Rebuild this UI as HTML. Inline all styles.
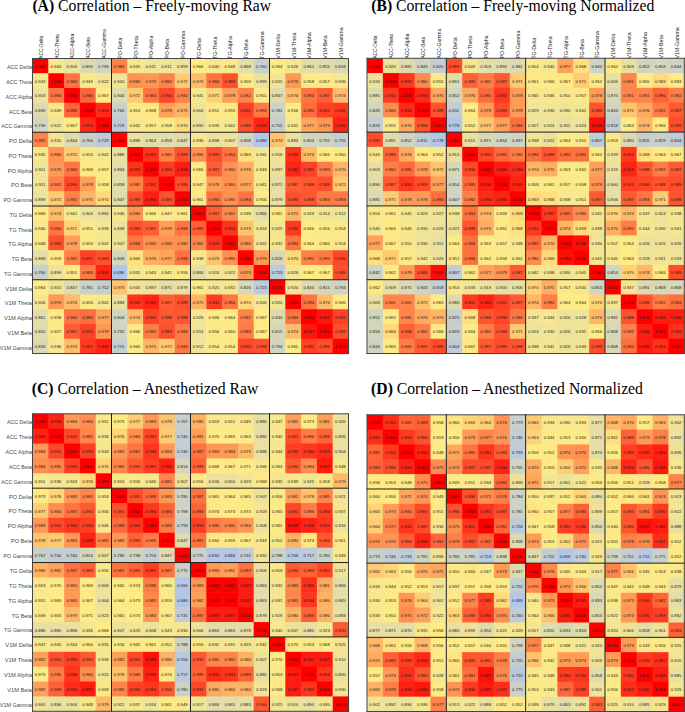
<!DOCTYPE html>
<html><head><meta charset="utf-8"><title>Correlation matrices</title>
<style>
html,body{margin:0;padding:0;background:#fff;}
body{width:685px;height:712px;overflow:hidden;position:relative;}
svg{position:absolute;left:0;top:0;display:block;}
.n{font-family:"Liberation Sans",sans-serif;font-size:4.25px;fill:#1a1a1a;text-anchor:middle;}
.r{font-family:"Liberation Sans",sans-serif;font-size:5.75px;fill:#484848;text-anchor:end;}
.c{font-family:"Liberation Sans",sans-serif;font-size:5.4px;fill:#161616;text-anchor:start;}
.t{font-family:"Liberation Serif",serif;font-size:15.7px;fill:#000;}
.t tspan{font-weight:bold;}
.l{stroke:#202020;stroke-width:1;fill:none;}
.o{stroke:#444;stroke-width:1;}
</style></head><body>
<svg width="685" height="712" viewBox="0 0 685 712">
<rect x="0" y="0" width="685" height="712" fill="#fff"/>

<g id="panelA">
<text class="r" x="31.9" y="69.3" textLength="24.94" lengthAdjust="spacingAndGlyphs">ACC Delta</text>
<text class="r" x="31.9" y="84.05" textLength="25.55" lengthAdjust="spacingAndGlyphs">ACC Theta</text>
<text class="r" x="31.9" y="98.8" textLength="26.35" lengthAdjust="spacingAndGlyphs">ACC Alpha</text>
<text class="r" x="31.9" y="113.55" textLength="22.93" lengthAdjust="spacingAndGlyphs">ACC Beta</text>
<text class="r" x="31.9" y="128.3" textLength="30.57" lengthAdjust="spacingAndGlyphs">ACC Gamma</text>
<text class="r" x="31.9" y="143.05" textLength="22.82" lengthAdjust="spacingAndGlyphs">PO Delta</text>
<text class="r" x="31.9" y="157.8" textLength="23.43" lengthAdjust="spacingAndGlyphs">PO Theta</text>
<text class="r" x="31.9" y="172.55" textLength="24.23" lengthAdjust="spacingAndGlyphs">PO Alpha</text>
<text class="r" x="31.9" y="187.3" textLength="20.82" lengthAdjust="spacingAndGlyphs">PO Beta</text>
<text class="r" x="31.9" y="202.05" textLength="28.45" lengthAdjust="spacingAndGlyphs">PO Gamma</text>
<text class="r" x="31.9" y="216.8" textLength="22.22" lengthAdjust="spacingAndGlyphs">TG Delta</text>
<text class="r" x="31.9" y="231.55" textLength="22.83" lengthAdjust="spacingAndGlyphs">TG Theta</text>
<text class="r" x="31.9" y="246.3" textLength="23.63" lengthAdjust="spacingAndGlyphs">TG Alpha</text>
<text class="r" x="31.9" y="261.05" textLength="20.21" lengthAdjust="spacingAndGlyphs">TG Beta</text>
<text class="r" x="31.9" y="275.8" textLength="27.85" lengthAdjust="spacingAndGlyphs">TG Gamma</text>
<text class="r" x="31.9" y="290.55" textLength="26.54" lengthAdjust="spacingAndGlyphs">V1M Delta</text>
<text class="r" x="31.9" y="305.3" textLength="27.15" lengthAdjust="spacingAndGlyphs">V1M Theta</text>
<text class="r" x="31.9" y="320.05" textLength="27.95" lengthAdjust="spacingAndGlyphs">V1M Alpha</text>
<text class="r" x="31.9" y="334.8" textLength="24.54" lengthAdjust="spacingAndGlyphs">V1M Beta</text>
<text class="r" x="31.9" y="349.55" textLength="32.17" lengthAdjust="spacingAndGlyphs">V1M Gamma</text>
<text class="c" transform="translate(42.75,58.8) rotate(-90)" textLength="23.08" lengthAdjust="spacingAndGlyphs">ACC-Delta</text>
<text class="c" transform="translate(58.55,58.8) rotate(-90)" textLength="24.58" lengthAdjust="spacingAndGlyphs">ACC-Theta</text>
<text class="c" transform="translate(74.35,58.8) rotate(-90)" textLength="24.98" lengthAdjust="spacingAndGlyphs">ACC-Alpha</text>
<text class="c" transform="translate(90.15,58.8) rotate(-90)" textLength="21.82" lengthAdjust="spacingAndGlyphs">ACC-Beta</text>
<text class="c" transform="translate(105.95,58.8) rotate(-90)" textLength="29.79" lengthAdjust="spacingAndGlyphs">ACC-Gamma</text>
<text class="c" transform="translate(121.75,58.8) rotate(-90)" textLength="21.31" lengthAdjust="spacingAndGlyphs">PO-Delta</text>
<text class="c" transform="translate(137.55,58.8) rotate(-90)" textLength="22.8" lengthAdjust="spacingAndGlyphs">PO-Theta</text>
<text class="c" transform="translate(153.35,58.8) rotate(-90)" textLength="23.2" lengthAdjust="spacingAndGlyphs">PO-Alpha</text>
<text class="c" transform="translate(169.15,58.8) rotate(-90)" textLength="20.05" lengthAdjust="spacingAndGlyphs">PO-Beta</text>
<text class="c" transform="translate(184.95,58.8) rotate(-90)" textLength="28.01" lengthAdjust="spacingAndGlyphs">PO-Gamma</text>
<text class="c" transform="translate(200.75,58.8) rotate(-90)" textLength="20.73" lengthAdjust="spacingAndGlyphs">TG-Delta</text>
<text class="c" transform="translate(216.55,58.8) rotate(-90)" textLength="22.23" lengthAdjust="spacingAndGlyphs">TG-Theta</text>
<text class="c" transform="translate(232.35,58.8) rotate(-90)" textLength="22.63" lengthAdjust="spacingAndGlyphs">TG-Alpha</text>
<text class="c" transform="translate(248.15,58.8) rotate(-90)" textLength="19.47" lengthAdjust="spacingAndGlyphs">TG-Beta</text>
<text class="c" transform="translate(263.95,58.8) rotate(-90)" textLength="27.44" lengthAdjust="spacingAndGlyphs">TG-Gamma</text>
<text class="c" transform="translate(279.75,58.8) rotate(-90)" textLength="24.71" lengthAdjust="spacingAndGlyphs">V1M-Delta</text>
<text class="c" transform="translate(295.55,58.8) rotate(-90)" textLength="26.21" lengthAdjust="spacingAndGlyphs">V1M-Theta</text>
<text class="c" transform="translate(311.35,58.8) rotate(-90)" textLength="26.61" lengthAdjust="spacingAndGlyphs">V1M-Alpha</text>
<text class="c" transform="translate(327.15,58.8) rotate(-90)" textLength="23.45" lengthAdjust="spacingAndGlyphs">V1M-Beta</text>
<text class="c" transform="translate(342.95,58.8) rotate(-90)" textLength="31.42" lengthAdjust="spacingAndGlyphs">V1M-Gamma</text>
<rect x="32.5" y="58.5" width="16.4" height="15.35" fill="#ff0000"/>
<rect x="48.3" y="58.5" width="16.4" height="15.35" fill="#f8e88d"/>
<rect x="64.1" y="58.5" width="16.4" height="15.35" fill="#eee39b"/>
<rect x="79.9" y="58.5" width="16.4" height="15.35" fill="#dddab1"/>
<rect x="95.7" y="58.5" width="16.4" height="15.35" fill="#d2d5bf"/>
<rect x="111.5" y="58.5" width="16.4" height="15.35" fill="#ff8249"/>
<rect x="127.3" y="58.5" width="16.4" height="15.35" fill="#f6e78f"/>
<rect x="143.1" y="58.5" width="16.4" height="15.35" fill="#f0e498"/>
<rect x="158.9" y="58.5" width="16.4" height="15.35" fill="#f0e498"/>
<rect x="174.7" y="58.5" width="16.4" height="15.35" fill="#ede29c"/>
<rect x="190.5" y="58.5" width="16.4" height="15.35" fill="#ffeb85"/>
<rect x="206.3" y="58.5" width="16.4" height="15.35" fill="#f8e78e"/>
<rect x="222.1" y="58.5" width="16.4" height="15.35" fill="#fae88b"/>
<rect x="237.9" y="58.5" width="16.4" height="15.35" fill="#e4dea7"/>
<rect x="253.7" y="58.5" width="16.4" height="15.35" fill="#c8d0cd"/>
<rect x="269.5" y="58.5" width="16.4" height="15.35" fill="#feeb85"/>
<rect x="285.3" y="58.5" width="16.4" height="15.35" fill="#f4e693"/>
<rect x="301.1" y="58.5" width="16.4" height="15.35" fill="#e3dda9"/>
<rect x="316.9" y="58.5" width="16.4" height="15.35" fill="#e1dcac"/>
<rect x="332.7" y="58.5" width="16.4" height="15.35" fill="#dbd9b3"/>
<rect x="32.5" y="73.25" width="16.4" height="15.35" fill="#f8e88d"/>
<rect x="48.3" y="73.25" width="16.4" height="15.35" fill="#ff0000"/>
<rect x="64.1" y="73.25" width="16.4" height="15.35" fill="#ff7441"/>
<rect x="79.9" y="73.25" width="16.4" height="15.35" fill="#fae98b"/>
<rect x="95.7" y="73.25" width="16.4" height="15.35" fill="#f3e594"/>
<rect x="111.5" y="73.25" width="16.4" height="15.35" fill="#f2e595"/>
<rect x="127.3" y="73.25" width="16.4" height="15.35" fill="#ff9151"/>
<rect x="143.1" y="73.25" width="16.4" height="15.35" fill="#ff9855"/>
<rect x="158.9" y="73.25" width="16.4" height="15.35" fill="#ff8249"/>
<rect x="174.7" y="73.25" width="16.4" height="15.35" fill="#ffca72"/>
<rect x="190.5" y="73.25" width="16.4" height="15.35" fill="#ffbc6a"/>
<rect x="206.3" y="73.25" width="16.4" height="15.35" fill="#ff7441"/>
<rect x="222.1" y="73.25" width="16.4" height="15.35" fill="#ff502d"/>
<rect x="237.9" y="73.25" width="16.4" height="15.35" fill="#fdea87"/>
<rect x="253.7" y="73.25" width="16.4" height="15.35" fill="#ede29c"/>
<rect x="269.5" y="73.25" width="16.4" height="15.35" fill="#f1e496"/>
<rect x="285.3" y="73.25" width="16.4" height="15.35" fill="#ff9855"/>
<rect x="301.1" y="73.25" width="16.4" height="15.35" fill="#fcea87"/>
<rect x="316.9" y="73.25" width="16.4" height="15.35" fill="#fcea88"/>
<rect x="332.7" y="73.25" width="16.4" height="15.35" fill="#f7e78f"/>
<rect x="32.5" y="88" width="16.4" height="15.35" fill="#eee39b"/>
<rect x="48.3" y="88" width="16.4" height="15.35" fill="#ff7441"/>
<rect x="64.1" y="88" width="16.4" height="15.35" fill="#ff0000"/>
<rect x="79.9" y="88" width="16.4" height="15.35" fill="#ff6539"/>
<rect x="95.7" y="88" width="16.4" height="15.35" fill="#ffeb84"/>
<rect x="111.5" y="88" width="16.4" height="15.35" fill="#dedbaf"/>
<rect x="127.3" y="88" width="16.4" height="15.35" fill="#ffca72"/>
<rect x="143.1" y="88" width="16.4" height="15.35" fill="#ff7441"/>
<rect x="158.9" y="88" width="16.4" height="15.35" fill="#ff4829"/>
<rect x="174.7" y="88" width="16.4" height="15.35" fill="#ff8249"/>
<rect x="190.5" y="88" width="16.4" height="15.35" fill="#f8e88d"/>
<rect x="206.3" y="88" width="16.4" height="15.35" fill="#ffd276"/>
<rect x="222.1" y="88" width="16.4" height="15.35" fill="#ff9f59"/>
<rect x="237.9" y="88" width="16.4" height="15.35" fill="#ff8249"/>
<rect x="253.7" y="88" width="16.4" height="15.35" fill="#fbe98a"/>
<rect x="269.5" y="88" width="16.4" height="15.35" fill="#dfdbae"/>
<rect x="285.3" y="88" width="16.4" height="15.35" fill="#ffbc6a"/>
<rect x="301.1" y="88" width="16.4" height="15.35" fill="#ff7441"/>
<rect x="316.9" y="88" width="16.4" height="15.35" fill="#ff5e35"/>
<rect x="332.7" y="88" width="16.4" height="15.35" fill="#ffbc6a"/>
<rect x="32.5" y="102.75" width="16.4" height="15.35" fill="#dddab1"/>
<rect x="48.3" y="102.75" width="16.4" height="15.35" fill="#fae98b"/>
<rect x="64.1" y="102.75" width="16.4" height="15.35" fill="#ff6539"/>
<rect x="79.9" y="102.75" width="16.4" height="15.35" fill="#ff0000"/>
<rect x="95.7" y="102.75" width="16.4" height="15.35" fill="#ff2b18"/>
<rect x="111.5" y="102.75" width="16.4" height="15.35" fill="#c9d1cb"/>
<rect x="127.3" y="102.75" width="16.4" height="15.35" fill="#fbe989"/>
<rect x="143.1" y="102.75" width="16.4" height="15.35" fill="#ffe782"/>
<rect x="158.9" y="102.75" width="16.4" height="15.35" fill="#ff9f59"/>
<rect x="174.7" y="102.75" width="16.4" height="15.35" fill="#ffb566"/>
<rect x="190.5" y="102.75" width="16.4" height="15.35" fill="#eee39a"/>
<rect x="206.3" y="102.75" width="16.4" height="15.35" fill="#fbe98a"/>
<rect x="222.1" y="102.75" width="16.4" height="15.35" fill="#fdea87"/>
<rect x="237.9" y="102.75" width="16.4" height="15.35" fill="#ff4125"/>
<rect x="253.7" y="102.75" width="16.4" height="15.35" fill="#ff7b45"/>
<rect x="269.5" y="102.75" width="16.4" height="15.35" fill="#cdd2c6"/>
<rect x="285.3" y="102.75" width="16.4" height="15.35" fill="#fce988"/>
<rect x="301.1" y="102.75" width="16.4" height="15.35" fill="#ff6c3d"/>
<rect x="316.9" y="102.75" width="16.4" height="15.35" fill="#ff4125"/>
<rect x="332.7" y="102.75" width="16.4" height="15.35" fill="#ff3a20"/>
<rect x="32.5" y="117.5" width="16.4" height="15.35" fill="#d2d5bf"/>
<rect x="48.3" y="117.5" width="16.4" height="15.35" fill="#f3e594"/>
<rect x="64.1" y="117.5" width="16.4" height="15.35" fill="#ffeb84"/>
<rect x="79.9" y="117.5" width="16.4" height="15.35" fill="#ff2b18"/>
<rect x="95.7" y="117.5" width="16.4" height="15.35" fill="#ff0000"/>
<rect x="111.5" y="117.5" width="16.4" height="15.35" fill="#bfccd8"/>
<rect x="127.3" y="117.5" width="16.4" height="15.35" fill="#f8e88d"/>
<rect x="143.1" y="117.5" width="16.4" height="15.35" fill="#fcea88"/>
<rect x="158.9" y="117.5" width="16.4" height="15.35" fill="#fcea87"/>
<rect x="174.7" y="117.5" width="16.4" height="15.35" fill="#ffd97a"/>
<rect x="190.5" y="117.5" width="16.4" height="15.35" fill="#eae19f"/>
<rect x="206.3" y="117.5" width="16.4" height="15.35" fill="#f7e78e"/>
<rect x="222.1" y="117.5" width="16.4" height="15.35" fill="#f8e88d"/>
<rect x="237.9" y="117.5" width="16.4" height="15.35" fill="#ff502d"/>
<rect x="253.7" y="117.5" width="16.4" height="15.35" fill="#ff2414"/>
<rect x="269.5" y="117.5" width="16.4" height="15.35" fill="#c6cfd0"/>
<rect x="285.3" y="117.5" width="16.4" height="15.35" fill="#f8e88d"/>
<rect x="301.1" y="117.5" width="16.4" height="15.35" fill="#ffa65d"/>
<rect x="316.9" y="117.5" width="16.4" height="15.35" fill="#ff9855"/>
<rect x="332.7" y="117.5" width="16.4" height="15.35" fill="#ff2414"/>
<rect x="32.5" y="132.25" width="16.4" height="15.35" fill="#ff8249"/>
<rect x="48.3" y="132.25" width="16.4" height="15.35" fill="#f2e595"/>
<rect x="64.1" y="132.25" width="16.4" height="15.35" fill="#dedbaf"/>
<rect x="79.9" y="132.25" width="16.4" height="15.35" fill="#c9d1cb"/>
<rect x="95.7" y="132.25" width="16.4" height="15.35" fill="#bfccd8"/>
<rect x="111.5" y="132.25" width="16.4" height="15.35" fill="#ff0000"/>
<rect x="127.3" y="132.25" width="16.4" height="15.35" fill="#e9e0a1"/>
<rect x="143.1" y="132.25" width="16.4" height="15.35" fill="#e3dda8"/>
<rect x="158.9" y="132.25" width="16.4" height="15.35" fill="#e2ddab"/>
<rect x="174.7" y="132.25" width="16.4" height="15.35" fill="#dfdbae"/>
<rect x="190.5" y="132.25" width="16.4" height="15.35" fill="#f7e78f"/>
<rect x="206.3" y="132.25" width="16.4" height="15.35" fill="#ece29c"/>
<rect x="222.1" y="132.25" width="16.4" height="15.35" fill="#efe399"/>
<rect x="237.9" y="132.25" width="16.4" height="15.35" fill="#d5d6bc"/>
<rect x="253.7" y="132.25" width="16.4" height="15.35" fill="#b4c6e7"/>
<rect x="269.5" y="132.25" width="16.4" height="15.35" fill="#ffc36e"/>
<rect x="285.3" y="132.25" width="16.4" height="15.35" fill="#e9e0a1"/>
<rect x="301.1" y="132.25" width="16.4" height="15.35" fill="#d3d6be"/>
<rect x="316.9" y="132.25" width="16.4" height="15.35" fill="#d0d4c2"/>
<rect x="332.7" y="132.25" width="16.4" height="15.35" fill="#c6cfcf"/>
<rect x="32.5" y="147" width="16.4" height="15.35" fill="#f6e78f"/>
<rect x="48.3" y="147" width="16.4" height="15.35" fill="#ff9151"/>
<rect x="64.1" y="147" width="16.4" height="15.35" fill="#ffca72"/>
<rect x="79.9" y="147" width="16.4" height="15.35" fill="#fbe989"/>
<rect x="95.7" y="147" width="16.4" height="15.35" fill="#f8e88d"/>
<rect x="111.5" y="147" width="16.4" height="15.35" fill="#e9e0a1"/>
<rect x="127.3" y="147" width="16.4" height="15.35" fill="#ff0000"/>
<rect x="143.1" y="147" width="16.4" height="15.35" fill="#ff331c"/>
<rect x="158.9" y="147" width="16.4" height="15.35" fill="#ff8249"/>
<rect x="174.7" y="147" width="16.4" height="15.35" fill="#ff502d"/>
<rect x="190.5" y="147" width="16.4" height="15.35" fill="#ff9151"/>
<rect x="206.3" y="147" width="16.4" height="15.35" fill="#ff502d"/>
<rect x="222.1" y="147" width="16.4" height="15.35" fill="#ff7441"/>
<rect x="237.9" y="147" width="16.4" height="15.35" fill="#ffe07e"/>
<rect x="253.7" y="147" width="16.4" height="15.35" fill="#f5e691"/>
<rect x="269.5" y="147" width="16.4" height="15.35" fill="#f1e496"/>
<rect x="285.3" y="147" width="16.4" height="15.35" fill="#ff331c"/>
<rect x="301.1" y="147" width="16.4" height="15.35" fill="#ffbc6a"/>
<rect x="316.9" y="147" width="16.4" height="15.35" fill="#ffeb85"/>
<rect x="332.7" y="147" width="16.4" height="15.35" fill="#fdea87"/>
<rect x="32.5" y="161.75" width="16.4" height="15.35" fill="#f0e498"/>
<rect x="48.3" y="161.75" width="16.4" height="15.35" fill="#ff9855"/>
<rect x="64.1" y="161.75" width="16.4" height="15.35" fill="#ff7441"/>
<rect x="79.9" y="161.75" width="16.4" height="15.35" fill="#ffe782"/>
<rect x="95.7" y="161.75" width="16.4" height="15.35" fill="#fcea88"/>
<rect x="111.5" y="161.75" width="16.4" height="15.35" fill="#e3dda8"/>
<rect x="127.3" y="161.75" width="16.4" height="15.35" fill="#ff331c"/>
<rect x="143.1" y="161.75" width="16.4" height="15.35" fill="#ff0000"/>
<rect x="158.9" y="161.75" width="16.4" height="15.35" fill="#ff3a20"/>
<rect x="174.7" y="161.75" width="16.4" height="15.35" fill="#ff1d10"/>
<rect x="190.5" y="161.75" width="16.4" height="15.35" fill="#ffeb85"/>
<rect x="206.3" y="161.75" width="16.4" height="15.35" fill="#ff5e35"/>
<rect x="222.1" y="161.75" width="16.4" height="15.35" fill="#ff9151"/>
<rect x="237.9" y="161.75" width="16.4" height="15.35" fill="#ffae61"/>
<rect x="253.7" y="161.75" width="16.4" height="15.35" fill="#f8e88d"/>
<rect x="269.5" y="161.75" width="16.4" height="15.35" fill="#ece29d"/>
<rect x="285.3" y="161.75" width="16.4" height="15.35" fill="#ff2414"/>
<rect x="301.1" y="161.75" width="16.4" height="15.35" fill="#ff4125"/>
<rect x="316.9" y="161.75" width="16.4" height="15.35" fill="#ff7b45"/>
<rect x="332.7" y="161.75" width="16.4" height="15.35" fill="#ffb566"/>
<rect x="32.5" y="176.5" width="16.4" height="15.35" fill="#f0e498"/>
<rect x="48.3" y="176.5" width="16.4" height="15.35" fill="#ff8249"/>
<rect x="64.1" y="176.5" width="16.4" height="15.35" fill="#ff4829"/>
<rect x="79.9" y="176.5" width="16.4" height="15.35" fill="#ff9f59"/>
<rect x="95.7" y="176.5" width="16.4" height="15.35" fill="#fcea87"/>
<rect x="111.5" y="176.5" width="16.4" height="15.35" fill="#e2ddab"/>
<rect x="127.3" y="176.5" width="16.4" height="15.35" fill="#ff8249"/>
<rect x="143.1" y="176.5" width="16.4" height="15.35" fill="#ff3a20"/>
<rect x="158.9" y="176.5" width="16.4" height="15.35" fill="#ff0000"/>
<rect x="174.7" y="176.5" width="16.4" height="15.35" fill="#ff502d"/>
<rect x="190.5" y="176.5" width="16.4" height="15.35" fill="#fae88b"/>
<rect x="206.3" y="176.5" width="16.4" height="15.35" fill="#ff9f59"/>
<rect x="222.1" y="176.5" width="16.4" height="15.35" fill="#ff9151"/>
<rect x="237.9" y="176.5" width="16.4" height="15.35" fill="#ffa65d"/>
<rect x="253.7" y="176.5" width="16.4" height="15.35" fill="#f8e88d"/>
<rect x="269.5" y="176.5" width="16.4" height="15.35" fill="#e5dea6"/>
<rect x="285.3" y="176.5" width="16.4" height="15.35" fill="#ff5e35"/>
<rect x="301.1" y="176.5" width="16.4" height="15.35" fill="#ff5731"/>
<rect x="316.9" y="176.5" width="16.4" height="15.35" fill="#ff502d"/>
<rect x="332.7" y="176.5" width="16.4" height="15.35" fill="#ffca72"/>
<rect x="32.5" y="191.25" width="16.4" height="15.35" fill="#ede29c"/>
<rect x="48.3" y="191.25" width="16.4" height="15.35" fill="#ffca72"/>
<rect x="64.1" y="191.25" width="16.4" height="15.35" fill="#ff8249"/>
<rect x="79.9" y="191.25" width="16.4" height="15.35" fill="#ffb566"/>
<rect x="95.7" y="191.25" width="16.4" height="15.35" fill="#ffd97a"/>
<rect x="111.5" y="191.25" width="16.4" height="15.35" fill="#dfdbae"/>
<rect x="127.3" y="191.25" width="16.4" height="15.35" fill="#ff502d"/>
<rect x="143.1" y="191.25" width="16.4" height="15.35" fill="#ff1d10"/>
<rect x="158.9" y="191.25" width="16.4" height="15.35" fill="#ff502d"/>
<rect x="174.7" y="191.25" width="16.4" height="15.35" fill="#ff0000"/>
<rect x="190.5" y="191.25" width="16.4" height="15.35" fill="#fdea86"/>
<rect x="206.3" y="191.25" width="16.4" height="15.35" fill="#ff7441"/>
<rect x="222.1" y="191.25" width="16.4" height="15.35" fill="#ff9151"/>
<rect x="237.9" y="191.25" width="16.4" height="15.35" fill="#ff7441"/>
<rect x="253.7" y="191.25" width="16.4" height="15.35" fill="#fce988"/>
<rect x="269.5" y="191.25" width="16.4" height="15.35" fill="#e7dfa3"/>
<rect x="285.3" y="191.25" width="16.4" height="15.35" fill="#ff502d"/>
<rect x="301.1" y="191.25" width="16.4" height="15.35" fill="#ff5731"/>
<rect x="316.9" y="191.25" width="16.4" height="15.35" fill="#ff7b45"/>
<rect x="332.7" y="191.25" width="16.4" height="15.35" fill="#ff7b45"/>
<rect x="32.5" y="206" width="16.4" height="15.35" fill="#ffeb85"/>
<rect x="48.3" y="206" width="16.4" height="15.35" fill="#ffbc6a"/>
<rect x="64.1" y="206" width="16.4" height="15.35" fill="#f8e88d"/>
<rect x="79.9" y="206" width="16.4" height="15.35" fill="#eee39a"/>
<rect x="95.7" y="206" width="16.4" height="15.35" fill="#eae19f"/>
<rect x="111.5" y="206" width="16.4" height="15.35" fill="#f7e78f"/>
<rect x="127.3" y="206" width="16.4" height="15.35" fill="#ff9151"/>
<rect x="143.1" y="206" width="16.4" height="15.35" fill="#ffeb85"/>
<rect x="158.9" y="206" width="16.4" height="15.35" fill="#fae88b"/>
<rect x="174.7" y="206" width="16.4" height="15.35" fill="#fdea86"/>
<rect x="190.5" y="206" width="16.4" height="15.35" fill="#ff0000"/>
<rect x="206.3" y="206" width="16.4" height="15.35" fill="#ff5e35"/>
<rect x="222.1" y="206" width="16.4" height="15.35" fill="#ff894d"/>
<rect x="237.9" y="206" width="16.4" height="15.35" fill="#f7e78e"/>
<rect x="253.7" y="206" width="16.4" height="15.35" fill="#e4dea8"/>
<rect x="269.5" y="206" width="16.4" height="15.35" fill="#fdea86"/>
<rect x="285.3" y="206" width="16.4" height="15.35" fill="#ffb566"/>
<rect x="301.1" y="206" width="16.4" height="15.35" fill="#f5e692"/>
<rect x="316.9" y="206" width="16.4" height="15.35" fill="#f1e497"/>
<rect x="332.7" y="206" width="16.4" height="15.35" fill="#f0e498"/>
<rect x="32.5" y="220.75" width="16.4" height="15.35" fill="#f8e78e"/>
<rect x="48.3" y="220.75" width="16.4" height="15.35" fill="#ff7441"/>
<rect x="64.1" y="220.75" width="16.4" height="15.35" fill="#ffd276"/>
<rect x="79.9" y="220.75" width="16.4" height="15.35" fill="#fbe98a"/>
<rect x="95.7" y="220.75" width="16.4" height="15.35" fill="#f7e78e"/>
<rect x="111.5" y="220.75" width="16.4" height="15.35" fill="#ece29c"/>
<rect x="127.3" y="220.75" width="16.4" height="15.35" fill="#ff502d"/>
<rect x="143.1" y="220.75" width="16.4" height="15.35" fill="#ff5e35"/>
<rect x="158.9" y="220.75" width="16.4" height="15.35" fill="#ff9f59"/>
<rect x="174.7" y="220.75" width="16.4" height="15.35" fill="#ff7441"/>
<rect x="190.5" y="220.75" width="16.4" height="15.35" fill="#ff5e35"/>
<rect x="206.3" y="220.75" width="16.4" height="15.35" fill="#ff0000"/>
<rect x="222.1" y="220.75" width="16.4" height="15.35" fill="#ff331c"/>
<rect x="237.9" y="220.75" width="16.4" height="15.35" fill="#ffc36e"/>
<rect x="253.7" y="220.75" width="16.4" height="15.35" fill="#f3e593"/>
<rect x="269.5" y="220.75" width="16.4" height="15.35" fill="#f4e593"/>
<rect x="285.3" y="220.75" width="16.4" height="15.35" fill="#ff3a20"/>
<rect x="301.1" y="220.75" width="16.4" height="15.35" fill="#ffeb85"/>
<rect x="316.9" y="220.75" width="16.4" height="15.35" fill="#fce988"/>
<rect x="332.7" y="220.75" width="16.4" height="15.35" fill="#fbe989"/>
<rect x="32.5" y="235.5" width="16.4" height="15.35" fill="#fae88b"/>
<rect x="48.3" y="235.5" width="16.4" height="15.35" fill="#ff502d"/>
<rect x="64.1" y="235.5" width="16.4" height="15.35" fill="#ff9f59"/>
<rect x="79.9" y="235.5" width="16.4" height="15.35" fill="#fdea87"/>
<rect x="95.7" y="235.5" width="16.4" height="15.35" fill="#f8e88d"/>
<rect x="111.5" y="235.5" width="16.4" height="15.35" fill="#efe399"/>
<rect x="127.3" y="235.5" width="16.4" height="15.35" fill="#ff7441"/>
<rect x="143.1" y="235.5" width="16.4" height="15.35" fill="#ff9151"/>
<rect x="158.9" y="235.5" width="16.4" height="15.35" fill="#ff9151"/>
<rect x="174.7" y="235.5" width="16.4" height="15.35" fill="#ff9151"/>
<rect x="190.5" y="235.5" width="16.4" height="15.35" fill="#ff894d"/>
<rect x="206.3" y="235.5" width="16.4" height="15.35" fill="#ff331c"/>
<rect x="222.1" y="235.5" width="16.4" height="15.35" fill="#ff0000"/>
<rect x="237.9" y="235.5" width="16.4" height="15.35" fill="#ff9151"/>
<rect x="253.7" y="235.5" width="16.4" height="15.35" fill="#f3e594"/>
<rect x="269.5" y="235.5" width="16.4" height="15.35" fill="#f6e690"/>
<rect x="285.3" y="235.5" width="16.4" height="15.35" fill="#ff7441"/>
<rect x="301.1" y="235.5" width="16.4" height="15.35" fill="#feeb85"/>
<rect x="316.9" y="235.5" width="16.4" height="15.35" fill="#fdea87"/>
<rect x="332.7" y="235.5" width="16.4" height="15.35" fill="#fbe989"/>
<rect x="32.5" y="250.25" width="16.4" height="15.35" fill="#e4dea7"/>
<rect x="48.3" y="250.25" width="16.4" height="15.35" fill="#fdea87"/>
<rect x="64.1" y="250.25" width="16.4" height="15.35" fill="#ff8249"/>
<rect x="79.9" y="250.25" width="16.4" height="15.35" fill="#ff4125"/>
<rect x="95.7" y="250.25" width="16.4" height="15.35" fill="#ff502d"/>
<rect x="111.5" y="250.25" width="16.4" height="15.35" fill="#d5d6bc"/>
<rect x="127.3" y="250.25" width="16.4" height="15.35" fill="#ffe07e"/>
<rect x="143.1" y="250.25" width="16.4" height="15.35" fill="#ffae61"/>
<rect x="158.9" y="250.25" width="16.4" height="15.35" fill="#ffa65d"/>
<rect x="174.7" y="250.25" width="16.4" height="15.35" fill="#ff7441"/>
<rect x="190.5" y="250.25" width="16.4" height="15.35" fill="#f7e78e"/>
<rect x="206.3" y="250.25" width="16.4" height="15.35" fill="#ffc36e"/>
<rect x="222.1" y="250.25" width="16.4" height="15.35" fill="#ff9151"/>
<rect x="237.9" y="250.25" width="16.4" height="15.35" fill="#ff0000"/>
<rect x="253.7" y="250.25" width="16.4" height="15.35" fill="#ff9855"/>
<rect x="269.5" y="250.25" width="16.4" height="15.35" fill="#d9d8b6"/>
<rect x="285.3" y="250.25" width="16.4" height="15.35" fill="#ffd97a"/>
<rect x="301.1" y="250.25" width="16.4" height="15.35" fill="#ff8249"/>
<rect x="316.9" y="250.25" width="16.4" height="15.35" fill="#ff7b45"/>
<rect x="332.7" y="250.25" width="16.4" height="15.35" fill="#ff4829"/>
<rect x="32.5" y="265" width="16.4" height="15.35" fill="#c8d0cd"/>
<rect x="48.3" y="265" width="16.4" height="15.35" fill="#ede29c"/>
<rect x="64.1" y="265" width="16.4" height="15.35" fill="#fbe98a"/>
<rect x="79.9" y="265" width="16.4" height="15.35" fill="#ff7b45"/>
<rect x="95.7" y="265" width="16.4" height="15.35" fill="#ff2414"/>
<rect x="111.5" y="265" width="16.4" height="15.35" fill="#b4c6e7"/>
<rect x="127.3" y="265" width="16.4" height="15.35" fill="#f5e691"/>
<rect x="143.1" y="265" width="16.4" height="15.35" fill="#f8e88d"/>
<rect x="158.9" y="265" width="16.4" height="15.35" fill="#f8e88d"/>
<rect x="174.7" y="265" width="16.4" height="15.35" fill="#fce988"/>
<rect x="190.5" y="265" width="16.4" height="15.35" fill="#e4dea8"/>
<rect x="206.3" y="265" width="16.4" height="15.35" fill="#f3e593"/>
<rect x="222.1" y="265" width="16.4" height="15.35" fill="#f3e594"/>
<rect x="237.9" y="265" width="16.4" height="15.35" fill="#ff9855"/>
<rect x="253.7" y="265" width="16.4" height="15.35" fill="#ff0000"/>
<rect x="269.5" y="265" width="16.4" height="15.35" fill="#becbda"/>
<rect x="285.3" y="265" width="16.4" height="15.35" fill="#f4e693"/>
<rect x="301.1" y="265" width="16.4" height="15.35" fill="#ffeb84"/>
<rect x="316.9" y="265" width="16.4" height="15.35" fill="#ffeb84"/>
<rect x="332.7" y="265" width="16.4" height="15.35" fill="#ff502d"/>
<rect x="32.5" y="279.75" width="16.4" height="15.35" fill="#feeb85"/>
<rect x="48.3" y="279.75" width="16.4" height="15.35" fill="#f1e496"/>
<rect x="64.1" y="279.75" width="16.4" height="15.35" fill="#dfdbae"/>
<rect x="79.9" y="279.75" width="16.4" height="15.35" fill="#cdd2c6"/>
<rect x="95.7" y="279.75" width="16.4" height="15.35" fill="#c6cfd0"/>
<rect x="111.5" y="279.75" width="16.4" height="15.35" fill="#ffc36e"/>
<rect x="127.3" y="279.75" width="16.4" height="15.35" fill="#f1e496"/>
<rect x="143.1" y="279.75" width="16.4" height="15.35" fill="#ece29d"/>
<rect x="158.9" y="279.75" width="16.4" height="15.35" fill="#e5dea6"/>
<rect x="174.7" y="279.75" width="16.4" height="15.35" fill="#e7dfa3"/>
<rect x="190.5" y="279.75" width="16.4" height="15.35" fill="#fdea86"/>
<rect x="206.3" y="279.75" width="16.4" height="15.35" fill="#f4e593"/>
<rect x="222.1" y="279.75" width="16.4" height="15.35" fill="#f6e690"/>
<rect x="237.9" y="279.75" width="16.4" height="15.35" fill="#d9d8b6"/>
<rect x="253.7" y="279.75" width="16.4" height="15.35" fill="#becbda"/>
<rect x="269.5" y="279.75" width="16.4" height="15.35" fill="#ff0000"/>
<rect x="285.3" y="279.75" width="16.4" height="15.35" fill="#f2e595"/>
<rect x="301.1" y="279.75" width="16.4" height="15.35" fill="#dddab1"/>
<rect x="316.9" y="279.75" width="16.4" height="15.35" fill="#d6d7ba"/>
<rect x="332.7" y="279.75" width="16.4" height="15.35" fill="#d1d4c1"/>
<rect x="32.5" y="294.5" width="16.4" height="15.35" fill="#f4e693"/>
<rect x="48.3" y="294.5" width="16.4" height="15.35" fill="#ff9855"/>
<rect x="64.1" y="294.5" width="16.4" height="15.35" fill="#ffbc6a"/>
<rect x="79.9" y="294.5" width="16.4" height="15.35" fill="#fce988"/>
<rect x="95.7" y="294.5" width="16.4" height="15.35" fill="#f8e88d"/>
<rect x="111.5" y="294.5" width="16.4" height="15.35" fill="#e9e0a1"/>
<rect x="127.3" y="294.5" width="16.4" height="15.35" fill="#ff331c"/>
<rect x="143.1" y="294.5" width="16.4" height="15.35" fill="#ff2414"/>
<rect x="158.9" y="294.5" width="16.4" height="15.35" fill="#ff5e35"/>
<rect x="174.7" y="294.5" width="16.4" height="15.35" fill="#ff502d"/>
<rect x="190.5" y="294.5" width="16.4" height="15.35" fill="#ffb566"/>
<rect x="206.3" y="294.5" width="16.4" height="15.35" fill="#ff3a20"/>
<rect x="222.1" y="294.5" width="16.4" height="15.35" fill="#ff7441"/>
<rect x="237.9" y="294.5" width="16.4" height="15.35" fill="#ffd97a"/>
<rect x="253.7" y="294.5" width="16.4" height="15.35" fill="#f4e693"/>
<rect x="269.5" y="294.5" width="16.4" height="15.35" fill="#f2e595"/>
<rect x="285.3" y="294.5" width="16.4" height="15.35" fill="#ff0000"/>
<rect x="301.1" y="294.5" width="16.4" height="15.35" fill="#ff7441"/>
<rect x="316.9" y="294.5" width="16.4" height="15.35" fill="#ffbc6a"/>
<rect x="332.7" y="294.5" width="16.4" height="15.35" fill="#feeb85"/>
<rect x="32.5" y="309.25" width="16.4" height="15.35" fill="#e3dda9"/>
<rect x="48.3" y="309.25" width="16.4" height="15.35" fill="#fcea87"/>
<rect x="64.1" y="309.25" width="16.4" height="15.35" fill="#ff7441"/>
<rect x="79.9" y="309.25" width="16.4" height="15.35" fill="#ff6c3d"/>
<rect x="95.7" y="309.25" width="16.4" height="15.35" fill="#ffa65d"/>
<rect x="111.5" y="309.25" width="16.4" height="15.35" fill="#d3d6be"/>
<rect x="127.3" y="309.25" width="16.4" height="15.35" fill="#ffbc6a"/>
<rect x="143.1" y="309.25" width="16.4" height="15.35" fill="#ff4125"/>
<rect x="158.9" y="309.25" width="16.4" height="15.35" fill="#ff5731"/>
<rect x="174.7" y="309.25" width="16.4" height="15.35" fill="#ff5731"/>
<rect x="190.5" y="309.25" width="16.4" height="15.35" fill="#f5e692"/>
<rect x="206.3" y="309.25" width="16.4" height="15.35" fill="#ffeb85"/>
<rect x="222.1" y="309.25" width="16.4" height="15.35" fill="#feeb85"/>
<rect x="237.9" y="309.25" width="16.4" height="15.35" fill="#ff8249"/>
<rect x="253.7" y="309.25" width="16.4" height="15.35" fill="#ffeb84"/>
<rect x="269.5" y="309.25" width="16.4" height="15.35" fill="#dddab1"/>
<rect x="285.3" y="309.25" width="16.4" height="15.35" fill="#ff7441"/>
<rect x="301.1" y="309.25" width="16.4" height="15.35" fill="#ff0000"/>
<rect x="316.9" y="309.25" width="16.4" height="15.35" fill="#ff160c"/>
<rect x="332.7" y="309.25" width="16.4" height="15.35" fill="#ff4125"/>
<rect x="32.5" y="324" width="16.4" height="15.35" fill="#e1dcac"/>
<rect x="48.3" y="324" width="16.4" height="15.35" fill="#fcea88"/>
<rect x="64.1" y="324" width="16.4" height="15.35" fill="#ff5e35"/>
<rect x="79.9" y="324" width="16.4" height="15.35" fill="#ff4125"/>
<rect x="95.7" y="324" width="16.4" height="15.35" fill="#ff9855"/>
<rect x="111.5" y="324" width="16.4" height="15.35" fill="#d0d4c2"/>
<rect x="127.3" y="324" width="16.4" height="15.35" fill="#ffeb85"/>
<rect x="143.1" y="324" width="16.4" height="15.35" fill="#ff7b45"/>
<rect x="158.9" y="324" width="16.4" height="15.35" fill="#ff502d"/>
<rect x="174.7" y="324" width="16.4" height="15.35" fill="#ff7b45"/>
<rect x="190.5" y="324" width="16.4" height="15.35" fill="#f1e497"/>
<rect x="206.3" y="324" width="16.4" height="15.35" fill="#fce988"/>
<rect x="222.1" y="324" width="16.4" height="15.35" fill="#fdea87"/>
<rect x="237.9" y="324" width="16.4" height="15.35" fill="#ff7b45"/>
<rect x="253.7" y="324" width="16.4" height="15.35" fill="#ffeb84"/>
<rect x="269.5" y="324" width="16.4" height="15.35" fill="#d6d7ba"/>
<rect x="285.3" y="324" width="16.4" height="15.35" fill="#ffbc6a"/>
<rect x="301.1" y="324" width="16.4" height="15.35" fill="#ff160c"/>
<rect x="316.9" y="324" width="16.4" height="15.35" fill="#ff0000"/>
<rect x="332.7" y="324" width="16.4" height="15.35" fill="#ff502d"/>
<rect x="32.5" y="338.75" width="16.4" height="15.35" fill="#dbd9b3"/>
<rect x="48.3" y="338.75" width="16.4" height="15.35" fill="#f7e78f"/>
<rect x="64.1" y="338.75" width="16.4" height="15.35" fill="#ffbc6a"/>
<rect x="79.9" y="338.75" width="16.4" height="15.35" fill="#ff3a20"/>
<rect x="95.7" y="338.75" width="16.4" height="15.35" fill="#ff2414"/>
<rect x="111.5" y="338.75" width="16.4" height="15.35" fill="#c6cfcf"/>
<rect x="127.3" y="338.75" width="16.4" height="15.35" fill="#fdea87"/>
<rect x="143.1" y="338.75" width="16.4" height="15.35" fill="#ffb566"/>
<rect x="158.9" y="338.75" width="16.4" height="15.35" fill="#ffca72"/>
<rect x="174.7" y="338.75" width="16.4" height="15.35" fill="#ff7b45"/>
<rect x="190.5" y="338.75" width="16.4" height="15.35" fill="#f0e498"/>
<rect x="206.3" y="338.75" width="16.4" height="15.35" fill="#fbe989"/>
<rect x="222.1" y="338.75" width="16.4" height="15.35" fill="#fbe989"/>
<rect x="237.9" y="338.75" width="16.4" height="15.35" fill="#ff4829"/>
<rect x="253.7" y="338.75" width="16.4" height="15.35" fill="#ff502d"/>
<rect x="269.5" y="338.75" width="16.4" height="15.35" fill="#d1d4c1"/>
<rect x="285.3" y="338.75" width="16.4" height="15.35" fill="#feeb85"/>
<rect x="301.1" y="338.75" width="16.4" height="15.35" fill="#ff4125"/>
<rect x="316.9" y="338.75" width="16.4" height="15.35" fill="#ff502d"/>
<rect x="332.7" y="338.75" width="16.4" height="15.35" fill="#ff0000"/>
<text class="n" x="40.1" y="67.97">1.000</text>
<text class="n" x="55.9" y="67.97">0.943</text>
<text class="n" x="71.7" y="67.97">0.903</text>
<text class="n" x="87.5" y="67.97">0.839</text>
<text class="n" x="103.3" y="67.97">0.799</text>
<text class="n" x="119.1" y="67.97">0.982</text>
<text class="n" x="134.9" y="67.97">0.935</text>
<text class="n" x="150.7" y="67.97">0.911</text>
<text class="n" x="166.5" y="67.97">0.911</text>
<text class="n" x="182.3" y="67.97">0.899</text>
<text class="n" x="198.1" y="67.97">0.966</text>
<text class="n" x="213.9" y="67.97">0.940</text>
<text class="n" x="229.7" y="67.97">0.948</text>
<text class="n" x="245.5" y="67.97">0.868</text>
<text class="n" x="261.3" y="67.97">0.760</text>
<text class="n" x="277.1" y="67.97">0.964</text>
<text class="n" x="292.9" y="67.97">0.926</text>
<text class="n" x="308.7" y="67.97">0.861</text>
<text class="n" x="324.5" y="67.97">0.855</text>
<text class="n" x="340.3" y="67.97">0.834</text>
<text class="n" x="40.1" y="82.72">0.943</text>
<text class="n" x="55.9" y="82.72">1.000</text>
<text class="n" x="71.7" y="82.72">0.984</text>
<text class="n" x="87.5" y="82.72">0.949</text>
<text class="n" x="103.3" y="82.72">0.922</text>
<text class="n" x="119.1" y="82.72">0.920</text>
<text class="n" x="134.9" y="82.72">0.980</text>
<text class="n" x="150.7" y="82.72">0.979</text>
<text class="n" x="166.5" y="82.72">0.982</text>
<text class="n" x="182.3" y="82.72">0.972</text>
<text class="n" x="198.1" y="82.72">0.974</text>
<text class="n" x="213.9" y="82.72">0.984</text>
<text class="n" x="229.7" y="82.72">0.989</text>
<text class="n" x="245.5" y="82.72">0.959</text>
<text class="n" x="261.3" y="82.72">0.899</text>
<text class="n" x="277.1" y="82.72">0.915</text>
<text class="n" x="292.9" y="82.72">0.979</text>
<text class="n" x="308.7" y="82.72">0.958</text>
<text class="n" x="324.5" y="82.72">0.957</text>
<text class="n" x="340.3" y="82.72">0.936</text>
<text class="n" x="40.1" y="97.47">0.903</text>
<text class="n" x="55.9" y="97.47">0.984</text>
<text class="n" x="71.7" y="97.47">1.000</text>
<text class="n" x="87.5" y="97.47">0.986</text>
<text class="n" x="103.3" y="97.47">0.967</text>
<text class="n" x="119.1" y="97.47">0.844</text>
<text class="n" x="134.9" y="97.47">0.972</text>
<text class="n" x="150.7" y="97.47">0.984</text>
<text class="n" x="166.5" y="97.47">0.990</text>
<text class="n" x="182.3" y="97.47">0.982</text>
<text class="n" x="198.1" y="97.47">0.941</text>
<text class="n" x="213.9" y="97.47">0.971</text>
<text class="n" x="229.7" y="97.47">0.978</text>
<text class="n" x="245.5" y="97.47">0.982</text>
<text class="n" x="261.3" y="97.47">0.951</text>
<text class="n" x="277.1" y="97.47">0.847</text>
<text class="n" x="292.9" y="97.47">0.974</text>
<text class="n" x="308.7" y="97.47">0.984</text>
<text class="n" x="324.5" y="97.47">0.987</text>
<text class="n" x="340.3" y="97.47">0.974</text>
<text class="n" x="40.1" y="112.22">0.839</text>
<text class="n" x="55.9" y="112.22">0.949</text>
<text class="n" x="71.7" y="112.22">0.986</text>
<text class="n" x="87.5" y="112.22">1.000</text>
<text class="n" x="103.3" y="112.22">0.994</text>
<text class="n" x="119.1" y="112.22">0.766</text>
<text class="n" x="134.9" y="112.22">0.953</text>
<text class="n" x="150.7" y="112.22">0.968</text>
<text class="n" x="166.5" y="112.22">0.978</text>
<text class="n" x="182.3" y="112.22">0.975</text>
<text class="n" x="198.1" y="112.22">0.904</text>
<text class="n" x="213.9" y="112.22">0.951</text>
<text class="n" x="229.7" y="112.22">0.959</text>
<text class="n" x="245.5" y="112.22">0.991</text>
<text class="n" x="261.3" y="112.22">0.983</text>
<text class="n" x="277.1" y="112.22">0.781</text>
<text class="n" x="292.9" y="112.22">0.956</text>
<text class="n" x="308.7" y="112.22">0.985</text>
<text class="n" x="324.5" y="112.22">0.991</text>
<text class="n" x="340.3" y="112.22">0.992</text>
<text class="n" x="40.1" y="126.97">0.799</text>
<text class="n" x="55.9" y="126.97">0.922</text>
<text class="n" x="71.7" y="126.97">0.967</text>
<text class="n" x="87.5" y="126.97">0.994</text>
<text class="n" x="103.3" y="126.97">1.000</text>
<text class="n" x="119.1" y="126.97">0.729</text>
<text class="n" x="134.9" y="126.97">0.942</text>
<text class="n" x="150.7" y="126.97">0.957</text>
<text class="n" x="166.5" y="126.97">0.958</text>
<text class="n" x="182.3" y="126.97">0.970</text>
<text class="n" x="198.1" y="126.97">0.890</text>
<text class="n" x="213.9" y="126.97">0.939</text>
<text class="n" x="229.7" y="126.97">0.942</text>
<text class="n" x="245.5" y="126.97">0.989</text>
<text class="n" x="261.3" y="126.97">0.995</text>
<text class="n" x="277.1" y="126.97">0.752</text>
<text class="n" x="292.9" y="126.97">0.942</text>
<text class="n" x="308.7" y="126.97">0.977</text>
<text class="n" x="324.5" y="126.97">0.979</text>
<text class="n" x="340.3" y="126.97">0.995</text>
<text class="n" x="40.1" y="141.72">0.982</text>
<text class="n" x="55.9" y="141.72">0.920</text>
<text class="n" x="71.7" y="141.72">0.844</text>
<text class="n" x="87.5" y="141.72">0.766</text>
<text class="n" x="103.3" y="141.72">0.729</text>
<text class="n" x="119.1" y="141.72">1.000</text>
<text class="n" x="134.9" y="141.72">0.886</text>
<text class="n" x="150.7" y="141.72">0.864</text>
<text class="n" x="166.5" y="141.72">0.858</text>
<text class="n" x="182.3" y="141.72">0.847</text>
<text class="n" x="198.1" y="141.72">0.936</text>
<text class="n" x="213.9" y="141.72">0.898</text>
<text class="n" x="229.7" y="141.72">0.907</text>
<text class="n" x="245.5" y="141.72">0.808</text>
<text class="n" x="261.3" y="141.72">0.686</text>
<text class="n" x="277.1" y="141.72">0.973</text>
<text class="n" x="292.9" y="141.72">0.884</text>
<text class="n" x="308.7" y="141.72">0.804</text>
<text class="n" x="324.5" y="141.72">0.792</text>
<text class="n" x="340.3" y="141.72">0.755</text>
<text class="n" x="40.1" y="156.47">0.935</text>
<text class="n" x="55.9" y="156.47">0.980</text>
<text class="n" x="71.7" y="156.47">0.972</text>
<text class="n" x="87.5" y="156.47">0.953</text>
<text class="n" x="103.3" y="156.47">0.942</text>
<text class="n" x="119.1" y="156.47">0.886</text>
<text class="n" x="134.9" y="156.47">1.000</text>
<text class="n" x="150.7" y="156.47">0.993</text>
<text class="n" x="166.5" y="156.47">0.982</text>
<text class="n" x="182.3" y="156.47">0.989</text>
<text class="n" x="198.1" y="156.47">0.980</text>
<text class="n" x="213.9" y="156.47">0.989</text>
<text class="n" x="229.7" y="156.47">0.984</text>
<text class="n" x="245.5" y="156.47">0.969</text>
<text class="n" x="261.3" y="156.47">0.931</text>
<text class="n" x="277.1" y="156.47">0.916</text>
<text class="n" x="292.9" y="156.47">0.993</text>
<text class="n" x="308.7" y="156.47">0.974</text>
<text class="n" x="324.5" y="156.47">0.966</text>
<text class="n" x="340.3" y="156.47">0.960</text>
<text class="n" x="40.1" y="171.22">0.911</text>
<text class="n" x="55.9" y="171.22">0.979</text>
<text class="n" x="71.7" y="171.22">0.984</text>
<text class="n" x="87.5" y="171.22">0.968</text>
<text class="n" x="103.3" y="171.22">0.957</text>
<text class="n" x="119.1" y="171.22">0.864</text>
<text class="n" x="134.9" y="171.22">0.993</text>
<text class="n" x="150.7" y="171.22">1.000</text>
<text class="n" x="166.5" y="171.22">0.992</text>
<text class="n" x="182.3" y="171.22">0.996</text>
<text class="n" x="198.1" y="171.22">0.966</text>
<text class="n" x="213.9" y="171.22">0.987</text>
<text class="n" x="229.7" y="171.22">0.980</text>
<text class="n" x="245.5" y="171.22">0.976</text>
<text class="n" x="261.3" y="171.22">0.943</text>
<text class="n" x="277.1" y="171.22">0.897</text>
<text class="n" x="292.9" y="171.22">0.995</text>
<text class="n" x="308.7" y="171.22">0.991</text>
<text class="n" x="324.5" y="171.22">0.983</text>
<text class="n" x="340.3" y="171.22">0.975</text>
<text class="n" x="40.1" y="185.97">0.911</text>
<text class="n" x="55.9" y="185.97">0.982</text>
<text class="n" x="71.7" y="185.97">0.990</text>
<text class="n" x="87.5" y="185.97">0.978</text>
<text class="n" x="103.3" y="185.97">0.958</text>
<text class="n" x="119.1" y="185.97">0.858</text>
<text class="n" x="134.9" y="185.97">0.982</text>
<text class="n" x="150.7" y="185.97">0.992</text>
<text class="n" x="166.5" y="185.97">1.000</text>
<text class="n" x="182.3" y="185.97">0.989</text>
<text class="n" x="198.1" y="185.97">0.947</text>
<text class="n" x="213.9" y="185.97">0.978</text>
<text class="n" x="229.7" y="185.97">0.980</text>
<text class="n" x="245.5" y="185.97">0.977</text>
<text class="n" x="261.3" y="185.97">0.941</text>
<text class="n" x="277.1" y="185.97">0.871</text>
<text class="n" x="292.9" y="185.97">0.987</text>
<text class="n" x="308.7" y="185.97">0.988</text>
<text class="n" x="324.5" y="185.97">0.989</text>
<text class="n" x="340.3" y="185.97">0.972</text>
<text class="n" x="40.1" y="200.72">0.899</text>
<text class="n" x="55.9" y="200.72">0.972</text>
<text class="n" x="71.7" y="200.72">0.982</text>
<text class="n" x="87.5" y="200.72">0.975</text>
<text class="n" x="103.3" y="200.72">0.970</text>
<text class="n" x="119.1" y="200.72">0.847</text>
<text class="n" x="134.9" y="200.72">0.989</text>
<text class="n" x="150.7" y="200.72">0.996</text>
<text class="n" x="166.5" y="200.72">0.989</text>
<text class="n" x="182.3" y="200.72">1.000</text>
<text class="n" x="198.1" y="200.72">0.961</text>
<text class="n" x="213.9" y="200.72">0.984</text>
<text class="n" x="229.7" y="200.72">0.980</text>
<text class="n" x="245.5" y="200.72">0.984</text>
<text class="n" x="261.3" y="200.72">0.956</text>
<text class="n" x="277.1" y="200.72">0.879</text>
<text class="n" x="292.9" y="200.72">0.989</text>
<text class="n" x="308.7" y="200.72">0.988</text>
<text class="n" x="324.5" y="200.72">0.983</text>
<text class="n" x="340.3" y="200.72">0.983</text>
<text class="n" x="40.1" y="215.47">0.966</text>
<text class="n" x="55.9" y="215.47">0.974</text>
<text class="n" x="71.7" y="215.47">0.941</text>
<text class="n" x="87.5" y="215.47">0.904</text>
<text class="n" x="103.3" y="215.47">0.890</text>
<text class="n" x="119.1" y="215.47">0.936</text>
<text class="n" x="134.9" y="215.47">0.980</text>
<text class="n" x="150.7" y="215.47">0.966</text>
<text class="n" x="166.5" y="215.47">0.947</text>
<text class="n" x="182.3" y="215.47">0.961</text>
<text class="n" x="198.1" y="215.47">1.000</text>
<text class="n" x="213.9" y="215.47">0.987</text>
<text class="n" x="229.7" y="215.47">0.981</text>
<text class="n" x="245.5" y="215.47">0.938</text>
<text class="n" x="261.3" y="215.47">0.866</text>
<text class="n" x="277.1" y="215.47">0.961</text>
<text class="n" x="292.9" y="215.47">0.975</text>
<text class="n" x="308.7" y="215.47">0.929</text>
<text class="n" x="324.5" y="215.47">0.914</text>
<text class="n" x="340.3" y="215.47">0.912</text>
<text class="n" x="40.1" y="230.22">0.940</text>
<text class="n" x="55.9" y="230.22">0.984</text>
<text class="n" x="71.7" y="230.22">0.971</text>
<text class="n" x="87.5" y="230.22">0.951</text>
<text class="n" x="103.3" y="230.22">0.939</text>
<text class="n" x="119.1" y="230.22">0.898</text>
<text class="n" x="134.9" y="230.22">0.989</text>
<text class="n" x="150.7" y="230.22">0.987</text>
<text class="n" x="166.5" y="230.22">0.978</text>
<text class="n" x="182.3" y="230.22">0.984</text>
<text class="n" x="198.1" y="230.22">0.987</text>
<text class="n" x="213.9" y="230.22">1.000</text>
<text class="n" x="229.7" y="230.22">0.993</text>
<text class="n" x="245.5" y="230.22">0.973</text>
<text class="n" x="261.3" y="230.22">0.924</text>
<text class="n" x="277.1" y="230.22">0.925</text>
<text class="n" x="292.9" y="230.22">0.992</text>
<text class="n" x="308.7" y="230.22">0.966</text>
<text class="n" x="324.5" y="230.22">0.956</text>
<text class="n" x="340.3" y="230.22">0.954</text>
<text class="n" x="40.1" y="244.97">0.948</text>
<text class="n" x="55.9" y="244.97">0.989</text>
<text class="n" x="71.7" y="244.97">0.978</text>
<text class="n" x="87.5" y="244.97">0.959</text>
<text class="n" x="103.3" y="244.97">0.942</text>
<text class="n" x="119.1" y="244.97">0.907</text>
<text class="n" x="134.9" y="244.97">0.984</text>
<text class="n" x="150.7" y="244.97">0.980</text>
<text class="n" x="166.5" y="244.97">0.980</text>
<text class="n" x="182.3" y="244.97">0.980</text>
<text class="n" x="198.1" y="244.97">0.981</text>
<text class="n" x="213.9" y="244.97">0.993</text>
<text class="n" x="229.7" y="244.97">1.000</text>
<text class="n" x="245.5" y="244.97">0.980</text>
<text class="n" x="261.3" y="244.97">0.922</text>
<text class="n" x="277.1" y="244.97">0.932</text>
<text class="n" x="292.9" y="244.97">0.984</text>
<text class="n" x="308.7" y="244.97">0.964</text>
<text class="n" x="324.5" y="244.97">0.960</text>
<text class="n" x="340.3" y="244.97">0.954</text>
<text class="n" x="40.1" y="259.73">0.868</text>
<text class="n" x="55.9" y="259.73">0.959</text>
<text class="n" x="71.7" y="259.73">0.982</text>
<text class="n" x="87.5" y="259.73">0.991</text>
<text class="n" x="103.3" y="259.73">0.989</text>
<text class="n" x="119.1" y="259.73">0.808</text>
<text class="n" x="134.9" y="259.73">0.969</text>
<text class="n" x="150.7" y="259.73">0.976</text>
<text class="n" x="166.5" y="259.73">0.977</text>
<text class="n" x="182.3" y="259.73">0.984</text>
<text class="n" x="198.1" y="259.73">0.938</text>
<text class="n" x="213.9" y="259.73">0.973</text>
<text class="n" x="229.7" y="259.73">0.980</text>
<text class="n" x="245.5" y="259.73">1.000</text>
<text class="n" x="261.3" y="259.73">0.979</text>
<text class="n" x="277.1" y="259.73">0.826</text>
<text class="n" x="292.9" y="259.73">0.970</text>
<text class="n" x="308.7" y="259.73">0.982</text>
<text class="n" x="324.5" y="259.73">0.983</text>
<text class="n" x="340.3" y="259.73">0.990</text>
<text class="n" x="40.1" y="274.48">0.760</text>
<text class="n" x="55.9" y="274.48">0.899</text>
<text class="n" x="71.7" y="274.48">0.951</text>
<text class="n" x="87.5" y="274.48">0.983</text>
<text class="n" x="103.3" y="274.48">0.995</text>
<text class="n" x="119.1" y="274.48">0.686</text>
<text class="n" x="134.9" y="274.48">0.931</text>
<text class="n" x="150.7" y="274.48">0.943</text>
<text class="n" x="166.5" y="274.48">0.941</text>
<text class="n" x="182.3" y="274.48">0.956</text>
<text class="n" x="198.1" y="274.48">0.866</text>
<text class="n" x="213.9" y="274.48">0.924</text>
<text class="n" x="229.7" y="274.48">0.922</text>
<text class="n" x="245.5" y="274.48">0.979</text>
<text class="n" x="261.3" y="274.48">1.000</text>
<text class="n" x="277.1" y="274.48">0.723</text>
<text class="n" x="292.9" y="274.48">0.926</text>
<text class="n" x="308.7" y="274.48">0.967</text>
<text class="n" x="324.5" y="274.48">0.967</text>
<text class="n" x="340.3" y="274.48">0.989</text>
<text class="n" x="40.1" y="289.23">0.964</text>
<text class="n" x="55.9" y="289.23">0.915</text>
<text class="n" x="71.7" y="289.23">0.847</text>
<text class="n" x="87.5" y="289.23">0.781</text>
<text class="n" x="103.3" y="289.23">0.752</text>
<text class="n" x="119.1" y="289.23">0.973</text>
<text class="n" x="134.9" y="289.23">0.916</text>
<text class="n" x="150.7" y="289.23">0.897</text>
<text class="n" x="166.5" y="289.23">0.871</text>
<text class="n" x="182.3" y="289.23">0.879</text>
<text class="n" x="198.1" y="289.23">0.961</text>
<text class="n" x="213.9" y="289.23">0.925</text>
<text class="n" x="229.7" y="289.23">0.932</text>
<text class="n" x="245.5" y="289.23">0.826</text>
<text class="n" x="261.3" y="289.23">0.723</text>
<text class="n" x="277.1" y="289.23">1.000</text>
<text class="n" x="292.9" y="289.23">0.920</text>
<text class="n" x="308.7" y="289.23">0.840</text>
<text class="n" x="324.5" y="289.23">0.815</text>
<text class="n" x="340.3" y="289.23">0.794</text>
<text class="n" x="40.1" y="303.98">0.926</text>
<text class="n" x="55.9" y="303.98">0.979</text>
<text class="n" x="71.7" y="303.98">0.974</text>
<text class="n" x="87.5" y="303.98">0.956</text>
<text class="n" x="103.3" y="303.98">0.942</text>
<text class="n" x="119.1" y="303.98">0.884</text>
<text class="n" x="134.9" y="303.98">0.993</text>
<text class="n" x="150.7" y="303.98">0.995</text>
<text class="n" x="166.5" y="303.98">0.987</text>
<text class="n" x="182.3" y="303.98">0.989</text>
<text class="n" x="198.1" y="303.98">0.975</text>
<text class="n" x="213.9" y="303.98">0.992</text>
<text class="n" x="229.7" y="303.98">0.984</text>
<text class="n" x="245.5" y="303.98">0.970</text>
<text class="n" x="261.3" y="303.98">0.926</text>
<text class="n" x="277.1" y="303.98">0.920</text>
<text class="n" x="292.9" y="303.98">1.000</text>
<text class="n" x="308.7" y="303.98">0.984</text>
<text class="n" x="324.5" y="303.98">0.974</text>
<text class="n" x="340.3" y="303.98">0.965</text>
<text class="n" x="40.1" y="318.73">0.861</text>
<text class="n" x="55.9" y="318.73">0.958</text>
<text class="n" x="71.7" y="318.73">0.984</text>
<text class="n" x="87.5" y="318.73">0.985</text>
<text class="n" x="103.3" y="318.73">0.977</text>
<text class="n" x="119.1" y="318.73">0.804</text>
<text class="n" x="134.9" y="318.73">0.974</text>
<text class="n" x="150.7" y="318.73">0.991</text>
<text class="n" x="166.5" y="318.73">0.988</text>
<text class="n" x="182.3" y="318.73">0.988</text>
<text class="n" x="198.1" y="318.73">0.929</text>
<text class="n" x="213.9" y="318.73">0.966</text>
<text class="n" x="229.7" y="318.73">0.964</text>
<text class="n" x="245.5" y="318.73">0.982</text>
<text class="n" x="261.3" y="318.73">0.967</text>
<text class="n" x="277.1" y="318.73">0.840</text>
<text class="n" x="292.9" y="318.73">0.984</text>
<text class="n" x="308.7" y="318.73">1.000</text>
<text class="n" x="324.5" y="318.73">0.997</text>
<text class="n" x="340.3" y="318.73">0.991</text>
<text class="n" x="40.1" y="333.48">0.855</text>
<text class="n" x="55.9" y="333.48">0.957</text>
<text class="n" x="71.7" y="333.48">0.987</text>
<text class="n" x="87.5" y="333.48">0.991</text>
<text class="n" x="103.3" y="333.48">0.979</text>
<text class="n" x="119.1" y="333.48">0.792</text>
<text class="n" x="134.9" y="333.48">0.966</text>
<text class="n" x="150.7" y="333.48">0.983</text>
<text class="n" x="166.5" y="333.48">0.989</text>
<text class="n" x="182.3" y="333.48">0.983</text>
<text class="n" x="198.1" y="333.48">0.914</text>
<text class="n" x="213.9" y="333.48">0.956</text>
<text class="n" x="229.7" y="333.48">0.960</text>
<text class="n" x="245.5" y="333.48">0.983</text>
<text class="n" x="261.3" y="333.48">0.967</text>
<text class="n" x="277.1" y="333.48">0.815</text>
<text class="n" x="292.9" y="333.48">0.974</text>
<text class="n" x="308.7" y="333.48">0.997</text>
<text class="n" x="324.5" y="333.48">1.000</text>
<text class="n" x="340.3" y="333.48">0.989</text>
<text class="n" x="40.1" y="348.23">0.834</text>
<text class="n" x="55.9" y="348.23">0.936</text>
<text class="n" x="71.7" y="348.23">0.974</text>
<text class="n" x="87.5" y="348.23">0.992</text>
<text class="n" x="103.3" y="348.23">0.995</text>
<text class="n" x="119.1" y="348.23">0.755</text>
<text class="n" x="134.9" y="348.23">0.960</text>
<text class="n" x="150.7" y="348.23">0.975</text>
<text class="n" x="166.5" y="348.23">0.972</text>
<text class="n" x="182.3" y="348.23">0.983</text>
<text class="n" x="198.1" y="348.23">0.912</text>
<text class="n" x="213.9" y="348.23">0.954</text>
<text class="n" x="229.7" y="348.23">0.954</text>
<text class="n" x="245.5" y="348.23">0.990</text>
<text class="n" x="261.3" y="348.23">0.989</text>
<text class="n" x="277.1" y="348.23">0.794</text>
<text class="n" x="292.9" y="348.23">0.965</text>
<text class="n" x="308.7" y="348.23">0.991</text>
<text class="n" x="324.5" y="348.23">0.989</text>
<text class="n" x="340.3" y="348.23">1.000</text>
<line class="l o" x1="32.5" y1="58" x2="32.5" y2="354"/>
<line class="l o" x1="32" y1="58.5" x2="349" y2="58.5"/>
<line class="l" x1="111.5" y1="58" x2="111.5" y2="354"/>
<line class="l" x1="32" y1="132.25" x2="349" y2="132.25"/>
<line class="l" x1="190.5" y1="58" x2="190.5" y2="354"/>
<line class="l" x1="32" y1="206" x2="349" y2="206"/>
<line class="l" x1="269.5" y1="58" x2="269.5" y2="354"/>
<line class="l" x1="32" y1="279.75" x2="349" y2="279.75"/>
<line class="l o" x1="348.5" y1="58" x2="348.5" y2="354"/>
<line class="l o" x1="32" y1="353.5" x2="349" y2="353.5"/>
<text class="t" x="32.4" y="11.4" xml:space="preserve"><tspan>(A)</tspan> Correlation – Freely-moving Raw</text>
</g>
<g id="panelB">
<text class="c" transform="translate(377.28,58.6) rotate(-90)" textLength="23.08" lengthAdjust="spacingAndGlyphs">ACC-Delta</text>
<text class="c" transform="translate(393.15,58.6) rotate(-90)" textLength="24.58" lengthAdjust="spacingAndGlyphs">ACC-Theta</text>
<text class="c" transform="translate(409.01,58.6) rotate(-90)" textLength="24.98" lengthAdjust="spacingAndGlyphs">ACC-Alpha</text>
<text class="c" transform="translate(424.88,58.6) rotate(-90)" textLength="21.82" lengthAdjust="spacingAndGlyphs">ACC-Beta</text>
<text class="c" transform="translate(440.74,58.6) rotate(-90)" textLength="29.79" lengthAdjust="spacingAndGlyphs">ACC-Gamma</text>
<text class="c" transform="translate(456.61,58.6) rotate(-90)" textLength="21.31" lengthAdjust="spacingAndGlyphs">PO-Delta</text>
<text class="c" transform="translate(472.47,58.6) rotate(-90)" textLength="22.8" lengthAdjust="spacingAndGlyphs">PO-Theta</text>
<text class="c" transform="translate(488.34,58.6) rotate(-90)" textLength="23.2" lengthAdjust="spacingAndGlyphs">PO-Alpha</text>
<text class="c" transform="translate(504.2,58.6) rotate(-90)" textLength="20.05" lengthAdjust="spacingAndGlyphs">PO-Beta</text>
<text class="c" transform="translate(520.07,58.6) rotate(-90)" textLength="28.01" lengthAdjust="spacingAndGlyphs">PO-Gamma</text>
<text class="c" transform="translate(535.93,58.6) rotate(-90)" textLength="20.73" lengthAdjust="spacingAndGlyphs">TG-Delta</text>
<text class="c" transform="translate(551.8,58.6) rotate(-90)" textLength="22.23" lengthAdjust="spacingAndGlyphs">TG-Theta</text>
<text class="c" transform="translate(567.66,58.6) rotate(-90)" textLength="22.63" lengthAdjust="spacingAndGlyphs">TG-Alpha</text>
<text class="c" transform="translate(583.53,58.6) rotate(-90)" textLength="19.47" lengthAdjust="spacingAndGlyphs">TG-Beta</text>
<text class="c" transform="translate(599.39,58.6) rotate(-90)" textLength="27.44" lengthAdjust="spacingAndGlyphs">TG-Gamma</text>
<text class="c" transform="translate(615.26,58.6) rotate(-90)" textLength="24.71" lengthAdjust="spacingAndGlyphs">V1M-Delta</text>
<text class="c" transform="translate(631.12,58.6) rotate(-90)" textLength="26.21" lengthAdjust="spacingAndGlyphs">V1M-Theta</text>
<text class="c" transform="translate(646.99,58.6) rotate(-90)" textLength="26.61" lengthAdjust="spacingAndGlyphs">V1M-Alpha</text>
<text class="c" transform="translate(662.85,58.6) rotate(-90)" textLength="23.45" lengthAdjust="spacingAndGlyphs">V1M-Beta</text>
<text class="c" transform="translate(678.72,58.6) rotate(-90)" textLength="31.42" lengthAdjust="spacingAndGlyphs">V1M-Gamma</text>
<rect x="367" y="58.3" width="16.46" height="15.36" fill="#ff0000"/>
<rect x="382.87" y="58.3" width="16.46" height="15.36" fill="#ece29c"/>
<rect x="398.73" y="58.3" width="16.46" height="15.36" fill="#dfdbaf"/>
<rect x="414.6" y="58.3" width="16.46" height="15.36" fill="#d0d4c2"/>
<rect x="430.46" y="58.3" width="16.46" height="15.36" fill="#c5ced1"/>
<rect x="446.32" y="58.3" width="16.46" height="15.36" fill="#ff4d2b"/>
<rect x="462.19" y="58.3" width="16.46" height="15.36" fill="#f6e690"/>
<rect x="478.06" y="58.3" width="16.46" height="15.36" fill="#e6dfa5"/>
<rect x="493.92" y="58.3" width="16.46" height="15.36" fill="#e1dcac"/>
<rect x="509.78" y="58.3" width="16.46" height="15.36" fill="#dddab1"/>
<rect x="525.65" y="58.3" width="16.46" height="15.36" fill="#fae98b"/>
<rect x="541.51" y="58.3" width="16.46" height="15.36" fill="#f4e692"/>
<rect x="557.38" y="58.3" width="16.46" height="15.36" fill="#ffa15b"/>
<rect x="573.25" y="58.3" width="16.46" height="15.36" fill="#ffe07e"/>
<rect x="589.11" y="58.3" width="16.46" height="15.36" fill="#cdd3c5"/>
<rect x="604.97" y="58.3" width="16.46" height="15.36" fill="#fdea86"/>
<rect x="620.84" y="58.3" width="16.46" height="15.36" fill="#e8e0a2"/>
<rect x="636.7" y="58.3" width="16.46" height="15.36" fill="#d1d5c0"/>
<rect x="652.57" y="58.3" width="16.46" height="15.36" fill="#d4d6bd"/>
<rect x="668.43" y="58.3" width="16.46" height="15.36" fill="#ced3c4"/>
<rect x="367" y="73.06" width="16.46" height="15.36" fill="#ece29c"/>
<rect x="382.87" y="73.06" width="16.46" height="15.36" fill="#ff0000"/>
<rect x="398.73" y="73.06" width="16.46" height="15.36" fill="#ff3820"/>
<rect x="414.6" y="73.06" width="16.46" height="15.36" fill="#ff8c4f"/>
<rect x="430.46" y="73.06" width="16.46" height="15.36" fill="#fae98a"/>
<rect x="446.32" y="73.06" width="16.46" height="15.36" fill="#e1dcac"/>
<rect x="462.19" y="73.06" width="16.46" height="15.36" fill="#ff6237"/>
<rect x="478.06" y="73.06" width="16.46" height="15.36" fill="#ff7e47"/>
<rect x="493.92" y="73.06" width="16.46" height="15.36" fill="#ff5b33"/>
<rect x="509.78" y="73.06" width="16.46" height="15.36" fill="#ffcb72"/>
<rect x="525.65" y="73.06" width="16.46" height="15.36" fill="#fdea87"/>
<rect x="541.51" y="73.06" width="16.46" height="15.36" fill="#ffeb84"/>
<rect x="557.38" y="73.06" width="16.46" height="15.36" fill="#ffe782"/>
<rect x="573.25" y="73.06" width="16.46" height="15.36" fill="#ffcb72"/>
<rect x="589.11" y="73.06" width="16.46" height="15.36" fill="#fdea86"/>
<rect x="604.97" y="73.06" width="16.46" height="15.36" fill="#e8e0a2"/>
<rect x="620.84" y="73.06" width="16.46" height="15.36" fill="#ff854b"/>
<rect x="636.7" y="73.06" width="16.46" height="15.36" fill="#feeb85"/>
<rect x="652.57" y="73.06" width="16.46" height="15.36" fill="#ffd97a"/>
<rect x="668.43" y="73.06" width="16.46" height="15.36" fill="#feea86"/>
<rect x="367" y="87.82" width="16.46" height="15.36" fill="#dfdbaf"/>
<rect x="382.87" y="87.82" width="16.46" height="15.36" fill="#ff3820"/>
<rect x="398.73" y="87.82" width="16.46" height="15.36" fill="#ff0000"/>
<rect x="414.6" y="87.82" width="16.46" height="15.36" fill="#ff2a18"/>
<rect x="430.46" y="87.82" width="16.46" height="15.36" fill="#ffa85f"/>
<rect x="446.32" y="87.82" width="16.46" height="15.36" fill="#d1d5c0"/>
<rect x="462.19" y="87.82" width="16.46" height="15.36" fill="#ffa85f"/>
<rect x="478.06" y="87.82" width="16.46" height="15.36" fill="#ff693b"/>
<rect x="493.92" y="87.82" width="16.46" height="15.36" fill="#ff3820"/>
<rect x="509.78" y="87.82" width="16.46" height="15.36" fill="#ff9a57"/>
<rect x="525.65" y="87.82" width="16.46" height="15.36" fill="#f6e78f"/>
<rect x="541.51" y="87.82" width="16.46" height="15.36" fill="#f7e78f"/>
<rect x="557.38" y="87.82" width="16.46" height="15.36" fill="#f8e88d"/>
<rect x="573.25" y="87.82" width="16.46" height="15.36" fill="#fbe989"/>
<rect x="589.11" y="87.82" width="16.46" height="15.36" fill="#ff9a57"/>
<rect x="604.97" y="87.82" width="16.46" height="15.36" fill="#dbd9b4"/>
<rect x="620.84" y="87.82" width="16.46" height="15.36" fill="#ff854b"/>
<rect x="636.7" y="87.82" width="16.46" height="15.36" fill="#ff854b"/>
<rect x="652.57" y="87.82" width="16.46" height="15.36" fill="#ff6237"/>
<rect x="668.43" y="87.82" width="16.46" height="15.36" fill="#ff7e47"/>
<rect x="367" y="102.58" width="16.46" height="15.36" fill="#d0d4c2"/>
<rect x="382.87" y="102.58" width="16.46" height="15.36" fill="#ff8c4f"/>
<rect x="398.73" y="102.58" width="16.46" height="15.36" fill="#ff2a18"/>
<rect x="414.6" y="102.58" width="16.46" height="15.36" fill="#ff0000"/>
<rect x="430.46" y="102.58" width="16.46" height="15.36" fill="#ff542f"/>
<rect x="446.32" y="102.58" width="16.46" height="15.36" fill="#c1ccd6"/>
<rect x="462.19" y="102.58" width="16.46" height="15.36" fill="#feeb85"/>
<rect x="478.06" y="102.58" width="16.46" height="15.36" fill="#ff9a57"/>
<rect x="493.92" y="102.58" width="16.46" height="15.36" fill="#ff4d2b"/>
<rect x="509.78" y="102.58" width="16.46" height="15.36" fill="#ff9a57"/>
<rect x="525.65" y="102.58" width="16.46" height="15.36" fill="#f0e498"/>
<rect x="541.51" y="102.58" width="16.46" height="15.36" fill="#f0e497"/>
<rect x="557.38" y="102.58" width="16.46" height="15.36" fill="#f0e497"/>
<rect x="573.25" y="102.58" width="16.46" height="15.36" fill="#f5e691"/>
<rect x="589.11" y="102.58" width="16.46" height="15.36" fill="#ff542f"/>
<rect x="604.97" y="102.58" width="16.46" height="15.36" fill="#ced3c5"/>
<rect x="620.84" y="102.58" width="16.46" height="15.36" fill="#ffc46e"/>
<rect x="636.7" y="102.58" width="16.46" height="15.36" fill="#ffa85f"/>
<rect x="652.57" y="102.58" width="16.46" height="15.36" fill="#ff7e47"/>
<rect x="668.43" y="102.58" width="16.46" height="15.36" fill="#ff5b33"/>
<rect x="367" y="117.34" width="16.46" height="15.36" fill="#c5ced1"/>
<rect x="382.87" y="117.34" width="16.46" height="15.36" fill="#fae98a"/>
<rect x="398.73" y="117.34" width="16.46" height="15.36" fill="#ffa85f"/>
<rect x="414.6" y="117.34" width="16.46" height="15.36" fill="#ff542f"/>
<rect x="430.46" y="117.34" width="16.46" height="15.36" fill="#ff0000"/>
<rect x="446.32" y="117.34" width="16.46" height="15.36" fill="#b4c6e7"/>
<rect x="462.19" y="117.34" width="16.46" height="15.36" fill="#f9e88c"/>
<rect x="478.06" y="117.34" width="16.46" height="15.36" fill="#ffc46e"/>
<rect x="493.92" y="117.34" width="16.46" height="15.36" fill="#ffa15b"/>
<rect x="509.78" y="117.34" width="16.46" height="15.36" fill="#ff703f"/>
<rect x="525.65" y="117.34" width="16.46" height="15.36" fill="#efe399"/>
<rect x="541.51" y="117.34" width="16.46" height="15.36" fill="#eee39a"/>
<rect x="557.38" y="117.34" width="16.46" height="15.36" fill="#e9e0a1"/>
<rect x="573.25" y="117.34" width="16.46" height="15.36" fill="#eee39a"/>
<rect x="589.11" y="117.34" width="16.46" height="15.36" fill="#ff0e08"/>
<rect x="604.97" y="117.34" width="16.46" height="15.36" fill="#c4ced2"/>
<rect x="620.84" y="117.34" width="16.46" height="15.36" fill="#feea86"/>
<rect x="636.7" y="117.34" width="16.46" height="15.36" fill="#ffb666"/>
<rect x="652.57" y="117.34" width="16.46" height="15.36" fill="#ffeb84"/>
<rect x="668.43" y="117.34" width="16.46" height="15.36" fill="#ff4d2b"/>
<rect x="367" y="132.1" width="16.46" height="15.36" fill="#ff4d2b"/>
<rect x="382.87" y="132.1" width="16.46" height="15.36" fill="#e1dcac"/>
<rect x="398.73" y="132.1" width="16.46" height="15.36" fill="#d1d5c0"/>
<rect x="414.6" y="132.1" width="16.46" height="15.36" fill="#c1ccd6"/>
<rect x="430.46" y="132.1" width="16.46" height="15.36" fill="#b4c6e7"/>
<rect x="446.32" y="132.1" width="16.46" height="15.36" fill="#ff0000"/>
<rect x="462.19" y="132.1" width="16.46" height="15.36" fill="#ebe19f"/>
<rect x="478.06" y="132.1" width="16.46" height="15.36" fill="#d9d8b6"/>
<rect x="493.92" y="132.1" width="16.46" height="15.36" fill="#d2d5bf"/>
<rect x="509.78" y="132.1" width="16.46" height="15.36" fill="#cfd4c3"/>
<rect x="525.65" y="132.1" width="16.46" height="15.36" fill="#f4e593"/>
<rect x="541.51" y="132.1" width="16.46" height="15.36" fill="#ede29b"/>
<rect x="557.38" y="132.1" width="16.46" height="15.36" fill="#feeb85"/>
<rect x="573.25" y="132.1" width="16.46" height="15.36" fill="#f9e88c"/>
<rect x="589.11" y="132.1" width="16.46" height="15.36" fill="#c0ccd8"/>
<rect x="604.97" y="132.1" width="16.46" height="15.36" fill="#fae88b"/>
<rect x="620.84" y="132.1" width="16.46" height="15.36" fill="#dddab1"/>
<rect x="636.7" y="132.1" width="16.46" height="15.36" fill="#c7cfce"/>
<rect x="652.57" y="132.1" width="16.46" height="15.36" fill="#c8d0cc"/>
<rect x="668.43" y="132.1" width="16.46" height="15.36" fill="#becbd9"/>
<rect x="367" y="146.86" width="16.46" height="15.36" fill="#f6e690"/>
<rect x="382.87" y="146.86" width="16.46" height="15.36" fill="#ff6237"/>
<rect x="398.73" y="146.86" width="16.46" height="15.36" fill="#ffa85f"/>
<rect x="414.6" y="146.86" width="16.46" height="15.36" fill="#feeb85"/>
<rect x="430.46" y="146.86" width="16.46" height="15.36" fill="#f9e88c"/>
<rect x="446.32" y="146.86" width="16.46" height="15.36" fill="#ebe19f"/>
<rect x="462.19" y="146.86" width="16.46" height="15.36" fill="#ff0000"/>
<rect x="478.06" y="146.86" width="16.46" height="15.36" fill="#ff4627"/>
<rect x="493.92" y="146.86" width="16.46" height="15.36" fill="#ff693b"/>
<rect x="509.78" y="146.86" width="16.46" height="15.36" fill="#ff7e47"/>
<rect x="525.65" y="146.86" width="16.46" height="15.36" fill="#ff703f"/>
<rect x="541.51" y="146.86" width="16.46" height="15.36" fill="#ff542f"/>
<rect x="557.38" y="146.86" width="16.46" height="15.36" fill="#ff703f"/>
<rect x="573.25" y="146.86" width="16.46" height="15.36" fill="#ff703f"/>
<rect x="589.11" y="146.86" width="16.46" height="15.36" fill="#fdea86"/>
<rect x="604.97" y="146.86" width="16.46" height="15.36" fill="#f2e496"/>
<rect x="620.84" y="146.86" width="16.46" height="15.36" fill="#ff3820"/>
<rect x="636.7" y="146.86" width="16.46" height="15.36" fill="#ffe07e"/>
<rect x="652.57" y="146.86" width="16.46" height="15.36" fill="#feeb85"/>
<rect x="668.43" y="146.86" width="16.46" height="15.36" fill="#ffe782"/>
<rect x="367" y="161.62" width="16.46" height="15.36" fill="#e6dfa5"/>
<rect x="382.87" y="161.62" width="16.46" height="15.36" fill="#ff7e47"/>
<rect x="398.73" y="161.62" width="16.46" height="15.36" fill="#ff693b"/>
<rect x="414.6" y="161.62" width="16.46" height="15.36" fill="#ff9a57"/>
<rect x="430.46" y="161.62" width="16.46" height="15.36" fill="#ffc46e"/>
<rect x="446.32" y="161.62" width="16.46" height="15.36" fill="#d9d8b6"/>
<rect x="462.19" y="161.62" width="16.46" height="15.36" fill="#ff4627"/>
<rect x="478.06" y="161.62" width="16.46" height="15.36" fill="#ff0000"/>
<rect x="493.92" y="161.62" width="16.46" height="15.36" fill="#ff1c10"/>
<rect x="509.78" y="161.62" width="16.46" height="15.36" fill="#ff2a18"/>
<rect x="525.65" y="161.62" width="16.46" height="15.36" fill="#ffb666"/>
<rect x="541.51" y="161.62" width="16.46" height="15.36" fill="#ffaf63"/>
<rect x="557.38" y="161.62" width="16.46" height="15.36" fill="#feea86"/>
<rect x="573.25" y="161.62" width="16.46" height="15.36" fill="#fdea86"/>
<rect x="589.11" y="161.62" width="16.46" height="15.36" fill="#ffa15b"/>
<rect x="604.97" y="161.62" width="16.46" height="15.36" fill="#ece29d"/>
<rect x="620.84" y="161.62" width="16.46" height="15.36" fill="#ff2314"/>
<rect x="636.7" y="161.62" width="16.46" height="15.36" fill="#ff542f"/>
<rect x="652.57" y="161.62" width="16.46" height="15.36" fill="#ff7e47"/>
<rect x="668.43" y="161.62" width="16.46" height="15.36" fill="#ff5b33"/>
<rect x="367" y="176.38" width="16.46" height="15.36" fill="#e1dcac"/>
<rect x="382.87" y="176.38" width="16.46" height="15.36" fill="#ff5b33"/>
<rect x="398.73" y="176.38" width="16.46" height="15.36" fill="#ff3820"/>
<rect x="414.6" y="176.38" width="16.46" height="15.36" fill="#ff4d2b"/>
<rect x="430.46" y="176.38" width="16.46" height="15.36" fill="#ffa15b"/>
<rect x="446.32" y="176.38" width="16.46" height="15.36" fill="#d2d5bf"/>
<rect x="462.19" y="176.38" width="16.46" height="15.36" fill="#ff693b"/>
<rect x="478.06" y="176.38" width="16.46" height="15.36" fill="#ff1c10"/>
<rect x="493.92" y="176.38" width="16.46" height="15.36" fill="#ff0000"/>
<rect x="509.78" y="176.38" width="16.46" height="15.36" fill="#ff2314"/>
<rect x="525.65" y="176.38" width="16.46" height="15.36" fill="#fce988"/>
<rect x="541.51" y="176.38" width="16.46" height="15.36" fill="#fdea87"/>
<rect x="557.38" y="176.38" width="16.46" height="15.36" fill="#fbe989"/>
<rect x="573.25" y="176.38" width="16.46" height="15.36" fill="#fce988"/>
<rect x="589.11" y="176.38" width="16.46" height="15.36" fill="#ff9353"/>
<rect x="604.97" y="176.38" width="16.46" height="15.36" fill="#e5dea7"/>
<rect x="620.84" y="176.38" width="16.46" height="15.36" fill="#ff3f23"/>
<rect x="636.7" y="176.38" width="16.46" height="15.36" fill="#ff4627"/>
<rect x="652.57" y="176.38" width="16.46" height="15.36" fill="#ff542f"/>
<rect x="668.43" y="176.38" width="16.46" height="15.36" fill="#ff4d2b"/>
<rect x="367" y="191.14" width="16.46" height="15.36" fill="#dddab1"/>
<rect x="382.87" y="191.14" width="16.46" height="15.36" fill="#ffcb72"/>
<rect x="398.73" y="191.14" width="16.46" height="15.36" fill="#ff9a57"/>
<rect x="414.6" y="191.14" width="16.46" height="15.36" fill="#ff9a57"/>
<rect x="430.46" y="191.14" width="16.46" height="15.36" fill="#ff703f"/>
<rect x="446.32" y="191.14" width="16.46" height="15.36" fill="#cfd4c3"/>
<rect x="462.19" y="191.14" width="16.46" height="15.36" fill="#ff7e47"/>
<rect x="478.06" y="191.14" width="16.46" height="15.36" fill="#ff2a18"/>
<rect x="493.92" y="191.14" width="16.46" height="15.36" fill="#ff2314"/>
<rect x="509.78" y="191.14" width="16.46" height="15.36" fill="#ff0000"/>
<rect x="525.65" y="191.14" width="16.46" height="15.36" fill="#ffd97a"/>
<rect x="541.51" y="191.14" width="16.46" height="15.36" fill="#ffe07e"/>
<rect x="557.38" y="191.14" width="16.46" height="15.36" fill="#f8e78e"/>
<rect x="573.25" y="191.14" width="16.46" height="15.36" fill="#f9e88c"/>
<rect x="589.11" y="191.14" width="16.46" height="15.36" fill="#ff5b33"/>
<rect x="604.97" y="191.14" width="16.46" height="15.36" fill="#e7dfa4"/>
<rect x="620.84" y="191.14" width="16.46" height="15.36" fill="#ff5b33"/>
<rect x="636.7" y="191.14" width="16.46" height="15.36" fill="#ff7743"/>
<rect x="652.57" y="191.14" width="16.46" height="15.36" fill="#ffcb72"/>
<rect x="668.43" y="191.14" width="16.46" height="15.36" fill="#ff542f"/>
<rect x="367" y="205.9" width="16.46" height="15.36" fill="#fae98b"/>
<rect x="382.87" y="205.9" width="16.46" height="15.36" fill="#fdea87"/>
<rect x="398.73" y="205.9" width="16.46" height="15.36" fill="#f6e78f"/>
<rect x="414.6" y="205.9" width="16.46" height="15.36" fill="#f0e498"/>
<rect x="430.46" y="205.9" width="16.46" height="15.36" fill="#efe399"/>
<rect x="446.32" y="205.9" width="16.46" height="15.36" fill="#f4e593"/>
<rect x="462.19" y="205.9" width="16.46" height="15.36" fill="#ff703f"/>
<rect x="478.06" y="205.9" width="16.46" height="15.36" fill="#ffb666"/>
<rect x="493.92" y="205.9" width="16.46" height="15.36" fill="#fce988"/>
<rect x="509.78" y="205.9" width="16.46" height="15.36" fill="#ffd97a"/>
<rect x="525.65" y="205.9" width="16.46" height="15.36" fill="#ff0000"/>
<rect x="541.51" y="205.9" width="16.46" height="15.36" fill="#ff3820"/>
<rect x="557.38" y="205.9" width="16.46" height="15.36" fill="#ff693b"/>
<rect x="573.25" y="205.9" width="16.46" height="15.36" fill="#ff8c4f"/>
<rect x="589.11" y="205.9" width="16.46" height="15.36" fill="#f5e691"/>
<rect x="604.97" y="205.9" width="16.46" height="15.36" fill="#ffd276"/>
<rect x="620.84" y="205.9" width="16.46" height="15.36" fill="#ffb666"/>
<rect x="636.7" y="205.9" width="16.46" height="15.36" fill="#f3e593"/>
<rect x="652.57" y="205.9" width="16.46" height="15.36" fill="#eee39a"/>
<rect x="668.43" y="205.9" width="16.46" height="15.36" fill="#f4e593"/>
<rect x="367" y="220.66" width="16.46" height="15.36" fill="#f4e692"/>
<rect x="382.87" y="220.66" width="16.46" height="15.36" fill="#ffeb84"/>
<rect x="398.73" y="220.66" width="16.46" height="15.36" fill="#f7e78f"/>
<rect x="414.6" y="220.66" width="16.46" height="15.36" fill="#f0e497"/>
<rect x="430.46" y="220.66" width="16.46" height="15.36" fill="#eee39a"/>
<rect x="446.32" y="220.66" width="16.46" height="15.36" fill="#ede29b"/>
<rect x="462.19" y="220.66" width="16.46" height="15.36" fill="#ff542f"/>
<rect x="478.06" y="220.66" width="16.46" height="15.36" fill="#ffaf63"/>
<rect x="493.92" y="220.66" width="16.46" height="15.36" fill="#fdea87"/>
<rect x="509.78" y="220.66" width="16.46" height="15.36" fill="#ffe07e"/>
<rect x="525.65" y="220.66" width="16.46" height="15.36" fill="#ff3820"/>
<rect x="541.51" y="220.66" width="16.46" height="15.36" fill="#ff0000"/>
<rect x="557.38" y="220.66" width="16.46" height="15.36" fill="#ffb666"/>
<rect x="573.25" y="220.66" width="16.46" height="15.36" fill="#ffd97a"/>
<rect x="589.11" y="220.66" width="16.46" height="15.36" fill="#f4e593"/>
<rect x="604.97" y="220.66" width="16.46" height="15.36" fill="#ffaf63"/>
<rect x="620.84" y="220.66" width="16.46" height="15.36" fill="#ff7e47"/>
<rect x="636.7" y="220.66" width="16.46" height="15.36" fill="#f6e790"/>
<rect x="652.57" y="220.66" width="16.46" height="15.36" fill="#f0e497"/>
<rect x="668.43" y="220.66" width="16.46" height="15.36" fill="#f5e691"/>
<rect x="367" y="235.42" width="16.46" height="15.36" fill="#ffa15b"/>
<rect x="382.87" y="235.42" width="16.46" height="15.36" fill="#ffe782"/>
<rect x="398.73" y="235.42" width="16.46" height="15.36" fill="#f8e88d"/>
<rect x="414.6" y="235.42" width="16.46" height="15.36" fill="#f0e497"/>
<rect x="430.46" y="235.42" width="16.46" height="15.36" fill="#e9e0a1"/>
<rect x="446.32" y="235.42" width="16.46" height="15.36" fill="#feeb85"/>
<rect x="462.19" y="235.42" width="16.46" height="15.36" fill="#ff703f"/>
<rect x="478.06" y="235.42" width="16.46" height="15.36" fill="#feea86"/>
<rect x="493.92" y="235.42" width="16.46" height="15.36" fill="#fbe989"/>
<rect x="509.78" y="235.42" width="16.46" height="15.36" fill="#f8e78e"/>
<rect x="525.65" y="235.42" width="16.46" height="15.36" fill="#ff693b"/>
<rect x="541.51" y="235.42" width="16.46" height="15.36" fill="#ffb666"/>
<rect x="557.38" y="235.42" width="16.46" height="15.36" fill="#ff0000"/>
<rect x="573.25" y="235.42" width="16.46" height="15.36" fill="#ff0e08"/>
<rect x="589.11" y="235.42" width="16.46" height="15.36" fill="#f0e497"/>
<rect x="604.97" y="235.42" width="16.46" height="15.36" fill="#fbe989"/>
<rect x="620.84" y="235.42" width="16.46" height="15.36" fill="#feeb85"/>
<rect x="636.7" y="235.42" width="16.46" height="15.36" fill="#efe399"/>
<rect x="652.57" y="235.42" width="16.46" height="15.36" fill="#efe399"/>
<rect x="668.43" y="235.42" width="16.46" height="15.36" fill="#efe399"/>
<rect x="367" y="250.18" width="16.46" height="15.36" fill="#ffe07e"/>
<rect x="382.87" y="250.18" width="16.46" height="15.36" fill="#ffcb72"/>
<rect x="398.73" y="250.18" width="16.46" height="15.36" fill="#fbe989"/>
<rect x="414.6" y="250.18" width="16.46" height="15.36" fill="#f5e691"/>
<rect x="430.46" y="250.18" width="16.46" height="15.36" fill="#eee39a"/>
<rect x="446.32" y="250.18" width="16.46" height="15.36" fill="#f9e88c"/>
<rect x="462.19" y="250.18" width="16.46" height="15.36" fill="#ff703f"/>
<rect x="478.06" y="250.18" width="16.46" height="15.36" fill="#fdea86"/>
<rect x="493.92" y="250.18" width="16.46" height="15.36" fill="#fce988"/>
<rect x="509.78" y="250.18" width="16.46" height="15.36" fill="#f9e88c"/>
<rect x="525.65" y="250.18" width="16.46" height="15.36" fill="#ff8c4f"/>
<rect x="541.51" y="250.18" width="16.46" height="15.36" fill="#ffd97a"/>
<rect x="557.38" y="250.18" width="16.46" height="15.36" fill="#ff0e08"/>
<rect x="573.25" y="250.18" width="16.46" height="15.36" fill="#ff0000"/>
<rect x="589.11" y="250.18" width="16.46" height="15.36" fill="#f6e78f"/>
<rect x="604.97" y="250.18" width="16.46" height="15.36" fill="#f6e78f"/>
<rect x="620.84" y="250.18" width="16.46" height="15.36" fill="#feeb85"/>
<rect x="636.7" y="250.18" width="16.46" height="15.36" fill="#f0e398"/>
<rect x="652.57" y="250.18" width="16.46" height="15.36" fill="#f1e497"/>
<rect x="668.43" y="250.18" width="16.46" height="15.36" fill="#f2e496"/>
<rect x="367" y="264.94" width="16.46" height="15.36" fill="#cdd3c5"/>
<rect x="382.87" y="264.94" width="16.46" height="15.36" fill="#fdea86"/>
<rect x="398.73" y="264.94" width="16.46" height="15.36" fill="#ff9a57"/>
<rect x="414.6" y="264.94" width="16.46" height="15.36" fill="#ff542f"/>
<rect x="430.46" y="264.94" width="16.46" height="15.36" fill="#ff0e08"/>
<rect x="446.32" y="264.94" width="16.46" height="15.36" fill="#c0ccd8"/>
<rect x="462.19" y="264.94" width="16.46" height="15.36" fill="#fdea86"/>
<rect x="478.06" y="264.94" width="16.46" height="15.36" fill="#ffa15b"/>
<rect x="493.92" y="264.94" width="16.46" height="15.36" fill="#ff9353"/>
<rect x="509.78" y="264.94" width="16.46" height="15.36" fill="#ff5b33"/>
<rect x="525.65" y="264.94" width="16.46" height="15.36" fill="#f5e691"/>
<rect x="541.51" y="264.94" width="16.46" height="15.36" fill="#f4e593"/>
<rect x="557.38" y="264.94" width="16.46" height="15.36" fill="#f0e497"/>
<rect x="573.25" y="264.94" width="16.46" height="15.36" fill="#f6e78f"/>
<rect x="589.11" y="264.94" width="16.46" height="15.36" fill="#ff0000"/>
<rect x="604.97" y="264.94" width="16.46" height="15.36" fill="#d2d5c0"/>
<rect x="620.84" y="264.94" width="16.46" height="15.36" fill="#ffd276"/>
<rect x="636.7" y="264.94" width="16.46" height="15.36" fill="#ffb666"/>
<rect x="652.57" y="264.94" width="16.46" height="15.36" fill="#ffeb84"/>
<rect x="668.43" y="264.94" width="16.46" height="15.36" fill="#ff4d2b"/>
<rect x="367" y="279.7" width="16.46" height="15.36" fill="#fdea86"/>
<rect x="382.87" y="279.7" width="16.46" height="15.36" fill="#e8e0a2"/>
<rect x="398.73" y="279.7" width="16.46" height="15.36" fill="#dbd9b4"/>
<rect x="414.6" y="279.7" width="16.46" height="15.36" fill="#ced3c5"/>
<rect x="430.46" y="279.7" width="16.46" height="15.36" fill="#c4ced2"/>
<rect x="446.32" y="279.7" width="16.46" height="15.36" fill="#fae88b"/>
<rect x="462.19" y="279.7" width="16.46" height="15.36" fill="#f2e496"/>
<rect x="478.06" y="279.7" width="16.46" height="15.36" fill="#ece29d"/>
<rect x="493.92" y="279.7" width="16.46" height="15.36" fill="#e5dea7"/>
<rect x="509.78" y="279.7" width="16.46" height="15.36" fill="#e7dfa4"/>
<rect x="525.65" y="279.7" width="16.46" height="15.36" fill="#ffd276"/>
<rect x="541.51" y="279.7" width="16.46" height="15.36" fill="#ffaf63"/>
<rect x="557.38" y="279.7" width="16.46" height="15.36" fill="#fbe989"/>
<rect x="573.25" y="279.7" width="16.46" height="15.36" fill="#f6e78f"/>
<rect x="589.11" y="279.7" width="16.46" height="15.36" fill="#d2d5c0"/>
<rect x="604.97" y="279.7" width="16.46" height="15.36" fill="#ff0000"/>
<rect x="620.84" y="279.7" width="16.46" height="15.36" fill="#f3e593"/>
<rect x="636.7" y="279.7" width="16.46" height="15.36" fill="#dddab1"/>
<rect x="652.57" y="279.7" width="16.46" height="15.36" fill="#d8d8b8"/>
<rect x="668.43" y="279.7" width="16.46" height="15.36" fill="#d8d8b8"/>
<rect x="367" y="294.46" width="16.46" height="15.36" fill="#e8e0a2"/>
<rect x="382.87" y="294.46" width="16.46" height="15.36" fill="#ff854b"/>
<rect x="398.73" y="294.46" width="16.46" height="15.36" fill="#ff854b"/>
<rect x="414.6" y="294.46" width="16.46" height="15.36" fill="#ffc46e"/>
<rect x="430.46" y="294.46" width="16.46" height="15.36" fill="#feea86"/>
<rect x="446.32" y="294.46" width="16.46" height="15.36" fill="#dddab1"/>
<rect x="462.19" y="294.46" width="16.46" height="15.36" fill="#ff3820"/>
<rect x="478.06" y="294.46" width="16.46" height="15.36" fill="#ff2314"/>
<rect x="493.92" y="294.46" width="16.46" height="15.36" fill="#ff3f23"/>
<rect x="509.78" y="294.46" width="16.46" height="15.36" fill="#ff5b33"/>
<rect x="525.65" y="294.46" width="16.46" height="15.36" fill="#ffb666"/>
<rect x="541.51" y="294.46" width="16.46" height="15.36" fill="#ff7e47"/>
<rect x="557.38" y="294.46" width="16.46" height="15.36" fill="#feeb85"/>
<rect x="573.25" y="294.46" width="16.46" height="15.36" fill="#feeb85"/>
<rect x="589.11" y="294.46" width="16.46" height="15.36" fill="#ffd276"/>
<rect x="604.97" y="294.46" width="16.46" height="15.36" fill="#f3e593"/>
<rect x="620.84" y="294.46" width="16.46" height="15.36" fill="#ff0000"/>
<rect x="636.7" y="294.46" width="16.46" height="15.36" fill="#ff542f"/>
<rect x="652.57" y="294.46" width="16.46" height="15.36" fill="#ff7e47"/>
<rect x="668.43" y="294.46" width="16.46" height="15.36" fill="#ff703f"/>
<rect x="367" y="309.22" width="16.46" height="15.36" fill="#d1d5c0"/>
<rect x="382.87" y="309.22" width="16.46" height="15.36" fill="#feeb85"/>
<rect x="398.73" y="309.22" width="16.46" height="15.36" fill="#ff854b"/>
<rect x="414.6" y="309.22" width="16.46" height="15.36" fill="#ffa85f"/>
<rect x="430.46" y="309.22" width="16.46" height="15.36" fill="#ffb666"/>
<rect x="446.32" y="309.22" width="16.46" height="15.36" fill="#c7cfce"/>
<rect x="462.19" y="309.22" width="16.46" height="15.36" fill="#ffe07e"/>
<rect x="478.06" y="309.22" width="16.46" height="15.36" fill="#ff542f"/>
<rect x="493.92" y="309.22" width="16.46" height="15.36" fill="#ff4627"/>
<rect x="509.78" y="309.22" width="16.46" height="15.36" fill="#ff7743"/>
<rect x="525.65" y="309.22" width="16.46" height="15.36" fill="#f3e593"/>
<rect x="541.51" y="309.22" width="16.46" height="15.36" fill="#f6e790"/>
<rect x="557.38" y="309.22" width="16.46" height="15.36" fill="#efe399"/>
<rect x="573.25" y="309.22" width="16.46" height="15.36" fill="#f0e398"/>
<rect x="589.11" y="309.22" width="16.46" height="15.36" fill="#ffb666"/>
<rect x="604.97" y="309.22" width="16.46" height="15.36" fill="#dddab1"/>
<rect x="620.84" y="309.22" width="16.46" height="15.36" fill="#ff542f"/>
<rect x="636.7" y="309.22" width="16.46" height="15.36" fill="#ff0000"/>
<rect x="652.57" y="309.22" width="16.46" height="15.36" fill="#ff1c10"/>
<rect x="668.43" y="309.22" width="16.46" height="15.36" fill="#ff1c10"/>
<rect x="367" y="323.98" width="16.46" height="15.36" fill="#d4d6bd"/>
<rect x="382.87" y="323.98" width="16.46" height="15.36" fill="#ffd97a"/>
<rect x="398.73" y="323.98" width="16.46" height="15.36" fill="#ff6237"/>
<rect x="414.6" y="323.98" width="16.46" height="15.36" fill="#ff7e47"/>
<rect x="430.46" y="323.98" width="16.46" height="15.36" fill="#ffeb84"/>
<rect x="446.32" y="323.98" width="16.46" height="15.36" fill="#c8d0cc"/>
<rect x="462.19" y="323.98" width="16.46" height="15.36" fill="#feeb85"/>
<rect x="478.06" y="323.98" width="16.46" height="15.36" fill="#ff7e47"/>
<rect x="493.92" y="323.98" width="16.46" height="15.36" fill="#ff542f"/>
<rect x="509.78" y="323.98" width="16.46" height="15.36" fill="#ffcb72"/>
<rect x="525.65" y="323.98" width="16.46" height="15.36" fill="#eee39a"/>
<rect x="541.51" y="323.98" width="16.46" height="15.36" fill="#f0e497"/>
<rect x="557.38" y="323.98" width="16.46" height="15.36" fill="#efe399"/>
<rect x="573.25" y="323.98" width="16.46" height="15.36" fill="#f1e497"/>
<rect x="589.11" y="323.98" width="16.46" height="15.36" fill="#ffeb84"/>
<rect x="604.97" y="323.98" width="16.46" height="15.36" fill="#d8d8b8"/>
<rect x="620.84" y="323.98" width="16.46" height="15.36" fill="#ff7e47"/>
<rect x="636.7" y="323.98" width="16.46" height="15.36" fill="#ff1c10"/>
<rect x="652.57" y="323.98" width="16.46" height="15.36" fill="#ff0000"/>
<rect x="668.43" y="323.98" width="16.46" height="15.36" fill="#ff311c"/>
<rect x="367" y="338.74" width="16.46" height="15.36" fill="#ced3c4"/>
<rect x="382.87" y="338.74" width="16.46" height="15.36" fill="#feea86"/>
<rect x="398.73" y="338.74" width="16.46" height="15.36" fill="#ff7e47"/>
<rect x="414.6" y="338.74" width="16.46" height="15.36" fill="#ff5b33"/>
<rect x="430.46" y="338.74" width="16.46" height="15.36" fill="#ff4d2b"/>
<rect x="446.32" y="338.74" width="16.46" height="15.36" fill="#becbd9"/>
<rect x="462.19" y="338.74" width="16.46" height="15.36" fill="#ffe782"/>
<rect x="478.06" y="338.74" width="16.46" height="15.36" fill="#ff5b33"/>
<rect x="493.92" y="338.74" width="16.46" height="15.36" fill="#ff4d2b"/>
<rect x="509.78" y="338.74" width="16.46" height="15.36" fill="#ff542f"/>
<rect x="525.65" y="338.74" width="16.46" height="15.36" fill="#f4e593"/>
<rect x="541.51" y="338.74" width="16.46" height="15.36" fill="#f5e691"/>
<rect x="557.38" y="338.74" width="16.46" height="15.36" fill="#efe399"/>
<rect x="573.25" y="338.74" width="16.46" height="15.36" fill="#f2e496"/>
<rect x="589.11" y="338.74" width="16.46" height="15.36" fill="#ff4d2b"/>
<rect x="604.97" y="338.74" width="16.46" height="15.36" fill="#d8d8b8"/>
<rect x="620.84" y="338.74" width="16.46" height="15.36" fill="#ff703f"/>
<rect x="636.7" y="338.74" width="16.46" height="15.36" fill="#ff1c10"/>
<rect x="652.57" y="338.74" width="16.46" height="15.36" fill="#ff311c"/>
<rect x="668.43" y="338.74" width="16.46" height="15.36" fill="#ff0000"/>
<text class="n" x="374.63" y="67.78">1.000</text>
<text class="n" x="390.5" y="67.78">0.920</text>
<text class="n" x="406.36" y="67.78">0.885</text>
<text class="n" x="422.23" y="67.78">0.849</text>
<text class="n" x="438.09" y="67.78">0.820</text>
<text class="n" x="453.96" y="67.78">0.989</text>
<text class="n" x="469.82" y="67.78">0.943</text>
<text class="n" x="485.69" y="67.78">0.903</text>
<text class="n" x="501.55" y="67.78">0.890</text>
<text class="n" x="517.42" y="67.78">0.881</text>
<text class="n" x="533.28" y="67.78">0.954</text>
<text class="n" x="549.15" y="67.78">0.940</text>
<text class="n" x="565.01" y="67.78">0.977</text>
<text class="n" x="580.88" y="67.78">0.968</text>
<text class="n" x="596.74" y="67.78">0.842</text>
<text class="n" x="612.61" y="67.78">0.962</text>
<text class="n" x="628.47" y="67.78">0.909</text>
<text class="n" x="644.34" y="67.78">0.852</text>
<text class="n" x="660.2" y="67.78">0.858</text>
<text class="n" x="676.07" y="67.78">0.844</text>
<text class="n" x="374.63" y="82.54">0.920</text>
<text class="n" x="390.5" y="82.54">1.000</text>
<text class="n" x="406.36" y="82.54">0.992</text>
<text class="n" x="422.23" y="82.54">0.980</text>
<text class="n" x="438.09" y="82.54">0.955</text>
<text class="n" x="453.96" y="82.54">0.891</text>
<text class="n" x="469.82" y="82.54">0.986</text>
<text class="n" x="485.69" y="82.54">0.982</text>
<text class="n" x="501.55" y="82.54">0.987</text>
<text class="n" x="517.42" y="82.54">0.971</text>
<text class="n" x="533.28" y="82.54">0.961</text>
<text class="n" x="549.15" y="82.54">0.966</text>
<text class="n" x="565.01" y="82.54">0.967</text>
<text class="n" x="580.88" y="82.54">0.971</text>
<text class="n" x="596.74" y="82.54">0.962</text>
<text class="n" x="612.61" y="82.54">0.909</text>
<text class="n" x="628.47" y="82.54">0.981</text>
<text class="n" x="644.34" y="82.54">0.965</text>
<text class="n" x="660.2" y="82.54">0.969</text>
<text class="n" x="676.07" y="82.54">0.963</text>
<text class="n" x="374.63" y="97.3">0.885</text>
<text class="n" x="390.5" y="97.3">0.992</text>
<text class="n" x="406.36" y="97.3">1.000</text>
<text class="n" x="422.23" y="97.3">0.994</text>
<text class="n" x="438.09" y="97.3">0.976</text>
<text class="n" x="453.96" y="97.3">0.852</text>
<text class="n" x="469.82" y="97.3">0.976</text>
<text class="n" x="485.69" y="97.3">0.985</text>
<text class="n" x="501.55" y="97.3">0.992</text>
<text class="n" x="517.42" y="97.3">0.978</text>
<text class="n" x="533.28" y="97.3">0.945</text>
<text class="n" x="549.15" y="97.3">0.946</text>
<text class="n" x="565.01" y="97.3">0.950</text>
<text class="n" x="580.88" y="97.3">0.957</text>
<text class="n" x="596.74" y="97.3">0.978</text>
<text class="n" x="612.61" y="97.3">0.875</text>
<text class="n" x="628.47" y="97.3">0.981</text>
<text class="n" x="644.34" y="97.3">0.981</text>
<text class="n" x="660.2" y="97.3">0.986</text>
<text class="n" x="676.07" y="97.3">0.982</text>
<text class="n" x="374.63" y="112.06">0.849</text>
<text class="n" x="390.5" y="112.06">0.980</text>
<text class="n" x="406.36" y="112.06">0.994</text>
<text class="n" x="422.23" y="112.06">1.000</text>
<text class="n" x="438.09" y="112.06">0.988</text>
<text class="n" x="453.96" y="112.06">0.811</text>
<text class="n" x="469.82" y="112.06">0.964</text>
<text class="n" x="485.69" y="112.06">0.978</text>
<text class="n" x="501.55" y="112.06">0.989</text>
<text class="n" x="517.42" y="112.06">0.978</text>
<text class="n" x="533.28" y="112.06">0.929</text>
<text class="n" x="549.15" y="112.06">0.930</text>
<text class="n" x="565.01" y="112.06">0.930</text>
<text class="n" x="580.88" y="112.06">0.942</text>
<text class="n" x="596.74" y="112.06">0.988</text>
<text class="n" x="612.61" y="112.06">0.843</text>
<text class="n" x="628.47" y="112.06">0.972</text>
<text class="n" x="644.34" y="112.06">0.976</text>
<text class="n" x="660.2" y="112.06">0.982</text>
<text class="n" x="676.07" y="112.06">0.987</text>
<text class="n" x="374.63" y="126.82">0.820</text>
<text class="n" x="390.5" y="126.82">0.955</text>
<text class="n" x="406.36" y="126.82">0.976</text>
<text class="n" x="422.23" y="126.82">0.988</text>
<text class="n" x="438.09" y="126.82">1.000</text>
<text class="n" x="453.96" y="126.82">0.778</text>
<text class="n" x="469.82" y="126.82">0.952</text>
<text class="n" x="485.69" y="126.82">0.972</text>
<text class="n" x="501.55" y="126.82">0.977</text>
<text class="n" x="517.42" y="126.82">0.984</text>
<text class="n" x="533.28" y="126.82">0.927</text>
<text class="n" x="549.15" y="126.82">0.924</text>
<text class="n" x="565.01" y="126.82">0.911</text>
<text class="n" x="580.88" y="126.82">0.924</text>
<text class="n" x="596.74" y="126.82">0.998</text>
<text class="n" x="612.61" y="126.82">0.818</text>
<text class="n" x="628.47" y="126.82">0.963</text>
<text class="n" x="644.34" y="126.82">0.974</text>
<text class="n" x="660.2" y="126.82">0.966</text>
<text class="n" x="676.07" y="126.82">0.989</text>
<text class="n" x="374.63" y="141.58">0.989</text>
<text class="n" x="390.5" y="141.58">0.891</text>
<text class="n" x="406.36" y="141.58">0.852</text>
<text class="n" x="422.23" y="141.58">0.811</text>
<text class="n" x="438.09" y="141.58">0.778</text>
<text class="n" x="453.96" y="141.58">1.000</text>
<text class="n" x="469.82" y="141.58">0.915</text>
<text class="n" x="485.69" y="141.58">0.871</text>
<text class="n" x="501.55" y="141.58">0.854</text>
<text class="n" x="517.42" y="141.58">0.847</text>
<text class="n" x="533.28" y="141.58">0.938</text>
<text class="n" x="549.15" y="141.58">0.922</text>
<text class="n" x="565.01" y="141.58">0.964</text>
<text class="n" x="580.88" y="141.58">0.952</text>
<text class="n" x="596.74" y="141.58">0.807</text>
<text class="n" x="612.61" y="141.58">0.953</text>
<text class="n" x="628.47" y="141.58">0.880</text>
<text class="n" x="644.34" y="141.58">0.825</text>
<text class="n" x="660.2" y="141.58">0.829</text>
<text class="n" x="676.07" y="141.58">0.804</text>
<text class="n" x="374.63" y="156.34">0.943</text>
<text class="n" x="390.5" y="156.34">0.986</text>
<text class="n" x="406.36" y="156.34">0.976</text>
<text class="n" x="422.23" y="156.34">0.964</text>
<text class="n" x="438.09" y="156.34">0.952</text>
<text class="n" x="453.96" y="156.34">0.915</text>
<text class="n" x="469.82" y="156.34">1.000</text>
<text class="n" x="485.69" y="156.34">0.990</text>
<text class="n" x="501.55" y="156.34">0.985</text>
<text class="n" x="517.42" y="156.34">0.982</text>
<text class="n" x="533.28" y="156.34">0.984</text>
<text class="n" x="549.15" y="156.34">0.988</text>
<text class="n" x="565.01" y="156.34">0.984</text>
<text class="n" x="580.88" y="156.34">0.984</text>
<text class="n" x="596.74" y="156.34">0.962</text>
<text class="n" x="612.61" y="156.34">0.933</text>
<text class="n" x="628.47" y="156.34">0.992</text>
<text class="n" x="644.34" y="156.34">0.968</text>
<text class="n" x="660.2" y="156.34">0.964</text>
<text class="n" x="676.07" y="156.34">0.967</text>
<text class="n" x="374.63" y="171.1">0.903</text>
<text class="n" x="390.5" y="171.1">0.982</text>
<text class="n" x="406.36" y="171.1">0.985</text>
<text class="n" x="422.23" y="171.1">0.978</text>
<text class="n" x="438.09" y="171.1">0.972</text>
<text class="n" x="453.96" y="171.1">0.871</text>
<text class="n" x="469.82" y="171.1">0.990</text>
<text class="n" x="485.69" y="171.1">1.000</text>
<text class="n" x="501.55" y="171.1">0.996</text>
<text class="n" x="517.42" y="171.1">0.994</text>
<text class="n" x="533.28" y="171.1">0.974</text>
<text class="n" x="549.15" y="171.1">0.975</text>
<text class="n" x="565.01" y="171.1">0.963</text>
<text class="n" x="580.88" y="171.1">0.962</text>
<text class="n" x="596.74" y="171.1">0.977</text>
<text class="n" x="612.61" y="171.1">0.919</text>
<text class="n" x="628.47" y="171.1">0.995</text>
<text class="n" x="644.34" y="171.1">0.988</text>
<text class="n" x="660.2" y="171.1">0.982</text>
<text class="n" x="676.07" y="171.1">0.987</text>
<text class="n" x="374.63" y="185.86">0.890</text>
<text class="n" x="390.5" y="185.86">0.987</text>
<text class="n" x="406.36" y="185.86">0.992</text>
<text class="n" x="422.23" y="185.86">0.989</text>
<text class="n" x="438.09" y="185.86">0.977</text>
<text class="n" x="453.96" y="185.86">0.854</text>
<text class="n" x="469.82" y="185.86">0.985</text>
<text class="n" x="485.69" y="185.86">0.996</text>
<text class="n" x="501.55" y="185.86">1.000</text>
<text class="n" x="517.42" y="185.86">0.995</text>
<text class="n" x="533.28" y="185.86">0.958</text>
<text class="n" x="549.15" y="185.86">0.961</text>
<text class="n" x="565.01" y="185.86">0.957</text>
<text class="n" x="580.88" y="185.86">0.958</text>
<text class="n" x="596.74" y="185.86">0.979</text>
<text class="n" x="612.61" y="185.86">0.900</text>
<text class="n" x="628.47" y="185.86">0.991</text>
<text class="n" x="644.34" y="185.86">0.990</text>
<text class="n" x="660.2" y="185.86">0.988</text>
<text class="n" x="676.07" y="185.86">0.989</text>
<text class="n" x="374.63" y="200.62">0.881</text>
<text class="n" x="390.5" y="200.62">0.971</text>
<text class="n" x="406.36" y="200.62">0.978</text>
<text class="n" x="422.23" y="200.62">0.978</text>
<text class="n" x="438.09" y="200.62">0.984</text>
<text class="n" x="453.96" y="200.62">0.847</text>
<text class="n" x="469.82" y="200.62">0.982</text>
<text class="n" x="485.69" y="200.62">0.994</text>
<text class="n" x="501.55" y="200.62">0.995</text>
<text class="n" x="517.42" y="200.62">1.000</text>
<text class="n" x="533.28" y="200.62">0.969</text>
<text class="n" x="549.15" y="200.62">0.968</text>
<text class="n" x="565.01" y="200.62">0.948</text>
<text class="n" x="580.88" y="200.62">0.951</text>
<text class="n" x="596.74" y="200.62">0.987</text>
<text class="n" x="612.61" y="200.62">0.906</text>
<text class="n" x="628.47" y="200.62">0.987</text>
<text class="n" x="644.34" y="200.62">0.983</text>
<text class="n" x="660.2" y="200.62">0.971</text>
<text class="n" x="676.07" y="200.62">0.988</text>
<text class="n" x="374.63" y="215.38">0.954</text>
<text class="n" x="390.5" y="215.38">0.961</text>
<text class="n" x="406.36" y="215.38">0.945</text>
<text class="n" x="422.23" y="215.38">0.929</text>
<text class="n" x="438.09" y="215.38">0.927</text>
<text class="n" x="453.96" y="215.38">0.938</text>
<text class="n" x="469.82" y="215.38">0.984</text>
<text class="n" x="485.69" y="215.38">0.974</text>
<text class="n" x="501.55" y="215.38">0.958</text>
<text class="n" x="517.42" y="215.38">0.969</text>
<text class="n" x="533.28" y="215.38">1.000</text>
<text class="n" x="549.15" y="215.38">0.992</text>
<text class="n" x="565.01" y="215.38">0.985</text>
<text class="n" x="580.88" y="215.38">0.980</text>
<text class="n" x="596.74" y="215.38">0.942</text>
<text class="n" x="612.61" y="215.38">0.970</text>
<text class="n" x="628.47" y="215.38">0.974</text>
<text class="n" x="644.34" y="215.38">0.937</text>
<text class="n" x="660.2" y="215.38">0.924</text>
<text class="n" x="676.07" y="215.38">0.938</text>
<text class="n" x="374.63" y="230.14">0.940</text>
<text class="n" x="390.5" y="230.14">0.966</text>
<text class="n" x="406.36" y="230.14">0.946</text>
<text class="n" x="422.23" y="230.14">0.930</text>
<text class="n" x="438.09" y="230.14">0.924</text>
<text class="n" x="453.96" y="230.14">0.922</text>
<text class="n" x="469.82" y="230.14">0.988</text>
<text class="n" x="485.69" y="230.14">0.975</text>
<text class="n" x="501.55" y="230.14">0.961</text>
<text class="n" x="517.42" y="230.14">0.968</text>
<text class="n" x="533.28" y="230.14">0.992</text>
<text class="n" x="549.15" y="230.14">1.000</text>
<text class="n" x="565.01" y="230.14">0.974</text>
<text class="n" x="580.88" y="230.14">0.969</text>
<text class="n" x="596.74" y="230.14">0.938</text>
<text class="n" x="612.61" y="230.14">0.975</text>
<text class="n" x="628.47" y="230.14">0.982</text>
<text class="n" x="644.34" y="230.14">0.944</text>
<text class="n" x="660.2" y="230.14">0.930</text>
<text class="n" x="676.07" y="230.14">0.941</text>
<text class="n" x="374.63" y="244.9">0.977</text>
<text class="n" x="390.5" y="244.9">0.967</text>
<text class="n" x="406.36" y="244.9">0.950</text>
<text class="n" x="422.23" y="244.9">0.930</text>
<text class="n" x="438.09" y="244.9">0.911</text>
<text class="n" x="453.96" y="244.9">0.964</text>
<text class="n" x="469.82" y="244.9">0.984</text>
<text class="n" x="485.69" y="244.9">0.963</text>
<text class="n" x="501.55" y="244.9">0.957</text>
<text class="n" x="517.42" y="244.9">0.948</text>
<text class="n" x="533.28" y="244.9">0.985</text>
<text class="n" x="549.15" y="244.9">0.974</text>
<text class="n" x="565.01" y="244.9">1.000</text>
<text class="n" x="580.88" y="244.9">0.998</text>
<text class="n" x="596.74" y="244.9">0.930</text>
<text class="n" x="612.61" y="244.9">0.957</text>
<text class="n" x="628.47" y="244.9">0.964</text>
<text class="n" x="644.34" y="244.9">0.926</text>
<text class="n" x="660.2" y="244.9">0.926</text>
<text class="n" x="676.07" y="244.9">0.926</text>
<text class="n" x="374.63" y="259.66">0.968</text>
<text class="n" x="390.5" y="259.66">0.971</text>
<text class="n" x="406.36" y="259.66">0.957</text>
<text class="n" x="422.23" y="259.66">0.942</text>
<text class="n" x="438.09" y="259.66">0.924</text>
<text class="n" x="453.96" y="259.66">0.952</text>
<text class="n" x="469.82" y="259.66">0.984</text>
<text class="n" x="485.69" y="259.66">0.962</text>
<text class="n" x="501.55" y="259.66">0.958</text>
<text class="n" x="517.42" y="259.66">0.951</text>
<text class="n" x="533.28" y="259.66">0.980</text>
<text class="n" x="549.15" y="259.66">0.969</text>
<text class="n" x="565.01" y="259.66">0.998</text>
<text class="n" x="580.88" y="259.66">1.000</text>
<text class="n" x="596.74" y="259.66">0.945</text>
<text class="n" x="612.61" y="259.66">0.945</text>
<text class="n" x="628.47" y="259.66">0.964</text>
<text class="n" x="644.34" y="259.66">0.928</text>
<text class="n" x="660.2" y="259.66">0.931</text>
<text class="n" x="676.07" y="259.66">0.933</text>
<text class="n" x="374.63" y="274.42">0.842</text>
<text class="n" x="390.5" y="274.42">0.962</text>
<text class="n" x="406.36" y="274.42">0.978</text>
<text class="n" x="422.23" y="274.42">0.988</text>
<text class="n" x="438.09" y="274.42">0.998</text>
<text class="n" x="453.96" y="274.42">0.807</text>
<text class="n" x="469.82" y="274.42">0.962</text>
<text class="n" x="485.69" y="274.42">0.977</text>
<text class="n" x="501.55" y="274.42">0.979</text>
<text class="n" x="517.42" y="274.42">0.987</text>
<text class="n" x="533.28" y="274.42">0.942</text>
<text class="n" x="549.15" y="274.42">0.938</text>
<text class="n" x="565.01" y="274.42">0.930</text>
<text class="n" x="580.88" y="274.42">0.945</text>
<text class="n" x="596.74" y="274.42">1.000</text>
<text class="n" x="612.61" y="274.42">0.853</text>
<text class="n" x="628.47" y="274.42">0.970</text>
<text class="n" x="644.34" y="274.42">0.974</text>
<text class="n" x="660.2" y="274.42">0.966</text>
<text class="n" x="676.07" y="274.42">0.989</text>
<text class="n" x="374.63" y="289.18">0.962</text>
<text class="n" x="390.5" y="289.18">0.909</text>
<text class="n" x="406.36" y="289.18">0.875</text>
<text class="n" x="422.23" y="289.18">0.843</text>
<text class="n" x="438.09" y="289.18">0.818</text>
<text class="n" x="453.96" y="289.18">0.953</text>
<text class="n" x="469.82" y="289.18">0.933</text>
<text class="n" x="485.69" y="289.18">0.919</text>
<text class="n" x="501.55" y="289.18">0.900</text>
<text class="n" x="517.42" y="289.18">0.906</text>
<text class="n" x="533.28" y="289.18">0.970</text>
<text class="n" x="549.15" y="289.18">0.975</text>
<text class="n" x="565.01" y="289.18">0.957</text>
<text class="n" x="580.88" y="289.18">0.945</text>
<text class="n" x="596.74" y="289.18">0.853</text>
<text class="n" x="612.61" y="289.18">1.000</text>
<text class="n" x="628.47" y="289.18">0.937</text>
<text class="n" x="644.34" y="289.18">0.881</text>
<text class="n" x="660.2" y="289.18">0.868</text>
<text class="n" x="676.07" y="289.18">0.868</text>
<text class="n" x="374.63" y="303.94">0.909</text>
<text class="n" x="390.5" y="303.94">0.981</text>
<text class="n" x="406.36" y="303.94">0.981</text>
<text class="n" x="422.23" y="303.94">0.972</text>
<text class="n" x="438.09" y="303.94">0.963</text>
<text class="n" x="453.96" y="303.94">0.880</text>
<text class="n" x="469.82" y="303.94">0.992</text>
<text class="n" x="485.69" y="303.94">0.995</text>
<text class="n" x="501.55" y="303.94">0.991</text>
<text class="n" x="517.42" y="303.94">0.987</text>
<text class="n" x="533.28" y="303.94">0.974</text>
<text class="n" x="549.15" y="303.94">0.982</text>
<text class="n" x="565.01" y="303.94">0.964</text>
<text class="n" x="580.88" y="303.94">0.964</text>
<text class="n" x="596.74" y="303.94">0.970</text>
<text class="n" x="612.61" y="303.94">0.937</text>
<text class="n" x="628.47" y="303.94">1.000</text>
<text class="n" x="644.34" y="303.94">0.988</text>
<text class="n" x="660.2" y="303.94">0.982</text>
<text class="n" x="676.07" y="303.94">0.984</text>
<text class="n" x="374.63" y="318.7">0.852</text>
<text class="n" x="390.5" y="318.7">0.965</text>
<text class="n" x="406.36" y="318.7">0.981</text>
<text class="n" x="422.23" y="318.7">0.976</text>
<text class="n" x="438.09" y="318.7">0.974</text>
<text class="n" x="453.96" y="318.7">0.825</text>
<text class="n" x="469.82" y="318.7">0.968</text>
<text class="n" x="485.69" y="318.7">0.988</text>
<text class="n" x="501.55" y="318.7">0.990</text>
<text class="n" x="517.42" y="318.7">0.983</text>
<text class="n" x="533.28" y="318.7">0.937</text>
<text class="n" x="549.15" y="318.7">0.944</text>
<text class="n" x="565.01" y="318.7">0.926</text>
<text class="n" x="580.88" y="318.7">0.928</text>
<text class="n" x="596.74" y="318.7">0.974</text>
<text class="n" x="612.61" y="318.7">0.881</text>
<text class="n" x="628.47" y="318.7">0.988</text>
<text class="n" x="644.34" y="318.7">1.000</text>
<text class="n" x="660.2" y="318.7">0.996</text>
<text class="n" x="676.07" y="318.7">0.996</text>
<text class="n" x="374.63" y="333.46">0.858</text>
<text class="n" x="390.5" y="333.46">0.969</text>
<text class="n" x="406.36" y="333.46">0.986</text>
<text class="n" x="422.23" y="333.46">0.982</text>
<text class="n" x="438.09" y="333.46">0.966</text>
<text class="n" x="453.96" y="333.46">0.829</text>
<text class="n" x="469.82" y="333.46">0.964</text>
<text class="n" x="485.69" y="333.46">0.982</text>
<text class="n" x="501.55" y="333.46">0.988</text>
<text class="n" x="517.42" y="333.46">0.971</text>
<text class="n" x="533.28" y="333.46">0.924</text>
<text class="n" x="549.15" y="333.46">0.930</text>
<text class="n" x="565.01" y="333.46">0.926</text>
<text class="n" x="580.88" y="333.46">0.931</text>
<text class="n" x="596.74" y="333.46">0.966</text>
<text class="n" x="612.61" y="333.46">0.868</text>
<text class="n" x="628.47" y="333.46">0.982</text>
<text class="n" x="644.34" y="333.46">0.996</text>
<text class="n" x="660.2" y="333.46">1.000</text>
<text class="n" x="676.07" y="333.46">0.993</text>
<text class="n" x="374.63" y="348.22">0.844</text>
<text class="n" x="390.5" y="348.22">0.963</text>
<text class="n" x="406.36" y="348.22">0.982</text>
<text class="n" x="422.23" y="348.22">0.987</text>
<text class="n" x="438.09" y="348.22">0.989</text>
<text class="n" x="453.96" y="348.22">0.804</text>
<text class="n" x="469.82" y="348.22">0.967</text>
<text class="n" x="485.69" y="348.22">0.987</text>
<text class="n" x="501.55" y="348.22">0.989</text>
<text class="n" x="517.42" y="348.22">0.988</text>
<text class="n" x="533.28" y="348.22">0.938</text>
<text class="n" x="549.15" y="348.22">0.941</text>
<text class="n" x="565.01" y="348.22">0.926</text>
<text class="n" x="580.88" y="348.22">0.933</text>
<text class="n" x="596.74" y="348.22">0.989</text>
<text class="n" x="612.61" y="348.22">0.868</text>
<text class="n" x="628.47" y="348.22">0.984</text>
<text class="n" x="644.34" y="348.22">0.996</text>
<text class="n" x="660.2" y="348.22">0.993</text>
<text class="n" x="676.07" y="348.22">1.000</text>
<line class="l o" x1="367" y1="57.8" x2="367" y2="354"/>
<line class="l o" x1="366.5" y1="58.3" x2="684.8" y2="58.3"/>
<line class="l" x1="446.32" y1="57.8" x2="446.32" y2="354"/>
<line class="l" x1="366.5" y1="132.1" x2="684.8" y2="132.1"/>
<line class="l" x1="525.65" y1="57.8" x2="525.65" y2="354"/>
<line class="l" x1="366.5" y1="205.9" x2="684.8" y2="205.9"/>
<line class="l" x1="604.97" y1="57.8" x2="604.97" y2="354"/>
<line class="l" x1="366.5" y1="279.7" x2="684.8" y2="279.7"/>
<line class="l o" x1="684.3" y1="57.8" x2="684.3" y2="354"/>
<line class="l o" x1="366.5" y1="353.5" x2="684.8" y2="353.5"/>
<text class="t" x="371.2" y="11.4" xml:space="preserve"><tspan>(B)</tspan> Correlation – Freely-moving Normalized</text>
</g>
<g id="panelC">
<text class="r" x="31.9" y="424.18" textLength="24.94" lengthAdjust="spacingAndGlyphs">ACC Delta</text>
<text class="r" x="31.9" y="439.05" textLength="25.55" lengthAdjust="spacingAndGlyphs">ACC Theta</text>
<text class="r" x="31.9" y="453.93" textLength="26.35" lengthAdjust="spacingAndGlyphs">ACC Alpha</text>
<text class="r" x="31.9" y="468.8" textLength="22.93" lengthAdjust="spacingAndGlyphs">ACC Beta</text>
<text class="r" x="31.9" y="483.68" textLength="30.57" lengthAdjust="spacingAndGlyphs">ACC Gamma</text>
<text class="r" x="31.9" y="498.55" textLength="22.82" lengthAdjust="spacingAndGlyphs">PO Delta</text>
<text class="r" x="31.9" y="513.42" textLength="23.43" lengthAdjust="spacingAndGlyphs">PO Theta</text>
<text class="r" x="31.9" y="528.3" textLength="24.23" lengthAdjust="spacingAndGlyphs">PO Alpha</text>
<text class="r" x="31.9" y="543.17" textLength="20.82" lengthAdjust="spacingAndGlyphs">PO Beta</text>
<text class="r" x="31.9" y="558.05" textLength="28.45" lengthAdjust="spacingAndGlyphs">PO Gamma</text>
<text class="r" x="31.9" y="572.92" textLength="22.22" lengthAdjust="spacingAndGlyphs">TG Delta</text>
<text class="r" x="31.9" y="587.8" textLength="22.83" lengthAdjust="spacingAndGlyphs">TG Theta</text>
<text class="r" x="31.9" y="602.67" textLength="23.63" lengthAdjust="spacingAndGlyphs">TG Alpha</text>
<text class="r" x="31.9" y="617.55" textLength="20.21" lengthAdjust="spacingAndGlyphs">TG Beta</text>
<text class="r" x="31.9" y="632.42" textLength="27.85" lengthAdjust="spacingAndGlyphs">TG Gamma</text>
<text class="r" x="31.9" y="647.3" textLength="26.54" lengthAdjust="spacingAndGlyphs">V1M Delta</text>
<text class="r" x="31.9" y="662.17" textLength="27.15" lengthAdjust="spacingAndGlyphs">V1M Theta</text>
<text class="r" x="31.9" y="677.05" textLength="27.95" lengthAdjust="spacingAndGlyphs">V1M Alpha</text>
<text class="r" x="31.9" y="691.92" textLength="24.54" lengthAdjust="spacingAndGlyphs">V1M Beta</text>
<text class="r" x="31.9" y="706.8" textLength="32.17" lengthAdjust="spacingAndGlyphs">V1M Gamma</text>
<rect x="32.5" y="413.8" width="16.4" height="15.47" fill="#ff0000"/>
<rect x="48.3" y="413.8" width="16.4" height="15.47" fill="#ff2314"/>
<rect x="64.1" y="413.8" width="16.4" height="15.47" fill="#ff9755"/>
<rect x="79.9" y="413.8" width="16.4" height="15.47" fill="#ff8e50"/>
<rect x="95.7" y="413.8" width="16.4" height="15.47" fill="#f9e88c"/>
<rect x="111.5" y="413.8" width="16.4" height="15.47" fill="#ffeb84"/>
<rect x="127.3" y="413.8" width="16.4" height="15.47" fill="#ffcc73"/>
<rect x="143.1" y="413.8" width="16.4" height="15.47" fill="#ff9755"/>
<rect x="158.9" y="413.8" width="16.4" height="15.47" fill="#ffc36e"/>
<rect x="174.7" y="413.8" width="16.4" height="15.47" fill="#c9d0cb"/>
<rect x="190.5" y="413.8" width="16.4" height="15.47" fill="#ffb164"/>
<rect x="206.3" y="413.8" width="16.4" height="15.47" fill="#fae88b"/>
<rect x="222.1" y="413.8" width="16.4" height="15.47" fill="#f9e88c"/>
<rect x="237.9" y="413.8" width="16.4" height="15.47" fill="#f9e88c"/>
<rect x="253.7" y="413.8" width="16.4" height="15.47" fill="#e8e0a2"/>
<rect x="269.5" y="413.8" width="16.4" height="15.47" fill="#f8e88d"/>
<rect x="285.3" y="413.8" width="16.4" height="15.47" fill="#ffa05a"/>
<rect x="301.1" y="413.8" width="16.4" height="15.47" fill="#ffeb84"/>
<rect x="316.9" y="413.8" width="16.4" height="15.47" fill="#ffa05a"/>
<rect x="332.7" y="413.8" width="16.4" height="15.47" fill="#ede29c"/>
<rect x="32.5" y="428.68" width="16.4" height="15.47" fill="#ff2314"/>
<rect x="48.3" y="428.68" width="16.4" height="15.47" fill="#ff0000"/>
<rect x="64.1" y="428.68" width="16.4" height="15.47" fill="#ff4728"/>
<rect x="79.9" y="428.68" width="16.4" height="15.47" fill="#ff854b"/>
<rect x="95.7" y="428.68" width="16.4" height="15.47" fill="#f5e691"/>
<rect x="111.5" y="428.68" width="16.4" height="15.47" fill="#ffd578"/>
<rect x="127.3" y="428.68" width="16.4" height="15.47" fill="#ff8e50"/>
<rect x="143.1" y="428.68" width="16.4" height="15.47" fill="#ff4728"/>
<rect x="158.9" y="428.68" width="16.4" height="15.47" fill="#ffcc73"/>
<rect x="174.7" y="428.68" width="16.4" height="15.47" fill="#c2cdd4"/>
<rect x="190.5" y="428.68" width="16.4" height="15.47" fill="#ffa05a"/>
<rect x="206.3" y="428.68" width="16.4" height="15.47" fill="#feeb85"/>
<rect x="222.1" y="428.68" width="16.4" height="15.47" fill="#feea86"/>
<rect x="237.9" y="428.68" width="16.4" height="15.47" fill="#fcea88"/>
<rect x="253.7" y="428.68" width="16.4" height="15.47" fill="#e7dfa4"/>
<rect x="269.5" y="428.68" width="16.4" height="15.47" fill="#f8e78e"/>
<rect x="285.3" y="428.68" width="16.4" height="15.47" fill="#ff502d"/>
<rect x="301.1" y="428.68" width="16.4" height="15.47" fill="#ff7c46"/>
<rect x="316.9" y="428.68" width="16.4" height="15.47" fill="#ff6237"/>
<rect x="332.7" y="428.68" width="16.4" height="15.47" fill="#ebe19f"/>
<rect x="32.5" y="443.55" width="16.4" height="15.47" fill="#ff9755"/>
<rect x="48.3" y="443.55" width="16.4" height="15.47" fill="#ff4728"/>
<rect x="64.1" y="443.55" width="16.4" height="15.47" fill="#ff0000"/>
<rect x="79.9" y="443.55" width="16.4" height="15.47" fill="#ff3e23"/>
<rect x="95.7" y="443.55" width="16.4" height="15.47" fill="#f7e78f"/>
<rect x="111.5" y="443.55" width="16.4" height="15.47" fill="#ff9755"/>
<rect x="127.3" y="443.55" width="16.4" height="15.47" fill="#ff7341"/>
<rect x="143.1" y="443.55" width="16.4" height="15.47" fill="#ff351e"/>
<rect x="158.9" y="443.55" width="16.4" height="15.47" fill="#ff9755"/>
<rect x="174.7" y="443.55" width="16.4" height="15.47" fill="#c2cdd4"/>
<rect x="190.5" y="443.55" width="16.4" height="15.47" fill="#ff7341"/>
<rect x="206.3" y="443.55" width="16.4" height="15.47" fill="#ff9755"/>
<rect x="222.1" y="443.55" width="16.4" height="15.47" fill="#ff9755"/>
<rect x="237.9" y="443.55" width="16.4" height="15.47" fill="#ffba69"/>
<rect x="253.7" y="443.55" width="16.4" height="15.47" fill="#e9e0a1"/>
<rect x="269.5" y="443.55" width="16.4" height="15.47" fill="#f7e78e"/>
<rect x="285.3" y="443.55" width="16.4" height="15.47" fill="#ff3e23"/>
<rect x="301.1" y="443.55" width="16.4" height="15.47" fill="#ff351e"/>
<rect x="316.9" y="443.55" width="16.4" height="15.47" fill="#ff2c19"/>
<rect x="332.7" y="443.55" width="16.4" height="15.47" fill="#ede29c"/>
<rect x="32.5" y="458.43" width="16.4" height="15.47" fill="#ff8e50"/>
<rect x="48.3" y="458.43" width="16.4" height="15.47" fill="#ff854b"/>
<rect x="64.1" y="458.43" width="16.4" height="15.47" fill="#ff3e23"/>
<rect x="79.9" y="458.43" width="16.4" height="15.47" fill="#ff0000"/>
<rect x="95.7" y="458.43" width="16.4" height="15.47" fill="#ffd578"/>
<rect x="111.5" y="458.43" width="16.4" height="15.47" fill="#ff854b"/>
<rect x="127.3" y="458.43" width="16.4" height="15.47" fill="#ff5932"/>
<rect x="143.1" y="458.43" width="16.4" height="15.47" fill="#ff3e23"/>
<rect x="158.9" y="458.43" width="16.4" height="15.47" fill="#ff2314"/>
<rect x="174.7" y="458.43" width="16.4" height="15.47" fill="#d5d6bb"/>
<rect x="190.5" y="458.43" width="16.4" height="15.47" fill="#ff6237"/>
<rect x="206.3" y="458.43" width="16.4" height="15.47" fill="#feea86"/>
<rect x="222.1" y="458.43" width="16.4" height="15.47" fill="#fdea86"/>
<rect x="237.9" y="458.43" width="16.4" height="15.47" fill="#feeb85"/>
<rect x="253.7" y="458.43" width="16.4" height="15.47" fill="#f5e691"/>
<rect x="269.5" y="458.43" width="16.4" height="15.47" fill="#fdea87"/>
<rect x="285.3" y="458.43" width="16.4" height="15.47" fill="#ff5932"/>
<rect x="301.1" y="458.43" width="16.4" height="15.47" fill="#ff8e50"/>
<rect x="316.9" y="458.43" width="16.4" height="15.47" fill="#ff1b0f"/>
<rect x="332.7" y="458.43" width="16.4" height="15.47" fill="#f8e88d"/>
<rect x="32.5" y="473.3" width="16.4" height="15.47" fill="#f9e88c"/>
<rect x="48.3" y="473.3" width="16.4" height="15.47" fill="#f5e691"/>
<rect x="64.1" y="473.3" width="16.4" height="15.47" fill="#f7e78f"/>
<rect x="79.9" y="473.3" width="16.4" height="15.47" fill="#ffd578"/>
<rect x="95.7" y="473.3" width="16.4" height="15.47" fill="#ff0000"/>
<rect x="111.5" y="473.3" width="16.4" height="15.47" fill="#fae88b"/>
<rect x="127.3" y="473.3" width="16.4" height="15.47" fill="#fae98a"/>
<rect x="143.1" y="473.3" width="16.4" height="15.47" fill="#f8e78d"/>
<rect x="158.9" y="473.3" width="16.4" height="15.47" fill="#ff854b"/>
<rect x="174.7" y="473.3" width="16.4" height="15.47" fill="#eee29b"/>
<rect x="190.5" y="473.3" width="16.4" height="15.47" fill="#fae98a"/>
<rect x="206.3" y="473.3" width="16.4" height="15.47" fill="#ede29b"/>
<rect x="222.1" y="473.3" width="16.4" height="15.47" fill="#ede29c"/>
<rect x="237.9" y="473.3" width="16.4" height="15.47" fill="#f2e595"/>
<rect x="253.7" y="473.3" width="16.4" height="15.47" fill="#feea86"/>
<rect x="269.5" y="473.3" width="16.4" height="15.47" fill="#f5e691"/>
<rect x="285.3" y="473.3" width="16.4" height="15.47" fill="#f6e790"/>
<rect x="301.1" y="473.3" width="16.4" height="15.47" fill="#f2e595"/>
<rect x="316.9" y="473.3" width="16.4" height="15.47" fill="#fbe989"/>
<rect x="332.7" y="473.3" width="16.4" height="15.47" fill="#ffba69"/>
<rect x="32.5" y="488.18" width="16.4" height="15.47" fill="#ffeb84"/>
<rect x="48.3" y="488.18" width="16.4" height="15.47" fill="#ffd578"/>
<rect x="64.1" y="488.18" width="16.4" height="15.47" fill="#ff9755"/>
<rect x="79.9" y="488.18" width="16.4" height="15.47" fill="#ff854b"/>
<rect x="95.7" y="488.18" width="16.4" height="15.47" fill="#fae88b"/>
<rect x="111.5" y="488.18" width="16.4" height="15.47" fill="#ff0000"/>
<rect x="127.3" y="488.18" width="16.4" height="15.47" fill="#ff502d"/>
<rect x="143.1" y="488.18" width="16.4" height="15.47" fill="#ff6a3c"/>
<rect x="158.9" y="488.18" width="16.4" height="15.47" fill="#ff9755"/>
<rect x="174.7" y="488.18" width="16.4" height="15.47" fill="#cdd2c7"/>
<rect x="190.5" y="488.18" width="16.4" height="15.47" fill="#ff7341"/>
<rect x="206.3" y="488.18" width="16.4" height="15.47" fill="#fdea87"/>
<rect x="222.1" y="488.18" width="16.4" height="15.47" fill="#fdea87"/>
<rect x="237.9" y="488.18" width="16.4" height="15.47" fill="#fdea87"/>
<rect x="253.7" y="488.18" width="16.4" height="15.47" fill="#eee29b"/>
<rect x="269.5" y="488.18" width="16.4" height="15.47" fill="#fae98a"/>
<rect x="285.3" y="488.18" width="16.4" height="15.47" fill="#ffa05a"/>
<rect x="301.1" y="488.18" width="16.4" height="15.47" fill="#ffc36e"/>
<rect x="316.9" y="488.18" width="16.4" height="15.47" fill="#ff854b"/>
<rect x="332.7" y="488.18" width="16.4" height="15.47" fill="#f1e496"/>
<rect x="32.5" y="503.05" width="16.4" height="15.47" fill="#ffcc73"/>
<rect x="48.3" y="503.05" width="16.4" height="15.47" fill="#ff8e50"/>
<rect x="64.1" y="503.05" width="16.4" height="15.47" fill="#ff7341"/>
<rect x="79.9" y="503.05" width="16.4" height="15.47" fill="#ff5932"/>
<rect x="95.7" y="503.05" width="16.4" height="15.47" fill="#fae98a"/>
<rect x="111.5" y="503.05" width="16.4" height="15.47" fill="#ff502d"/>
<rect x="127.3" y="503.05" width="16.4" height="15.47" fill="#ff0000"/>
<rect x="143.1" y="503.05" width="16.4" height="15.47" fill="#ff351e"/>
<rect x="158.9" y="503.05" width="16.4" height="15.47" fill="#ff6237"/>
<rect x="174.7" y="503.05" width="16.4" height="15.47" fill="#d1d4c0"/>
<rect x="190.5" y="503.05" width="16.4" height="15.47" fill="#ff6237"/>
<rect x="206.3" y="503.05" width="16.4" height="15.47" fill="#ffe782"/>
<rect x="222.1" y="503.05" width="16.4" height="15.47" fill="#ffeb84"/>
<rect x="237.9" y="503.05" width="16.4" height="15.47" fill="#ffeb84"/>
<rect x="253.7" y="503.05" width="16.4" height="15.47" fill="#f3e593"/>
<rect x="269.5" y="503.05" width="16.4" height="15.47" fill="#fdea87"/>
<rect x="285.3" y="503.05" width="16.4" height="15.47" fill="#ff4728"/>
<rect x="301.1" y="503.05" width="16.4" height="15.47" fill="#ff7c46"/>
<rect x="316.9" y="503.05" width="16.4" height="15.47" fill="#ff3e23"/>
<rect x="332.7" y="503.05" width="16.4" height="15.47" fill="#f5e691"/>
<rect x="32.5" y="517.92" width="16.4" height="15.47" fill="#ff9755"/>
<rect x="48.3" y="517.92" width="16.4" height="15.47" fill="#ff4728"/>
<rect x="64.1" y="517.92" width="16.4" height="15.47" fill="#ff351e"/>
<rect x="79.9" y="517.92" width="16.4" height="15.47" fill="#ff3e23"/>
<rect x="95.7" y="517.92" width="16.4" height="15.47" fill="#f8e78d"/>
<rect x="111.5" y="517.92" width="16.4" height="15.47" fill="#ff6a3c"/>
<rect x="127.3" y="517.92" width="16.4" height="15.47" fill="#ff351e"/>
<rect x="143.1" y="517.92" width="16.4" height="15.47" fill="#ff0000"/>
<rect x="158.9" y="517.92" width="16.4" height="15.47" fill="#ff7c46"/>
<rect x="174.7" y="517.92" width="16.4" height="15.47" fill="#c7cfce"/>
<rect x="190.5" y="517.92" width="16.4" height="15.47" fill="#ff3e23"/>
<rect x="206.3" y="517.92" width="16.4" height="15.47" fill="#ff7c46"/>
<rect x="222.1" y="517.92" width="16.4" height="15.47" fill="#ff854b"/>
<rect x="237.9" y="517.92" width="16.4" height="15.47" fill="#ff9755"/>
<rect x="253.7" y="517.92" width="16.4" height="15.47" fill="#eee39b"/>
<rect x="269.5" y="517.92" width="16.4" height="15.47" fill="#fce988"/>
<rect x="285.3" y="517.92" width="16.4" height="15.47" fill="#ff120a"/>
<rect x="301.1" y="517.92" width="16.4" height="15.47" fill="#ff2314"/>
<rect x="316.9" y="517.92" width="16.4" height="15.47" fill="#ff351e"/>
<rect x="332.7" y="517.92" width="16.4" height="15.47" fill="#f0e498"/>
<rect x="32.5" y="532.8" width="16.4" height="15.47" fill="#ffc36e"/>
<rect x="48.3" y="532.8" width="16.4" height="15.47" fill="#ffcc73"/>
<rect x="64.1" y="532.8" width="16.4" height="15.47" fill="#ff9755"/>
<rect x="79.9" y="532.8" width="16.4" height="15.47" fill="#ff2314"/>
<rect x="95.7" y="532.8" width="16.4" height="15.47" fill="#ff854b"/>
<rect x="111.5" y="532.8" width="16.4" height="15.47" fill="#ff9755"/>
<rect x="127.3" y="532.8" width="16.4" height="15.47" fill="#ff6237"/>
<rect x="143.1" y="532.8" width="16.4" height="15.47" fill="#ff7c46"/>
<rect x="158.9" y="532.8" width="16.4" height="15.47" fill="#ff0000"/>
<rect x="174.7" y="532.8" width="16.4" height="15.47" fill="#dedbb0"/>
<rect x="190.5" y="532.8" width="16.4" height="15.47" fill="#ff7341"/>
<rect x="206.3" y="532.8" width="16.4" height="15.47" fill="#fbe989"/>
<rect x="222.1" y="532.8" width="16.4" height="15.47" fill="#fbe989"/>
<rect x="237.9" y="532.8" width="16.4" height="15.47" fill="#fdea86"/>
<rect x="253.7" y="532.8" width="16.4" height="15.47" fill="#f7e78f"/>
<rect x="269.5" y="532.8" width="16.4" height="15.47" fill="#f9e88b"/>
<rect x="285.3" y="532.8" width="16.4" height="15.47" fill="#ffb164"/>
<rect x="301.1" y="532.8" width="16.4" height="15.47" fill="#ffe782"/>
<rect x="316.9" y="532.8" width="16.4" height="15.47" fill="#ff5932"/>
<rect x="332.7" y="532.8" width="16.4" height="15.47" fill="#fce988"/>
<rect x="32.5" y="547.67" width="16.4" height="15.47" fill="#c9d0cb"/>
<rect x="48.3" y="547.67" width="16.4" height="15.47" fill="#c2cdd4"/>
<rect x="64.1" y="547.67" width="16.4" height="15.47" fill="#c2cdd4"/>
<rect x="79.9" y="547.67" width="16.4" height="15.47" fill="#d5d6bb"/>
<rect x="95.7" y="547.67" width="16.4" height="15.47" fill="#eee29b"/>
<rect x="111.5" y="547.67" width="16.4" height="15.47" fill="#cdd2c7"/>
<rect x="127.3" y="547.67" width="16.4" height="15.47" fill="#d1d4c0"/>
<rect x="143.1" y="547.67" width="16.4" height="15.47" fill="#c7cfce"/>
<rect x="158.9" y="547.67" width="16.4" height="15.47" fill="#dedbb0"/>
<rect x="174.7" y="547.67" width="16.4" height="15.47" fill="#ff0000"/>
<rect x="190.5" y="547.67" width="16.4" height="15.47" fill="#cbd1c8"/>
<rect x="206.3" y="547.67" width="16.4" height="15.47" fill="#b5c7e6"/>
<rect x="222.1" y="547.67" width="16.4" height="15.47" fill="#b4c6e7"/>
<rect x="237.9" y="547.67" width="16.4" height="15.47" fill="#c0ccd8"/>
<rect x="253.7" y="547.67" width="16.4" height="15.47" fill="#f4e593"/>
<rect x="269.5" y="547.67" width="16.4" height="15.47" fill="#cfd3c4"/>
<rect x="285.3" y="547.67" width="16.4" height="15.47" fill="#b9c9e0"/>
<rect x="301.1" y="547.67" width="16.4" height="15.47" fill="#bccadc"/>
<rect x="316.9" y="547.67" width="16.4" height="15.47" fill="#cdd2c7"/>
<rect x="332.7" y="547.67" width="16.4" height="15.47" fill="#f9e88c"/>
<rect x="32.5" y="562.55" width="16.4" height="15.47" fill="#ffb164"/>
<rect x="48.3" y="562.55" width="16.4" height="15.47" fill="#ffa05a"/>
<rect x="64.1" y="562.55" width="16.4" height="15.47" fill="#ff7341"/>
<rect x="79.9" y="562.55" width="16.4" height="15.47" fill="#ff6237"/>
<rect x="95.7" y="562.55" width="16.4" height="15.47" fill="#fae98a"/>
<rect x="111.5" y="562.55" width="16.4" height="15.47" fill="#ff7341"/>
<rect x="127.3" y="562.55" width="16.4" height="15.47" fill="#ff6237"/>
<rect x="143.1" y="562.55" width="16.4" height="15.47" fill="#ff3e23"/>
<rect x="158.9" y="562.55" width="16.4" height="15.47" fill="#ff7341"/>
<rect x="174.7" y="562.55" width="16.4" height="15.47" fill="#cbd1c8"/>
<rect x="190.5" y="562.55" width="16.4" height="15.47" fill="#ff0000"/>
<rect x="206.3" y="562.55" width="16.4" height="15.47" fill="#ff9755"/>
<rect x="222.1" y="562.55" width="16.4" height="15.47" fill="#ffa05a"/>
<rect x="237.9" y="562.55" width="16.4" height="15.47" fill="#ff7341"/>
<rect x="253.7" y="562.55" width="16.4" height="15.47" fill="#ede29b"/>
<rect x="269.5" y="562.55" width="16.4" height="15.47" fill="#fbe989"/>
<rect x="285.3" y="562.55" width="16.4" height="15.47" fill="#ff5932"/>
<rect x="301.1" y="562.55" width="16.4" height="15.47" fill="#ff6237"/>
<rect x="316.9" y="562.55" width="16.4" height="15.47" fill="#ff4728"/>
<rect x="332.7" y="562.55" width="16.4" height="15.47" fill="#f0e497"/>
<rect x="32.5" y="577.42" width="16.4" height="15.47" fill="#fae88b"/>
<rect x="48.3" y="577.42" width="16.4" height="15.47" fill="#feeb85"/>
<rect x="64.1" y="577.42" width="16.4" height="15.47" fill="#ff9755"/>
<rect x="79.9" y="577.42" width="16.4" height="15.47" fill="#feea86"/>
<rect x="95.7" y="577.42" width="16.4" height="15.47" fill="#ede29b"/>
<rect x="111.5" y="577.42" width="16.4" height="15.47" fill="#fdea87"/>
<rect x="127.3" y="577.42" width="16.4" height="15.47" fill="#ffe782"/>
<rect x="143.1" y="577.42" width="16.4" height="15.47" fill="#ff7c46"/>
<rect x="158.9" y="577.42" width="16.4" height="15.47" fill="#fbe989"/>
<rect x="174.7" y="577.42" width="16.4" height="15.47" fill="#b5c7e6"/>
<rect x="190.5" y="577.42" width="16.4" height="15.47" fill="#ff9755"/>
<rect x="206.3" y="577.42" width="16.4" height="15.47" fill="#ff0000"/>
<rect x="222.1" y="577.42" width="16.4" height="15.47" fill="#ff0000"/>
<rect x="237.9" y="577.42" width="16.4" height="15.47" fill="#ff1b0f"/>
<rect x="253.7" y="577.42" width="16.4" height="15.47" fill="#e2ddaa"/>
<rect x="269.5" y="577.42" width="16.4" height="15.47" fill="#f4e692"/>
<rect x="285.3" y="577.42" width="16.4" height="15.47" fill="#ff854b"/>
<rect x="301.1" y="577.42" width="16.4" height="15.47" fill="#ff2c19"/>
<rect x="316.9" y="577.42" width="16.4" height="15.47" fill="#ffa85f"/>
<rect x="332.7" y="577.42" width="16.4" height="15.47" fill="#e3dda9"/>
<rect x="32.5" y="592.3" width="16.4" height="15.47" fill="#f9e88c"/>
<rect x="48.3" y="592.3" width="16.4" height="15.47" fill="#feea86"/>
<rect x="64.1" y="592.3" width="16.4" height="15.47" fill="#ff9755"/>
<rect x="79.9" y="592.3" width="16.4" height="15.47" fill="#fdea86"/>
<rect x="95.7" y="592.3" width="16.4" height="15.47" fill="#ede29c"/>
<rect x="111.5" y="592.3" width="16.4" height="15.47" fill="#fdea87"/>
<rect x="127.3" y="592.3" width="16.4" height="15.47" fill="#ffeb84"/>
<rect x="143.1" y="592.3" width="16.4" height="15.47" fill="#ff854b"/>
<rect x="158.9" y="592.3" width="16.4" height="15.47" fill="#fbe989"/>
<rect x="174.7" y="592.3" width="16.4" height="15.47" fill="#b4c6e7"/>
<rect x="190.5" y="592.3" width="16.4" height="15.47" fill="#ffa05a"/>
<rect x="206.3" y="592.3" width="16.4" height="15.47" fill="#ff0000"/>
<rect x="222.1" y="592.3" width="16.4" height="15.47" fill="#ff0000"/>
<rect x="237.9" y="592.3" width="16.4" height="15.47" fill="#ff1b0f"/>
<rect x="253.7" y="592.3" width="16.4" height="15.47" fill="#e2ddaa"/>
<rect x="269.5" y="592.3" width="16.4" height="15.47" fill="#f4e693"/>
<rect x="285.3" y="592.3" width="16.4" height="15.47" fill="#ff854b"/>
<rect x="301.1" y="592.3" width="16.4" height="15.47" fill="#ff351e"/>
<rect x="316.9" y="592.3" width="16.4" height="15.47" fill="#ffb164"/>
<rect x="332.7" y="592.3" width="16.4" height="15.47" fill="#e3dda9"/>
<rect x="32.5" y="607.17" width="16.4" height="15.47" fill="#f9e88c"/>
<rect x="48.3" y="607.17" width="16.4" height="15.47" fill="#fcea88"/>
<rect x="64.1" y="607.17" width="16.4" height="15.47" fill="#ffba69"/>
<rect x="79.9" y="607.17" width="16.4" height="15.47" fill="#feeb85"/>
<rect x="95.7" y="607.17" width="16.4" height="15.47" fill="#f2e595"/>
<rect x="111.5" y="607.17" width="16.4" height="15.47" fill="#fdea87"/>
<rect x="127.3" y="607.17" width="16.4" height="15.47" fill="#ffeb84"/>
<rect x="143.1" y="607.17" width="16.4" height="15.47" fill="#ff9755"/>
<rect x="158.9" y="607.17" width="16.4" height="15.47" fill="#fdea86"/>
<rect x="174.7" y="607.17" width="16.4" height="15.47" fill="#c0ccd8"/>
<rect x="190.5" y="607.17" width="16.4" height="15.47" fill="#ff7341"/>
<rect x="206.3" y="607.17" width="16.4" height="15.47" fill="#ff1b0f"/>
<rect x="222.1" y="607.17" width="16.4" height="15.47" fill="#ff1b0f"/>
<rect x="237.9" y="607.17" width="16.4" height="15.47" fill="#ff0000"/>
<rect x="253.7" y="607.17" width="16.4" height="15.47" fill="#e6dfa5"/>
<rect x="269.5" y="607.17" width="16.4" height="15.47" fill="#f3e593"/>
<rect x="285.3" y="607.17" width="16.4" height="15.47" fill="#ffb164"/>
<rect x="301.1" y="607.17" width="16.4" height="15.47" fill="#ff6237"/>
<rect x="316.9" y="607.17" width="16.4" height="15.47" fill="#ffb164"/>
<rect x="332.7" y="607.17" width="16.4" height="15.47" fill="#e7dfa3"/>
<rect x="32.5" y="622.05" width="16.4" height="15.47" fill="#e8e0a2"/>
<rect x="48.3" y="622.05" width="16.4" height="15.47" fill="#e7dfa4"/>
<rect x="64.1" y="622.05" width="16.4" height="15.47" fill="#e9e0a1"/>
<rect x="79.9" y="622.05" width="16.4" height="15.47" fill="#f5e691"/>
<rect x="95.7" y="622.05" width="16.4" height="15.47" fill="#feea86"/>
<rect x="111.5" y="622.05" width="16.4" height="15.47" fill="#eee29b"/>
<rect x="127.3" y="622.05" width="16.4" height="15.47" fill="#f3e593"/>
<rect x="143.1" y="622.05" width="16.4" height="15.47" fill="#eee39b"/>
<rect x="158.9" y="622.05" width="16.4" height="15.47" fill="#f7e78f"/>
<rect x="174.7" y="622.05" width="16.4" height="15.47" fill="#f4e593"/>
<rect x="190.5" y="622.05" width="16.4" height="15.47" fill="#ede29b"/>
<rect x="206.3" y="622.05" width="16.4" height="15.47" fill="#e2ddaa"/>
<rect x="222.1" y="622.05" width="16.4" height="15.47" fill="#e2ddaa"/>
<rect x="237.9" y="622.05" width="16.4" height="15.47" fill="#e6dfa5"/>
<rect x="253.7" y="622.05" width="16.4" height="15.47" fill="#ff0000"/>
<rect x="269.5" y="622.05" width="16.4" height="15.47" fill="#f7e78f"/>
<rect x="285.3" y="622.05" width="16.4" height="15.47" fill="#eee29b"/>
<rect x="301.1" y="622.05" width="16.4" height="15.47" fill="#e8e0a2"/>
<rect x="316.9" y="622.05" width="16.4" height="15.47" fill="#f2e595"/>
<rect x="332.7" y="622.05" width="16.4" height="15.47" fill="#ff5932"/>
<rect x="32.5" y="636.92" width="16.4" height="15.47" fill="#f8e88d"/>
<rect x="48.3" y="636.92" width="16.4" height="15.47" fill="#f8e78e"/>
<rect x="64.1" y="636.92" width="16.4" height="15.47" fill="#f7e78e"/>
<rect x="79.9" y="636.92" width="16.4" height="15.47" fill="#fdea87"/>
<rect x="95.7" y="636.92" width="16.4" height="15.47" fill="#f5e691"/>
<rect x="111.5" y="636.92" width="16.4" height="15.47" fill="#fae98a"/>
<rect x="127.3" y="636.92" width="16.4" height="15.47" fill="#fdea87"/>
<rect x="143.1" y="636.92" width="16.4" height="15.47" fill="#fce988"/>
<rect x="158.9" y="636.92" width="16.4" height="15.47" fill="#f9e88b"/>
<rect x="174.7" y="636.92" width="16.4" height="15.47" fill="#cfd3c4"/>
<rect x="190.5" y="636.92" width="16.4" height="15.47" fill="#fbe989"/>
<rect x="206.3" y="636.92" width="16.4" height="15.47" fill="#f4e692"/>
<rect x="222.1" y="636.92" width="16.4" height="15.47" fill="#f4e693"/>
<rect x="237.9" y="636.92" width="16.4" height="15.47" fill="#f3e593"/>
<rect x="253.7" y="636.92" width="16.4" height="15.47" fill="#f7e78f"/>
<rect x="269.5" y="636.92" width="16.4" height="15.47" fill="#ff0000"/>
<rect x="285.3" y="636.92" width="16.4" height="15.47" fill="#feeb85"/>
<rect x="301.1" y="636.92" width="16.4" height="15.47" fill="#fae88b"/>
<rect x="316.9" y="636.92" width="16.4" height="15.47" fill="#feea86"/>
<rect x="332.7" y="636.92" width="16.4" height="15.47" fill="#f2e595"/>
<rect x="32.5" y="651.8" width="16.4" height="15.47" fill="#ffa05a"/>
<rect x="48.3" y="651.8" width="16.4" height="15.47" fill="#ff502d"/>
<rect x="64.1" y="651.8" width="16.4" height="15.47" fill="#ff3e23"/>
<rect x="79.9" y="651.8" width="16.4" height="15.47" fill="#ff5932"/>
<rect x="95.7" y="651.8" width="16.4" height="15.47" fill="#f6e790"/>
<rect x="111.5" y="651.8" width="16.4" height="15.47" fill="#ffa05a"/>
<rect x="127.3" y="651.8" width="16.4" height="15.47" fill="#ff4728"/>
<rect x="143.1" y="651.8" width="16.4" height="15.47" fill="#ff120a"/>
<rect x="158.9" y="651.8" width="16.4" height="15.47" fill="#ffb164"/>
<rect x="174.7" y="651.8" width="16.4" height="15.47" fill="#b9c9e0"/>
<rect x="190.5" y="651.8" width="16.4" height="15.47" fill="#ff5932"/>
<rect x="206.3" y="651.8" width="16.4" height="15.47" fill="#ff854b"/>
<rect x="222.1" y="651.8" width="16.4" height="15.47" fill="#ff854b"/>
<rect x="237.9" y="651.8" width="16.4" height="15.47" fill="#ffb164"/>
<rect x="253.7" y="651.8" width="16.4" height="15.47" fill="#eee29b"/>
<rect x="269.5" y="651.8" width="16.4" height="15.47" fill="#feeb85"/>
<rect x="285.3" y="651.8" width="16.4" height="15.47" fill="#ff0000"/>
<rect x="301.1" y="651.8" width="16.4" height="15.47" fill="#ff1b0f"/>
<rect x="316.9" y="651.8" width="16.4" height="15.47" fill="#ff1b0f"/>
<rect x="332.7" y="651.8" width="16.4" height="15.47" fill="#eee39a"/>
<rect x="32.5" y="666.67" width="16.4" height="15.47" fill="#ffeb84"/>
<rect x="48.3" y="666.67" width="16.4" height="15.47" fill="#ff7c46"/>
<rect x="64.1" y="666.67" width="16.4" height="15.47" fill="#ff351e"/>
<rect x="79.9" y="666.67" width="16.4" height="15.47" fill="#ff8e50"/>
<rect x="95.7" y="666.67" width="16.4" height="15.47" fill="#f2e595"/>
<rect x="111.5" y="666.67" width="16.4" height="15.47" fill="#ffc36e"/>
<rect x="127.3" y="666.67" width="16.4" height="15.47" fill="#ff7c46"/>
<rect x="143.1" y="666.67" width="16.4" height="15.47" fill="#ff2314"/>
<rect x="158.9" y="666.67" width="16.4" height="15.47" fill="#ffe782"/>
<rect x="174.7" y="666.67" width="16.4" height="15.47" fill="#bccadc"/>
<rect x="190.5" y="666.67" width="16.4" height="15.47" fill="#ff6237"/>
<rect x="206.3" y="666.67" width="16.4" height="15.47" fill="#ff2c19"/>
<rect x="222.1" y="666.67" width="16.4" height="15.47" fill="#ff351e"/>
<rect x="237.9" y="666.67" width="16.4" height="15.47" fill="#ff6237"/>
<rect x="253.7" y="666.67" width="16.4" height="15.47" fill="#e8e0a2"/>
<rect x="269.5" y="666.67" width="16.4" height="15.47" fill="#fae88b"/>
<rect x="285.3" y="666.67" width="16.4" height="15.47" fill="#ff1b0f"/>
<rect x="301.1" y="666.67" width="16.4" height="15.47" fill="#ff0000"/>
<rect x="316.9" y="666.67" width="16.4" height="15.47" fill="#ff351e"/>
<rect x="332.7" y="666.67" width="16.4" height="15.47" fill="#e9e0a1"/>
<rect x="32.5" y="681.55" width="16.4" height="15.47" fill="#ffa05a"/>
<rect x="48.3" y="681.55" width="16.4" height="15.47" fill="#ff6237"/>
<rect x="64.1" y="681.55" width="16.4" height="15.47" fill="#ff2c19"/>
<rect x="79.9" y="681.55" width="16.4" height="15.47" fill="#ff1b0f"/>
<rect x="95.7" y="681.55" width="16.4" height="15.47" fill="#fbe989"/>
<rect x="111.5" y="681.55" width="16.4" height="15.47" fill="#ff854b"/>
<rect x="127.3" y="681.55" width="16.4" height="15.47" fill="#ff3e23"/>
<rect x="143.1" y="681.55" width="16.4" height="15.47" fill="#ff351e"/>
<rect x="158.9" y="681.55" width="16.4" height="15.47" fill="#ff5932"/>
<rect x="174.7" y="681.55" width="16.4" height="15.47" fill="#cdd2c7"/>
<rect x="190.5" y="681.55" width="16.4" height="15.47" fill="#ff4728"/>
<rect x="206.3" y="681.55" width="16.4" height="15.47" fill="#ffa85f"/>
<rect x="222.1" y="681.55" width="16.4" height="15.47" fill="#ffb164"/>
<rect x="237.9" y="681.55" width="16.4" height="15.47" fill="#ffb164"/>
<rect x="253.7" y="681.55" width="16.4" height="15.47" fill="#f2e595"/>
<rect x="269.5" y="681.55" width="16.4" height="15.47" fill="#feea86"/>
<rect x="285.3" y="681.55" width="16.4" height="15.47" fill="#ff1b0f"/>
<rect x="301.1" y="681.55" width="16.4" height="15.47" fill="#ff351e"/>
<rect x="316.9" y="681.55" width="16.4" height="15.47" fill="#ff0000"/>
<rect x="332.7" y="681.55" width="16.4" height="15.47" fill="#f4e593"/>
<rect x="32.5" y="696.42" width="16.4" height="15.47" fill="#ede29c"/>
<rect x="48.3" y="696.42" width="16.4" height="15.47" fill="#ebe19f"/>
<rect x="64.1" y="696.42" width="16.4" height="15.47" fill="#ede29c"/>
<rect x="79.9" y="696.42" width="16.4" height="15.47" fill="#f8e88d"/>
<rect x="95.7" y="696.42" width="16.4" height="15.47" fill="#ffba69"/>
<rect x="111.5" y="696.42" width="16.4" height="15.47" fill="#f1e496"/>
<rect x="127.3" y="696.42" width="16.4" height="15.47" fill="#f5e691"/>
<rect x="143.1" y="696.42" width="16.4" height="15.47" fill="#f0e498"/>
<rect x="158.9" y="696.42" width="16.4" height="15.47" fill="#fce988"/>
<rect x="174.7" y="696.42" width="16.4" height="15.47" fill="#f9e88c"/>
<rect x="190.5" y="696.42" width="16.4" height="15.47" fill="#f0e497"/>
<rect x="206.3" y="696.42" width="16.4" height="15.47" fill="#e3dda9"/>
<rect x="222.1" y="696.42" width="16.4" height="15.47" fill="#e3dda9"/>
<rect x="237.9" y="696.42" width="16.4" height="15.47" fill="#e7dfa3"/>
<rect x="253.7" y="696.42" width="16.4" height="15.47" fill="#ff5932"/>
<rect x="269.5" y="696.42" width="16.4" height="15.47" fill="#f2e595"/>
<rect x="285.3" y="696.42" width="16.4" height="15.47" fill="#eee39a"/>
<rect x="301.1" y="696.42" width="16.4" height="15.47" fill="#e9e0a1"/>
<rect x="316.9" y="696.42" width="16.4" height="15.47" fill="#f4e593"/>
<rect x="332.7" y="696.42" width="16.4" height="15.47" fill="#ff0000"/>
<text class="n" x="40.1" y="423.34">1.000</text>
<text class="n" x="55.9" y="423.34">0.996</text>
<text class="n" x="71.7" y="423.34">0.983</text>
<text class="n" x="87.5" y="423.34">0.984</text>
<text class="n" x="103.3" y="423.34">0.951</text>
<text class="n" x="119.1" y="423.34">0.973</text>
<text class="n" x="134.9" y="423.34">0.977</text>
<text class="n" x="150.7" y="423.34">0.983</text>
<text class="n" x="166.5" y="423.34">0.978</text>
<text class="n" x="182.3" y="423.34">0.767</text>
<text class="n" x="198.1" y="423.34">0.980</text>
<text class="n" x="213.9" y="423.34">0.953</text>
<text class="n" x="229.7" y="423.34">0.951</text>
<text class="n" x="245.5" y="423.34">0.949</text>
<text class="n" x="261.3" y="423.34">0.886</text>
<text class="n" x="277.1" y="423.34">0.947</text>
<text class="n" x="292.9" y="423.34">0.982</text>
<text class="n" x="308.7" y="423.34">0.973</text>
<text class="n" x="324.5" y="423.34">0.982</text>
<text class="n" x="340.3" y="423.34">0.905</text>
<text class="n" x="40.1" y="438.21">0.996</text>
<text class="n" x="55.9" y="438.21">1.000</text>
<text class="n" x="71.7" y="438.21">0.992</text>
<text class="n" x="87.5" y="438.21">0.985</text>
<text class="n" x="103.3" y="438.21">0.936</text>
<text class="n" x="119.1" y="438.21">0.976</text>
<text class="n" x="134.9" y="438.21">0.984</text>
<text class="n" x="150.7" y="438.21">0.992</text>
<text class="n" x="166.5" y="438.21">0.977</text>
<text class="n" x="182.3" y="438.21">0.740</text>
<text class="n" x="198.1" y="438.21">0.982</text>
<text class="n" x="213.9" y="438.21">0.970</text>
<text class="n" x="229.7" y="438.21">0.969</text>
<text class="n" x="245.5" y="438.21">0.963</text>
<text class="n" x="261.3" y="438.21">0.880</text>
<text class="n" x="277.1" y="438.21">0.945</text>
<text class="n" x="292.9" y="438.21">0.991</text>
<text class="n" x="308.7" y="438.21">0.986</text>
<text class="n" x="324.5" y="438.21">0.989</text>
<text class="n" x="340.3" y="438.21">0.896</text>
<text class="n" x="40.1" y="453.09">0.983</text>
<text class="n" x="55.9" y="453.09">0.992</text>
<text class="n" x="71.7" y="453.09">1.000</text>
<text class="n" x="87.5" y="453.09">0.993</text>
<text class="n" x="103.3" y="453.09">0.943</text>
<text class="n" x="119.1" y="453.09">0.983</text>
<text class="n" x="134.9" y="453.09">0.987</text>
<text class="n" x="150.7" y="453.09">0.994</text>
<text class="n" x="166.5" y="453.09">0.983</text>
<text class="n" x="182.3" y="453.09">0.740</text>
<text class="n" x="198.1" y="453.09">0.987</text>
<text class="n" x="213.9" y="453.09">0.983</text>
<text class="n" x="229.7" y="453.09">0.983</text>
<text class="n" x="245.5" y="453.09">0.979</text>
<text class="n" x="261.3" y="453.09">0.888</text>
<text class="n" x="277.1" y="453.09">0.944</text>
<text class="n" x="292.9" y="453.09">0.993</text>
<text class="n" x="308.7" y="453.09">0.994</text>
<text class="n" x="324.5" y="453.09">0.995</text>
<text class="n" x="340.3" y="453.09">0.904</text>
<text class="n" x="40.1" y="467.96">0.984</text>
<text class="n" x="55.9" y="467.96">0.985</text>
<text class="n" x="71.7" y="467.96">0.993</text>
<text class="n" x="87.5" y="467.96">1.000</text>
<text class="n" x="103.3" y="467.96">0.976</text>
<text class="n" x="119.1" y="467.96">0.985</text>
<text class="n" x="134.9" y="467.96">0.990</text>
<text class="n" x="150.7" y="467.96">0.993</text>
<text class="n" x="166.5" y="467.96">0.996</text>
<text class="n" x="182.3" y="467.96">0.814</text>
<text class="n" x="198.1" y="467.96">0.989</text>
<text class="n" x="213.9" y="467.96">0.968</text>
<text class="n" x="229.7" y="467.96">0.967</text>
<text class="n" x="245.5" y="467.96">0.971</text>
<text class="n" x="261.3" y="467.96">0.936</text>
<text class="n" x="277.1" y="467.96">0.964</text>
<text class="n" x="292.9" y="467.96">0.990</text>
<text class="n" x="308.7" y="467.96">0.984</text>
<text class="n" x="324.5" y="467.96">0.997</text>
<text class="n" x="340.3" y="467.96">0.948</text>
<text class="n" x="40.1" y="482.84">0.951</text>
<text class="n" x="55.9" y="482.84">0.936</text>
<text class="n" x="71.7" y="482.84">0.943</text>
<text class="n" x="87.5" y="482.84">0.976</text>
<text class="n" x="103.3" y="482.84">1.000</text>
<text class="n" x="119.1" y="482.84">0.953</text>
<text class="n" x="134.9" y="482.84">0.956</text>
<text class="n" x="150.7" y="482.84">0.946</text>
<text class="n" x="166.5" y="482.84">0.985</text>
<text class="n" x="182.3" y="482.84">0.907</text>
<text class="n" x="198.1" y="482.84">0.956</text>
<text class="n" x="213.9" y="482.84">0.906</text>
<text class="n" x="229.7" y="482.84">0.904</text>
<text class="n" x="245.5" y="482.84">0.923</text>
<text class="n" x="261.3" y="482.84">0.968</text>
<text class="n" x="277.1" y="482.84">0.935</text>
<text class="n" x="292.9" y="482.84">0.939</text>
<text class="n" x="308.7" y="482.84">0.925</text>
<text class="n" x="324.5" y="482.84">0.958</text>
<text class="n" x="340.3" y="482.84">0.979</text>
<text class="n" x="40.1" y="497.71">0.973</text>
<text class="n" x="55.9" y="497.71">0.976</text>
<text class="n" x="71.7" y="497.71">0.983</text>
<text class="n" x="87.5" y="497.71">0.985</text>
<text class="n" x="103.3" y="497.71">0.953</text>
<text class="n" x="119.1" y="497.71">1.000</text>
<text class="n" x="134.9" y="497.71">0.991</text>
<text class="n" x="150.7" y="497.71">0.988</text>
<text class="n" x="166.5" y="497.71">0.983</text>
<text class="n" x="182.3" y="497.71">0.780</text>
<text class="n" x="198.1" y="497.71">0.987</text>
<text class="n" x="213.9" y="497.71">0.965</text>
<text class="n" x="229.7" y="497.71">0.964</text>
<text class="n" x="245.5" y="497.71">0.965</text>
<text class="n" x="261.3" y="497.71">0.907</text>
<text class="n" x="277.1" y="497.71">0.956</text>
<text class="n" x="292.9" y="497.71">0.982</text>
<text class="n" x="308.7" y="497.71">0.978</text>
<text class="n" x="324.5" y="497.71">0.985</text>
<text class="n" x="340.3" y="497.71">0.921</text>
<text class="n" x="40.1" y="512.59">0.977</text>
<text class="n" x="55.9" y="512.59">0.984</text>
<text class="n" x="71.7" y="512.59">0.987</text>
<text class="n" x="87.5" y="512.59">0.990</text>
<text class="n" x="103.3" y="512.59">0.956</text>
<text class="n" x="119.1" y="512.59">0.991</text>
<text class="n" x="134.9" y="512.59">1.000</text>
<text class="n" x="150.7" y="512.59">0.994</text>
<text class="n" x="166.5" y="512.59">0.989</text>
<text class="n" x="182.3" y="512.59">0.798</text>
<text class="n" x="198.1" y="512.59">0.989</text>
<text class="n" x="213.9" y="512.59">0.974</text>
<text class="n" x="229.7" y="512.59">0.973</text>
<text class="n" x="245.5" y="512.59">0.973</text>
<text class="n" x="261.3" y="512.59">0.929</text>
<text class="n" x="277.1" y="512.59">0.965</text>
<text class="n" x="292.9" y="512.59">0.992</text>
<text class="n" x="308.7" y="512.59">0.986</text>
<text class="n" x="324.5" y="512.59">0.993</text>
<text class="n" x="340.3" y="512.59">0.937</text>
<text class="n" x="40.1" y="527.46">0.983</text>
<text class="n" x="55.9" y="527.46">0.992</text>
<text class="n" x="71.7" y="527.46">0.994</text>
<text class="n" x="87.5" y="527.46">0.993</text>
<text class="n" x="103.3" y="527.46">0.946</text>
<text class="n" x="119.1" y="527.46">0.988</text>
<text class="n" x="134.9" y="527.46">0.994</text>
<text class="n" x="150.7" y="527.46">1.000</text>
<text class="n" x="166.5" y="527.46">0.986</text>
<text class="n" x="182.3" y="527.46">0.759</text>
<text class="n" x="198.1" y="527.46">0.993</text>
<text class="n" x="213.9" y="527.46">0.986</text>
<text class="n" x="229.7" y="527.46">0.985</text>
<text class="n" x="245.5" y="527.46">0.983</text>
<text class="n" x="261.3" y="527.46">0.908</text>
<text class="n" x="277.1" y="527.46">0.961</text>
<text class="n" x="292.9" y="527.46">0.998</text>
<text class="n" x="308.7" y="527.46">0.996</text>
<text class="n" x="324.5" y="527.46">0.994</text>
<text class="n" x="340.3" y="527.46">0.916</text>
<text class="n" x="40.1" y="542.34">0.978</text>
<text class="n" x="55.9" y="542.34">0.977</text>
<text class="n" x="71.7" y="542.34">0.983</text>
<text class="n" x="87.5" y="542.34">0.996</text>
<text class="n" x="103.3" y="542.34">0.985</text>
<text class="n" x="119.1" y="542.34">0.983</text>
<text class="n" x="134.9" y="542.34">0.989</text>
<text class="n" x="150.7" y="542.34">0.986</text>
<text class="n" x="166.5" y="542.34">1.000</text>
<text class="n" x="182.3" y="542.34">0.847</text>
<text class="n" x="198.1" y="542.34">0.987</text>
<text class="n" x="213.9" y="542.34">0.960</text>
<text class="n" x="229.7" y="542.34">0.959</text>
<text class="n" x="245.5" y="542.34">0.967</text>
<text class="n" x="261.3" y="542.34">0.943</text>
<text class="n" x="277.1" y="542.34">0.952</text>
<text class="n" x="292.9" y="542.34">0.980</text>
<text class="n" x="308.7" y="542.34">0.974</text>
<text class="n" x="324.5" y="542.34">0.990</text>
<text class="n" x="340.3" y="542.34">0.961</text>
<text class="n" x="40.1" y="557.21">0.767</text>
<text class="n" x="55.9" y="557.21">0.740</text>
<text class="n" x="71.7" y="557.21">0.740</text>
<text class="n" x="87.5" y="557.21">0.814</text>
<text class="n" x="103.3" y="557.21">0.907</text>
<text class="n" x="119.1" y="557.21">0.780</text>
<text class="n" x="134.9" y="557.21">0.798</text>
<text class="n" x="150.7" y="557.21">0.759</text>
<text class="n" x="166.5" y="557.21">0.847</text>
<text class="n" x="182.3" y="557.21">1.000</text>
<text class="n" x="198.1" y="557.21">0.775</text>
<text class="n" x="213.9" y="557.21">0.690</text>
<text class="n" x="229.7" y="557.21">0.686</text>
<text class="n" x="245.5" y="557.21">0.731</text>
<text class="n" x="261.3" y="557.21">0.930</text>
<text class="n" x="277.1" y="557.21">0.788</text>
<text class="n" x="292.9" y="557.21">0.706</text>
<text class="n" x="308.7" y="557.21">0.717</text>
<text class="n" x="324.5" y="557.21">0.780</text>
<text class="n" x="340.3" y="557.21">0.949</text>
<text class="n" x="40.1" y="572.09">0.980</text>
<text class="n" x="55.9" y="572.09">0.982</text>
<text class="n" x="71.7" y="572.09">0.987</text>
<text class="n" x="87.5" y="572.09">0.989</text>
<text class="n" x="103.3" y="572.09">0.956</text>
<text class="n" x="119.1" y="572.09">0.987</text>
<text class="n" x="134.9" y="572.09">0.989</text>
<text class="n" x="150.7" y="572.09">0.993</text>
<text class="n" x="166.5" y="572.09">0.987</text>
<text class="n" x="182.3" y="572.09">0.775</text>
<text class="n" x="198.1" y="572.09">1.000</text>
<text class="n" x="213.9" y="572.09">0.983</text>
<text class="n" x="229.7" y="572.09">0.982</text>
<text class="n" x="245.5" y="572.09">0.987</text>
<text class="n" x="261.3" y="572.09">0.906</text>
<text class="n" x="277.1" y="572.09">0.959</text>
<text class="n" x="292.9" y="572.09">0.990</text>
<text class="n" x="308.7" y="572.09">0.989</text>
<text class="n" x="324.5" y="572.09">0.992</text>
<text class="n" x="340.3" y="572.09">0.917</text>
<text class="n" x="40.1" y="586.96">0.953</text>
<text class="n" x="55.9" y="586.96">0.970</text>
<text class="n" x="71.7" y="586.96">0.983</text>
<text class="n" x="87.5" y="586.96">0.968</text>
<text class="n" x="103.3" y="586.96">0.906</text>
<text class="n" x="119.1" y="586.96">0.965</text>
<text class="n" x="134.9" y="586.96">0.974</text>
<text class="n" x="150.7" y="586.96">0.986</text>
<text class="n" x="166.5" y="586.96">0.960</text>
<text class="n" x="182.3" y="586.96">0.690</text>
<text class="n" x="198.1" y="586.96">0.983</text>
<text class="n" x="213.9" y="586.96">1.000</text>
<text class="n" x="229.7" y="586.96">1.000</text>
<text class="n" x="245.5" y="586.96">0.997</text>
<text class="n" x="261.3" y="586.96">0.863</text>
<text class="n" x="277.1" y="586.96">0.932</text>
<text class="n" x="292.9" y="586.96">0.985</text>
<text class="n" x="308.7" y="586.96">0.995</text>
<text class="n" x="324.5" y="586.96">0.981</text>
<text class="n" x="340.3" y="586.96">0.866</text>
<text class="n" x="40.1" y="601.84">0.951</text>
<text class="n" x="55.9" y="601.84">0.969</text>
<text class="n" x="71.7" y="601.84">0.983</text>
<text class="n" x="87.5" y="601.84">0.967</text>
<text class="n" x="103.3" y="601.84">0.904</text>
<text class="n" x="119.1" y="601.84">0.964</text>
<text class="n" x="134.9" y="601.84">0.973</text>
<text class="n" x="150.7" y="601.84">0.985</text>
<text class="n" x="166.5" y="601.84">0.959</text>
<text class="n" x="182.3" y="601.84">0.686</text>
<text class="n" x="198.1" y="601.84">0.982</text>
<text class="n" x="213.9" y="601.84">1.000</text>
<text class="n" x="229.7" y="601.84">1.000</text>
<text class="n" x="245.5" y="601.84">0.997</text>
<text class="n" x="261.3" y="601.84">0.863</text>
<text class="n" x="277.1" y="601.84">0.931</text>
<text class="n" x="292.9" y="601.84">0.985</text>
<text class="n" x="308.7" y="601.84">0.994</text>
<text class="n" x="324.5" y="601.84">0.980</text>
<text class="n" x="340.3" y="601.84">0.865</text>
<text class="n" x="40.1" y="616.71">0.949</text>
<text class="n" x="55.9" y="616.71">0.963</text>
<text class="n" x="71.7" y="616.71">0.979</text>
<text class="n" x="87.5" y="616.71">0.971</text>
<text class="n" x="103.3" y="616.71">0.923</text>
<text class="n" x="119.1" y="616.71">0.965</text>
<text class="n" x="134.9" y="616.71">0.973</text>
<text class="n" x="150.7" y="616.71">0.983</text>
<text class="n" x="166.5" y="616.71">0.967</text>
<text class="n" x="182.3" y="616.71">0.731</text>
<text class="n" x="198.1" y="616.71">0.987</text>
<text class="n" x="213.9" y="616.71">0.997</text>
<text class="n" x="229.7" y="616.71">0.997</text>
<text class="n" x="245.5" y="616.71">1.000</text>
<text class="n" x="261.3" y="616.71">0.878</text>
<text class="n" x="277.1" y="616.71">0.929</text>
<text class="n" x="292.9" y="616.71">0.980</text>
<text class="n" x="308.7" y="616.71">0.989</text>
<text class="n" x="324.5" y="616.71">0.980</text>
<text class="n" x="340.3" y="616.71">0.883</text>
<text class="n" x="40.1" y="631.59">0.886</text>
<text class="n" x="55.9" y="631.59">0.880</text>
<text class="n" x="71.7" y="631.59">0.888</text>
<text class="n" x="87.5" y="631.59">0.936</text>
<text class="n" x="103.3" y="631.59">0.968</text>
<text class="n" x="119.1" y="631.59">0.907</text>
<text class="n" x="134.9" y="631.59">0.929</text>
<text class="n" x="150.7" y="631.59">0.908</text>
<text class="n" x="166.5" y="631.59">0.943</text>
<text class="n" x="182.3" y="631.59">0.930</text>
<text class="n" x="198.1" y="631.59">0.906</text>
<text class="n" x="213.9" y="631.59">0.863</text>
<text class="n" x="229.7" y="631.59">0.863</text>
<text class="n" x="245.5" y="631.59">0.878</text>
<text class="n" x="261.3" y="631.59">1.000</text>
<text class="n" x="277.1" y="631.59">0.942</text>
<text class="n" x="292.9" y="631.59">0.907</text>
<text class="n" x="308.7" y="631.59">0.885</text>
<text class="n" x="324.5" y="631.59">0.923</text>
<text class="n" x="340.3" y="631.59">0.990</text>
<text class="n" x="40.1" y="646.46">0.947</text>
<text class="n" x="55.9" y="646.46">0.945</text>
<text class="n" x="71.7" y="646.46">0.944</text>
<text class="n" x="87.5" y="646.46">0.964</text>
<text class="n" x="103.3" y="646.46">0.935</text>
<text class="n" x="119.1" y="646.46">0.956</text>
<text class="n" x="134.9" y="646.46">0.965</text>
<text class="n" x="150.7" y="646.46">0.961</text>
<text class="n" x="166.5" y="646.46">0.952</text>
<text class="n" x="182.3" y="646.46">0.788</text>
<text class="n" x="198.1" y="646.46">0.959</text>
<text class="n" x="213.9" y="646.46">0.932</text>
<text class="n" x="229.7" y="646.46">0.931</text>
<text class="n" x="245.5" y="646.46">0.929</text>
<text class="n" x="261.3" y="646.46">0.942</text>
<text class="n" x="277.1" y="646.46">1.000</text>
<text class="n" x="292.9" y="646.46">0.970</text>
<text class="n" x="308.7" y="646.46">0.953</text>
<text class="n" x="324.5" y="646.46">0.968</text>
<text class="n" x="340.3" y="646.46">0.925</text>
<text class="n" x="40.1" y="661.34">0.982</text>
<text class="n" x="55.9" y="661.34">0.991</text>
<text class="n" x="71.7" y="661.34">0.993</text>
<text class="n" x="87.5" y="661.34">0.990</text>
<text class="n" x="103.3" y="661.34">0.939</text>
<text class="n" x="119.1" y="661.34">0.982</text>
<text class="n" x="134.9" y="661.34">0.992</text>
<text class="n" x="150.7" y="661.34">0.998</text>
<text class="n" x="166.5" y="661.34">0.980</text>
<text class="n" x="182.3" y="661.34">0.706</text>
<text class="n" x="198.1" y="661.34">0.990</text>
<text class="n" x="213.9" y="661.34">0.985</text>
<text class="n" x="229.7" y="661.34">0.985</text>
<text class="n" x="245.5" y="661.34">0.980</text>
<text class="n" x="261.3" y="661.34">0.907</text>
<text class="n" x="277.1" y="661.34">0.970</text>
<text class="n" x="292.9" y="661.34">1.000</text>
<text class="n" x="308.7" y="661.34">0.997</text>
<text class="n" x="324.5" y="661.34">0.997</text>
<text class="n" x="340.3" y="661.34">0.910</text>
<text class="n" x="40.1" y="676.21">0.973</text>
<text class="n" x="55.9" y="676.21">0.986</text>
<text class="n" x="71.7" y="676.21">0.994</text>
<text class="n" x="87.5" y="676.21">0.984</text>
<text class="n" x="103.3" y="676.21">0.925</text>
<text class="n" x="119.1" y="676.21">0.978</text>
<text class="n" x="134.9" y="676.21">0.986</text>
<text class="n" x="150.7" y="676.21">0.996</text>
<text class="n" x="166.5" y="676.21">0.974</text>
<text class="n" x="182.3" y="676.21">0.717</text>
<text class="n" x="198.1" y="676.21">0.989</text>
<text class="n" x="213.9" y="676.21">0.995</text>
<text class="n" x="229.7" y="676.21">0.994</text>
<text class="n" x="245.5" y="676.21">0.989</text>
<text class="n" x="261.3" y="676.21">0.885</text>
<text class="n" x="277.1" y="676.21">0.953</text>
<text class="n" x="292.9" y="676.21">0.997</text>
<text class="n" x="308.7" y="676.21">1.000</text>
<text class="n" x="324.5" y="676.21">0.994</text>
<text class="n" x="340.3" y="676.21">0.890</text>
<text class="n" x="40.1" y="691.09">0.982</text>
<text class="n" x="55.9" y="691.09">0.989</text>
<text class="n" x="71.7" y="691.09">0.995</text>
<text class="n" x="87.5" y="691.09">0.997</text>
<text class="n" x="103.3" y="691.09">0.958</text>
<text class="n" x="119.1" y="691.09">0.985</text>
<text class="n" x="134.9" y="691.09">0.993</text>
<text class="n" x="150.7" y="691.09">0.994</text>
<text class="n" x="166.5" y="691.09">0.990</text>
<text class="n" x="182.3" y="691.09">0.780</text>
<text class="n" x="198.1" y="691.09">0.992</text>
<text class="n" x="213.9" y="691.09">0.981</text>
<text class="n" x="229.7" y="691.09">0.980</text>
<text class="n" x="245.5" y="691.09">0.980</text>
<text class="n" x="261.3" y="691.09">0.923</text>
<text class="n" x="277.1" y="691.09">0.968</text>
<text class="n" x="292.9" y="691.09">0.997</text>
<text class="n" x="308.7" y="691.09">0.994</text>
<text class="n" x="324.5" y="691.09">1.000</text>
<text class="n" x="340.3" y="691.09">0.930</text>
<text class="n" x="40.1" y="705.96">0.905</text>
<text class="n" x="55.9" y="705.96">0.896</text>
<text class="n" x="71.7" y="705.96">0.904</text>
<text class="n" x="87.5" y="705.96">0.948</text>
<text class="n" x="103.3" y="705.96">0.979</text>
<text class="n" x="119.1" y="705.96">0.921</text>
<text class="n" x="134.9" y="705.96">0.937</text>
<text class="n" x="150.7" y="705.96">0.916</text>
<text class="n" x="166.5" y="705.96">0.961</text>
<text class="n" x="182.3" y="705.96">0.949</text>
<text class="n" x="198.1" y="705.96">0.917</text>
<text class="n" x="213.9" y="705.96">0.866</text>
<text class="n" x="229.7" y="705.96">0.865</text>
<text class="n" x="245.5" y="705.96">0.883</text>
<text class="n" x="261.3" y="705.96">0.990</text>
<text class="n" x="277.1" y="705.96">0.925</text>
<text class="n" x="292.9" y="705.96">0.910</text>
<text class="n" x="308.7" y="705.96">0.890</text>
<text class="n" x="324.5" y="705.96">0.930</text>
<text class="n" x="340.3" y="705.96">1.000</text>
<line class="l o" x1="32.5" y1="413.3" x2="32.5" y2="711.8"/>
<line class="l o" x1="32" y1="413.8" x2="349" y2="413.8"/>
<line class="l" x1="111.5" y1="413.3" x2="111.5" y2="711.8"/>
<line class="l" x1="32" y1="488.18" x2="349" y2="488.18"/>
<line class="l" x1="190.5" y1="413.3" x2="190.5" y2="711.8"/>
<line class="l" x1="32" y1="562.55" x2="349" y2="562.55"/>
<line class="l" x1="269.5" y1="413.3" x2="269.5" y2="711.8"/>
<line class="l" x1="32" y1="636.92" x2="349" y2="636.92"/>
<line class="l o" x1="348.5" y1="413.3" x2="348.5" y2="711.8"/>
<line class="l o" x1="32" y1="711.3" x2="349" y2="711.3"/>
<text class="t" x="31.8" y="393.6" xml:space="preserve"><tspan>(C)</tspan> Correlation – Anesthetized Raw</text>
</g>
<g id="panelD">
<rect x="367" y="414.8" width="16.46" height="15.43" fill="#ff0000"/>
<rect x="382.87" y="414.8" width="16.46" height="15.43" fill="#ff2e1a"/>
<rect x="398.73" y="414.8" width="16.46" height="15.43" fill="#ff673a"/>
<rect x="414.6" y="414.8" width="16.46" height="15.43" fill="#ff6137"/>
<rect x="430.46" y="414.8" width="16.46" height="15.43" fill="#ffeb84"/>
<rect x="446.32" y="414.8" width="16.46" height="15.43" fill="#ffe581"/>
<rect x="462.19" y="414.8" width="16.46" height="15.43" fill="#ffd477"/>
<rect x="478.06" y="414.8" width="16.46" height="15.43" fill="#ffce74"/>
<rect x="493.92" y="414.8" width="16.46" height="15.43" fill="#ff9554"/>
<rect x="509.78" y="414.8" width="16.46" height="15.43" fill="#c9d1cb"/>
<rect x="525.65" y="414.8" width="16.46" height="15.43" fill="#ffc971"/>
<rect x="541.51" y="414.8" width="16.46" height="15.43" fill="#f8e78e"/>
<rect x="557.38" y="414.8" width="16.46" height="15.43" fill="#f7e78f"/>
<rect x="573.25" y="414.8" width="16.46" height="15.43" fill="#f8e78e"/>
<rect x="589.11" y="414.8" width="16.46" height="15.43" fill="#e7dfa3"/>
<rect x="604.97" y="414.8" width="16.46" height="15.43" fill="#ffb767"/>
<rect x="620.84" y="414.8" width="16.46" height="15.43" fill="#ffac61"/>
<rect x="636.7" y="414.8" width="16.46" height="15.43" fill="#feeb85"/>
<rect x="652.57" y="414.8" width="16.46" height="15.43" fill="#ffb264"/>
<rect x="668.43" y="414.8" width="16.46" height="15.43" fill="#efe39a"/>
<rect x="367" y="429.63" width="16.46" height="15.43" fill="#ff2e1a"/>
<rect x="382.87" y="429.63" width="16.46" height="15.43" fill="#ff0000"/>
<rect x="398.73" y="429.63" width="16.46" height="15.43" fill="#ff3920"/>
<rect x="414.6" y="429.63" width="16.46" height="15.43" fill="#ff502d"/>
<rect x="430.46" y="429.63" width="16.46" height="15.43" fill="#fdea86"/>
<rect x="446.32" y="429.63" width="16.46" height="15.43" fill="#feeb85"/>
<rect x="462.19" y="429.63" width="16.46" height="15.43" fill="#ff9b57"/>
<rect x="478.06" y="429.63" width="16.46" height="15.43" fill="#ff844a"/>
<rect x="493.92" y="429.63" width="16.46" height="15.43" fill="#ff9554"/>
<rect x="509.78" y="429.63" width="16.46" height="15.43" fill="#c2cdd5"/>
<rect x="525.65" y="429.63" width="16.46" height="15.43" fill="#ffd477"/>
<rect x="541.51" y="429.63" width="16.46" height="15.43" fill="#fbe98a"/>
<rect x="557.38" y="429.63" width="16.46" height="15.43" fill="#fdea86"/>
<rect x="573.25" y="429.63" width="16.46" height="15.43" fill="#fcea87"/>
<rect x="589.11" y="429.63" width="16.46" height="15.43" fill="#e6dea6"/>
<rect x="604.97" y="429.63" width="16.46" height="15.43" fill="#ffe07e"/>
<rect x="620.84" y="429.63" width="16.46" height="15.43" fill="#ff6137"/>
<rect x="636.7" y="429.63" width="16.46" height="15.43" fill="#ff9b57"/>
<rect x="652.57" y="429.63" width="16.46" height="15.43" fill="#ff7e47"/>
<rect x="668.43" y="429.63" width="16.46" height="15.43" fill="#ece19e"/>
<rect x="367" y="444.47" width="16.46" height="15.43" fill="#ff673a"/>
<rect x="382.87" y="444.47" width="16.46" height="15.43" fill="#ff3920"/>
<rect x="398.73" y="444.47" width="16.46" height="15.43" fill="#ff0000"/>
<rect x="414.6" y="444.47" width="16.46" height="15.43" fill="#ff2213"/>
<rect x="430.46" y="444.47" width="16.46" height="15.43" fill="#fce988"/>
<rect x="446.32" y="444.47" width="16.46" height="15.43" fill="#ffa65d"/>
<rect x="462.19" y="444.47" width="16.46" height="15.43" fill="#ff7340"/>
<rect x="478.06" y="444.47" width="16.46" height="15.43" fill="#ff341d"/>
<rect x="493.92" y="444.47" width="16.46" height="15.43" fill="#ff5c34"/>
<rect x="509.78" y="444.47" width="16.46" height="15.43" fill="#becbda"/>
<rect x="525.65" y="444.47" width="16.46" height="15.43" fill="#feeb85"/>
<rect x="541.51" y="444.47" width="16.46" height="15.43" fill="#fdea87"/>
<rect x="557.38" y="444.47" width="16.46" height="15.43" fill="#ff9554"/>
<rect x="573.25" y="444.47" width="16.46" height="15.43" fill="#ff8f50"/>
<rect x="589.11" y="444.47" width="16.46" height="15.43" fill="#e5dea6"/>
<rect x="604.97" y="444.47" width="16.46" height="15.43" fill="#feeb85"/>
<rect x="620.84" y="444.47" width="16.46" height="15.43" fill="#ff3f23"/>
<rect x="636.7" y="444.47" width="16.46" height="15.43" fill="#ff2e1a"/>
<rect x="652.57" y="444.47" width="16.46" height="15.43" fill="#ff2213"/>
<rect x="668.43" y="444.47" width="16.46" height="15.43" fill="#ede29c"/>
<rect x="367" y="459.31" width="16.46" height="15.43" fill="#ff6137"/>
<rect x="382.87" y="459.31" width="16.46" height="15.43" fill="#ff502d"/>
<rect x="398.73" y="459.31" width="16.46" height="15.43" fill="#ff2213"/>
<rect x="414.6" y="459.31" width="16.46" height="15.43" fill="#ff0000"/>
<rect x="430.46" y="459.31" width="16.46" height="15.43" fill="#ff8f50"/>
<rect x="446.32" y="459.31" width="16.46" height="15.43" fill="#ff9554"/>
<rect x="462.19" y="459.31" width="16.46" height="15.43" fill="#ff4b2a"/>
<rect x="478.06" y="459.31" width="16.46" height="15.43" fill="#ff4b2a"/>
<rect x="493.92" y="459.31" width="16.46" height="15.43" fill="#ff2213"/>
<rect x="509.78" y="459.31" width="16.46" height="15.43" fill="#d0d4c2"/>
<rect x="525.65" y="459.31" width="16.46" height="15.43" fill="#ffac61"/>
<rect x="541.51" y="459.31" width="16.46" height="15.43" fill="#fdea86"/>
<rect x="557.38" y="459.31" width="16.46" height="15.43" fill="#ffce74"/>
<rect x="573.25" y="459.31" width="16.46" height="15.43" fill="#ffa05a"/>
<rect x="589.11" y="459.31" width="16.46" height="15.43" fill="#f8e88d"/>
<rect x="604.97" y="459.31" width="16.46" height="15.43" fill="#ffb767"/>
<rect x="620.84" y="459.31" width="16.46" height="15.43" fill="#ff2817"/>
<rect x="636.7" y="459.31" width="16.46" height="15.43" fill="#ff5630"/>
<rect x="652.57" y="459.31" width="16.46" height="15.43" fill="#ff170d"/>
<rect x="668.43" y="459.31" width="16.46" height="15.43" fill="#f8e88d"/>
<rect x="367" y="474.14" width="16.46" height="15.43" fill="#ffeb84"/>
<rect x="382.87" y="474.14" width="16.46" height="15.43" fill="#fdea86"/>
<rect x="398.73" y="474.14" width="16.46" height="15.43" fill="#fce988"/>
<rect x="414.6" y="474.14" width="16.46" height="15.43" fill="#ff8f50"/>
<rect x="430.46" y="474.14" width="16.46" height="15.43" fill="#ff0000"/>
<rect x="446.32" y="474.14" width="16.46" height="15.43" fill="#fcea88"/>
<rect x="462.19" y="474.14" width="16.46" height="15.43" fill="#fdea87"/>
<rect x="478.06" y="474.14" width="16.46" height="15.43" fill="#f8e78e"/>
<rect x="493.92" y="474.14" width="16.46" height="15.43" fill="#ff673a"/>
<rect x="509.78" y="474.14" width="16.46" height="15.43" fill="#eee29b"/>
<rect x="525.65" y="474.14" width="16.46" height="15.43" fill="#ffa65d"/>
<rect x="541.51" y="474.14" width="16.46" height="15.43" fill="#f3e594"/>
<rect x="557.38" y="474.14" width="16.46" height="15.43" fill="#eee39a"/>
<rect x="573.25" y="474.14" width="16.46" height="15.43" fill="#f4e692"/>
<rect x="589.11" y="474.14" width="16.46" height="15.43" fill="#feeb85"/>
<rect x="604.97" y="474.14" width="16.46" height="15.43" fill="#feeb85"/>
<rect x="620.84" y="474.14" width="16.46" height="15.43" fill="#fdea87"/>
<rect x="636.7" y="474.14" width="16.46" height="15.43" fill="#f6e790"/>
<rect x="652.57" y="474.14" width="16.46" height="15.43" fill="#ffeb84"/>
<rect x="668.43" y="474.14" width="16.46" height="15.43" fill="#ff844a"/>
<rect x="367" y="488.98" width="16.46" height="15.43" fill="#ffe581"/>
<rect x="382.87" y="488.98" width="16.46" height="15.43" fill="#feeb85"/>
<rect x="398.73" y="488.98" width="16.46" height="15.43" fill="#ffa65d"/>
<rect x="414.6" y="488.98" width="16.46" height="15.43" fill="#ff9554"/>
<rect x="430.46" y="488.98" width="16.46" height="15.43" fill="#fcea88"/>
<rect x="446.32" y="488.98" width="16.46" height="15.43" fill="#ff0000"/>
<rect x="462.19" y="488.98" width="16.46" height="15.43" fill="#ff502d"/>
<rect x="478.06" y="488.98" width="16.46" height="15.43" fill="#ff8f50"/>
<rect x="493.92" y="488.98" width="16.46" height="15.43" fill="#ff7e47"/>
<rect x="509.78" y="488.98" width="16.46" height="15.43" fill="#cdd2c7"/>
<rect x="525.65" y="488.98" width="16.46" height="15.43" fill="#fcea87"/>
<rect x="541.51" y="488.98" width="16.46" height="15.43" fill="#f9e88c"/>
<rect x="557.38" y="488.98" width="16.46" height="15.43" fill="#fdea87"/>
<rect x="573.25" y="488.98" width="16.46" height="15.43" fill="#ffd477"/>
<rect x="589.11" y="488.98" width="16.46" height="15.43" fill="#e8e0a2"/>
<rect x="604.97" y="488.98" width="16.46" height="15.43" fill="#fdea87"/>
<rect x="620.84" y="488.98" width="16.46" height="15.43" fill="#ffe581"/>
<rect x="636.7" y="488.98" width="16.46" height="15.43" fill="#ffe07e"/>
<rect x="652.57" y="488.98" width="16.46" height="15.43" fill="#ff9554"/>
<rect x="668.43" y="488.98" width="16.46" height="15.43" fill="#f2e496"/>
<rect x="367" y="503.81" width="16.46" height="15.43" fill="#ffd477"/>
<rect x="382.87" y="503.81" width="16.46" height="15.43" fill="#ff9b57"/>
<rect x="398.73" y="503.81" width="16.46" height="15.43" fill="#ff7340"/>
<rect x="414.6" y="503.81" width="16.46" height="15.43" fill="#ff4b2a"/>
<rect x="430.46" y="503.81" width="16.46" height="15.43" fill="#fdea87"/>
<rect x="446.32" y="503.81" width="16.46" height="15.43" fill="#ff502d"/>
<rect x="462.19" y="503.81" width="16.46" height="15.43" fill="#ff0000"/>
<rect x="478.06" y="503.81" width="16.46" height="15.43" fill="#ff341d"/>
<rect x="493.92" y="503.81" width="16.46" height="15.43" fill="#ff4b2a"/>
<rect x="509.78" y="503.81" width="16.46" height="15.43" fill="#ccd2c8"/>
<rect x="525.65" y="503.81" width="16.46" height="15.43" fill="#ffe581"/>
<rect x="541.51" y="503.81" width="16.46" height="15.43" fill="#feeb85"/>
<rect x="557.38" y="503.81" width="16.46" height="15.43" fill="#ff844a"/>
<rect x="573.25" y="503.81" width="16.46" height="15.43" fill="#ff6137"/>
<rect x="589.11" y="503.81" width="16.46" height="15.43" fill="#eee29b"/>
<rect x="604.97" y="503.81" width="16.46" height="15.43" fill="#feeb85"/>
<rect x="620.84" y="503.81" width="16.46" height="15.43" fill="#ff5630"/>
<rect x="636.7" y="503.81" width="16.46" height="15.43" fill="#ff6d3d"/>
<rect x="652.57" y="503.81" width="16.46" height="15.43" fill="#ff3920"/>
<rect x="668.43" y="503.81" width="16.46" height="15.43" fill="#f4e692"/>
<rect x="367" y="518.64" width="16.46" height="15.43" fill="#ffce74"/>
<rect x="382.87" y="518.64" width="16.46" height="15.43" fill="#ff844a"/>
<rect x="398.73" y="518.64" width="16.46" height="15.43" fill="#ff341d"/>
<rect x="414.6" y="518.64" width="16.46" height="15.43" fill="#ff4b2a"/>
<rect x="430.46" y="518.64" width="16.46" height="15.43" fill="#f8e78e"/>
<rect x="446.32" y="518.64" width="16.46" height="15.43" fill="#ff8f50"/>
<rect x="462.19" y="518.64" width="16.46" height="15.43" fill="#ff341d"/>
<rect x="478.06" y="518.64" width="16.46" height="15.43" fill="#ff0000"/>
<rect x="493.92" y="518.64" width="16.46" height="15.43" fill="#ff673a"/>
<rect x="509.78" y="518.64" width="16.46" height="15.43" fill="#bbcadd"/>
<rect x="525.65" y="518.64" width="16.46" height="15.43" fill="#fce989"/>
<rect x="541.51" y="518.64" width="16.46" height="15.43" fill="#ffeb84"/>
<rect x="557.38" y="518.64" width="16.46" height="15.43" fill="#ff3f23"/>
<rect x="573.25" y="518.64" width="16.46" height="15.43" fill="#ff3920"/>
<rect x="589.11" y="518.64" width="16.46" height="15.43" fill="#e0dbae"/>
<rect x="604.97" y="518.64" width="16.46" height="15.43" fill="#fae88b"/>
<rect x="620.84" y="518.64" width="16.46" height="15.43" fill="#ff5630"/>
<rect x="636.7" y="518.64" width="16.46" height="15.43" fill="#ff110a"/>
<rect x="652.57" y="518.64" width="16.46" height="15.43" fill="#ff1d10"/>
<rect x="668.43" y="518.64" width="16.46" height="15.43" fill="#ebe19f"/>
<rect x="367" y="533.48" width="16.46" height="15.43" fill="#ff9554"/>
<rect x="382.87" y="533.48" width="16.46" height="15.43" fill="#ff9554"/>
<rect x="398.73" y="533.48" width="16.46" height="15.43" fill="#ff5c34"/>
<rect x="414.6" y="533.48" width="16.46" height="15.43" fill="#ff2213"/>
<rect x="430.46" y="533.48" width="16.46" height="15.43" fill="#ff673a"/>
<rect x="446.32" y="533.48" width="16.46" height="15.43" fill="#ff7e47"/>
<rect x="462.19" y="533.48" width="16.46" height="15.43" fill="#ff4b2a"/>
<rect x="478.06" y="533.48" width="16.46" height="15.43" fill="#ff673a"/>
<rect x="493.92" y="533.48" width="16.46" height="15.43" fill="#ff0000"/>
<rect x="509.78" y="533.48" width="16.46" height="15.43" fill="#dcdab2"/>
<rect x="525.65" y="533.48" width="16.46" height="15.43" fill="#ff9b57"/>
<rect x="541.51" y="533.48" width="16.46" height="15.43" fill="#fdea86"/>
<rect x="557.38" y="533.48" width="16.46" height="15.43" fill="#ffda7a"/>
<rect x="573.25" y="533.48" width="16.46" height="15.43" fill="#ff8f50"/>
<rect x="589.11" y="533.48" width="16.46" height="15.43" fill="#f4e692"/>
<rect x="604.97" y="533.48" width="16.46" height="15.43" fill="#feea86"/>
<rect x="620.84" y="533.48" width="16.46" height="15.43" fill="#ff7e47"/>
<rect x="636.7" y="533.48" width="16.46" height="15.43" fill="#ff8a4d"/>
<rect x="652.57" y="533.48" width="16.46" height="15.43" fill="#ff2e1a"/>
<rect x="668.43" y="533.48" width="16.46" height="15.43" fill="#fdea87"/>
<rect x="367" y="548.32" width="16.46" height="15.43" fill="#c9d1cb"/>
<rect x="382.87" y="548.32" width="16.46" height="15.43" fill="#c2cdd5"/>
<rect x="398.73" y="548.32" width="16.46" height="15.43" fill="#becbda"/>
<rect x="414.6" y="548.32" width="16.46" height="15.43" fill="#d0d4c2"/>
<rect x="430.46" y="548.32" width="16.46" height="15.43" fill="#eee29b"/>
<rect x="446.32" y="548.32" width="16.46" height="15.43" fill="#cdd2c7"/>
<rect x="462.19" y="548.32" width="16.46" height="15.43" fill="#ccd2c8"/>
<rect x="478.06" y="548.32" width="16.46" height="15.43" fill="#bbcadd"/>
<rect x="493.92" y="548.32" width="16.46" height="15.43" fill="#dcdab2"/>
<rect x="509.78" y="548.32" width="16.46" height="15.43" fill="#ff0000"/>
<rect x="525.65" y="548.32" width="16.46" height="15.43" fill="#dfdbaf"/>
<rect x="541.51" y="548.32" width="16.46" height="15.43" fill="#c3ced3"/>
<rect x="557.38" y="548.32" width="16.46" height="15.43" fill="#b4c6e7"/>
<rect x="573.25" y="548.32" width="16.46" height="15.43" fill="#c0ccd7"/>
<rect x="589.11" y="548.32" width="16.46" height="15.43" fill="#f6e78f"/>
<rect x="604.97" y="548.32" width="16.46" height="15.43" fill="#d1d4c1"/>
<rect x="620.84" y="548.32" width="16.46" height="15.43" fill="#c4ced2"/>
<rect x="636.7" y="548.32" width="16.46" height="15.43" fill="#b9c8e1"/>
<rect x="652.57" y="548.32" width="16.46" height="15.43" fill="#cad1ca"/>
<rect x="668.43" y="548.32" width="16.46" height="15.43" fill="#fdea87"/>
<rect x="367" y="563.15" width="16.46" height="15.43" fill="#ffc971"/>
<rect x="382.87" y="563.15" width="16.46" height="15.43" fill="#ffd477"/>
<rect x="398.73" y="563.15" width="16.46" height="15.43" fill="#feeb85"/>
<rect x="414.6" y="563.15" width="16.46" height="15.43" fill="#ffac61"/>
<rect x="430.46" y="563.15" width="16.46" height="15.43" fill="#ffa65d"/>
<rect x="446.32" y="563.15" width="16.46" height="15.43" fill="#fcea87"/>
<rect x="462.19" y="563.15" width="16.46" height="15.43" fill="#ffe581"/>
<rect x="478.06" y="563.15" width="16.46" height="15.43" fill="#fce989"/>
<rect x="493.92" y="563.15" width="16.46" height="15.43" fill="#ff9b57"/>
<rect x="509.78" y="563.15" width="16.46" height="15.43" fill="#dfdbaf"/>
<rect x="525.65" y="563.15" width="16.46" height="15.43" fill="#ff0000"/>
<rect x="541.51" y="563.15" width="16.46" height="15.43" fill="#ff8a4d"/>
<rect x="557.38" y="563.15" width="16.46" height="15.43" fill="#fae88b"/>
<rect x="573.25" y="563.15" width="16.46" height="15.43" fill="#fbe98a"/>
<rect x="589.11" y="563.15" width="16.46" height="15.43" fill="#f3e594"/>
<rect x="604.97" y="563.15" width="16.46" height="15.43" fill="#ff844a"/>
<rect x="620.84" y="563.15" width="16.46" height="15.43" fill="#ffc36d"/>
<rect x="636.7" y="563.15" width="16.46" height="15.43" fill="#fbe989"/>
<rect x="652.57" y="563.15" width="16.46" height="15.43" fill="#fdea86"/>
<rect x="668.43" y="563.15" width="16.46" height="15.43" fill="#f9e88c"/>
<rect x="367" y="577.99" width="16.46" height="15.43" fill="#f8e78e"/>
<rect x="382.87" y="577.99" width="16.46" height="15.43" fill="#fbe98a"/>
<rect x="398.73" y="577.99" width="16.46" height="15.43" fill="#fdea87"/>
<rect x="414.6" y="577.99" width="16.46" height="15.43" fill="#fdea86"/>
<rect x="430.46" y="577.99" width="16.46" height="15.43" fill="#f3e594"/>
<rect x="446.32" y="577.99" width="16.46" height="15.43" fill="#f9e88c"/>
<rect x="462.19" y="577.99" width="16.46" height="15.43" fill="#feeb85"/>
<rect x="478.06" y="577.99" width="16.46" height="15.43" fill="#ffeb84"/>
<rect x="493.92" y="577.99" width="16.46" height="15.43" fill="#fdea86"/>
<rect x="509.78" y="577.99" width="16.46" height="15.43" fill="#c3ced3"/>
<rect x="525.65" y="577.99" width="16.46" height="15.43" fill="#ff8a4d"/>
<rect x="541.51" y="577.99" width="16.46" height="15.43" fill="#ff0000"/>
<rect x="557.38" y="577.99" width="16.46" height="15.43" fill="#ff9b57"/>
<rect x="573.25" y="577.99" width="16.46" height="15.43" fill="#ffc36d"/>
<rect x="589.11" y="577.99" width="16.46" height="15.43" fill="#e0dcad"/>
<rect x="604.97" y="577.99" width="16.46" height="15.43" fill="#fce989"/>
<rect x="620.84" y="577.99" width="16.46" height="15.43" fill="#fae98a"/>
<rect x="636.7" y="577.99" width="16.46" height="15.43" fill="#fce988"/>
<rect x="652.57" y="577.99" width="16.46" height="15.43" fill="#fae98a"/>
<rect x="668.43" y="577.99" width="16.46" height="15.43" fill="#e8e0a2"/>
<rect x="367" y="592.82" width="16.46" height="15.43" fill="#f7e78f"/>
<rect x="382.87" y="592.82" width="16.46" height="15.43" fill="#fdea86"/>
<rect x="398.73" y="592.82" width="16.46" height="15.43" fill="#ff9554"/>
<rect x="414.6" y="592.82" width="16.46" height="15.43" fill="#ffce74"/>
<rect x="430.46" y="592.82" width="16.46" height="15.43" fill="#eee39a"/>
<rect x="446.32" y="592.82" width="16.46" height="15.43" fill="#fdea87"/>
<rect x="462.19" y="592.82" width="16.46" height="15.43" fill="#ff844a"/>
<rect x="478.06" y="592.82" width="16.46" height="15.43" fill="#ff3f23"/>
<rect x="493.92" y="592.82" width="16.46" height="15.43" fill="#ffda7a"/>
<rect x="509.78" y="592.82" width="16.46" height="15.43" fill="#b4c6e7"/>
<rect x="525.65" y="592.82" width="16.46" height="15.43" fill="#fae88b"/>
<rect x="541.51" y="592.82" width="16.46" height="15.43" fill="#ff9b57"/>
<rect x="557.38" y="592.82" width="16.46" height="15.43" fill="#ff0000"/>
<rect x="573.25" y="592.82" width="16.46" height="15.43" fill="#ff1d10"/>
<rect x="589.11" y="592.82" width="16.46" height="15.43" fill="#dbd9b4"/>
<rect x="604.97" y="592.82" width="16.46" height="15.43" fill="#f9e88c"/>
<rect x="620.84" y="592.82" width="16.46" height="15.43" fill="#ff9b57"/>
<rect x="636.7" y="592.82" width="16.46" height="15.43" fill="#ff3920"/>
<rect x="652.57" y="592.82" width="16.46" height="15.43" fill="#ff673a"/>
<rect x="668.43" y="592.82" width="16.46" height="15.43" fill="#e3dda9"/>
<rect x="367" y="607.65" width="16.46" height="15.43" fill="#f8e78e"/>
<rect x="382.87" y="607.65" width="16.46" height="15.43" fill="#fcea87"/>
<rect x="398.73" y="607.65" width="16.46" height="15.43" fill="#ff8f50"/>
<rect x="414.6" y="607.65" width="16.46" height="15.43" fill="#ffa05a"/>
<rect x="430.46" y="607.65" width="16.46" height="15.43" fill="#f4e692"/>
<rect x="446.32" y="607.65" width="16.46" height="15.43" fill="#ffd477"/>
<rect x="462.19" y="607.65" width="16.46" height="15.43" fill="#ff6137"/>
<rect x="478.06" y="607.65" width="16.46" height="15.43" fill="#ff3920"/>
<rect x="493.92" y="607.65" width="16.46" height="15.43" fill="#ff8f50"/>
<rect x="509.78" y="607.65" width="16.46" height="15.43" fill="#c0ccd7"/>
<rect x="525.65" y="607.65" width="16.46" height="15.43" fill="#fbe98a"/>
<rect x="541.51" y="607.65" width="16.46" height="15.43" fill="#ffc36d"/>
<rect x="557.38" y="607.65" width="16.46" height="15.43" fill="#ff1d10"/>
<rect x="573.25" y="607.65" width="16.46" height="15.43" fill="#ff0000"/>
<rect x="589.11" y="607.65" width="16.46" height="15.43" fill="#e0dcac"/>
<rect x="604.97" y="607.65" width="16.46" height="15.43" fill="#f4e692"/>
<rect x="620.84" y="607.65" width="16.46" height="15.43" fill="#ff9b57"/>
<rect x="636.7" y="607.65" width="16.46" height="15.43" fill="#ff341d"/>
<rect x="652.57" y="607.65" width="16.46" height="15.43" fill="#ff3f23"/>
<rect x="668.43" y="607.65" width="16.46" height="15.43" fill="#ece19e"/>
<rect x="367" y="622.49" width="16.46" height="15.43" fill="#e7dfa3"/>
<rect x="382.87" y="622.49" width="16.46" height="15.43" fill="#e6dea6"/>
<rect x="398.73" y="622.49" width="16.46" height="15.43" fill="#e5dea6"/>
<rect x="414.6" y="622.49" width="16.46" height="15.43" fill="#f8e88d"/>
<rect x="430.46" y="622.49" width="16.46" height="15.43" fill="#feeb85"/>
<rect x="446.32" y="622.49" width="16.46" height="15.43" fill="#e8e0a2"/>
<rect x="462.19" y="622.49" width="16.46" height="15.43" fill="#eee29b"/>
<rect x="478.06" y="622.49" width="16.46" height="15.43" fill="#e0dbae"/>
<rect x="493.92" y="622.49" width="16.46" height="15.43" fill="#f4e692"/>
<rect x="509.78" y="622.49" width="16.46" height="15.43" fill="#f6e78f"/>
<rect x="525.65" y="622.49" width="16.46" height="15.43" fill="#f3e594"/>
<rect x="541.51" y="622.49" width="16.46" height="15.43" fill="#e0dcad"/>
<rect x="557.38" y="622.49" width="16.46" height="15.43" fill="#dbd9b4"/>
<rect x="573.25" y="622.49" width="16.46" height="15.43" fill="#e0dcac"/>
<rect x="589.11" y="622.49" width="16.46" height="15.43" fill="#ff0000"/>
<rect x="604.97" y="622.49" width="16.46" height="15.43" fill="#f4e593"/>
<rect x="620.84" y="622.49" width="16.46" height="15.43" fill="#f0e398"/>
<rect x="636.7" y="622.49" width="16.46" height="15.43" fill="#e2ddaa"/>
<rect x="652.57" y="622.49" width="16.46" height="15.43" fill="#eee39a"/>
<rect x="668.43" y="622.49" width="16.46" height="15.43" fill="#ff6137"/>
<rect x="367" y="637.33" width="16.46" height="15.43" fill="#ffb767"/>
<rect x="382.87" y="637.33" width="16.46" height="15.43" fill="#ffe07e"/>
<rect x="398.73" y="637.33" width="16.46" height="15.43" fill="#feeb85"/>
<rect x="414.6" y="637.33" width="16.46" height="15.43" fill="#ffb767"/>
<rect x="430.46" y="637.33" width="16.46" height="15.43" fill="#feeb85"/>
<rect x="446.32" y="637.33" width="16.46" height="15.43" fill="#fdea87"/>
<rect x="462.19" y="637.33" width="16.46" height="15.43" fill="#feeb85"/>
<rect x="478.06" y="637.33" width="16.46" height="15.43" fill="#fae88b"/>
<rect x="493.92" y="637.33" width="16.46" height="15.43" fill="#feea86"/>
<rect x="509.78" y="637.33" width="16.46" height="15.43" fill="#d1d4c1"/>
<rect x="525.65" y="637.33" width="16.46" height="15.43" fill="#ff844a"/>
<rect x="541.51" y="637.33" width="16.46" height="15.43" fill="#fce989"/>
<rect x="557.38" y="637.33" width="16.46" height="15.43" fill="#f9e88c"/>
<rect x="573.25" y="637.33" width="16.46" height="15.43" fill="#f4e692"/>
<rect x="589.11" y="637.33" width="16.46" height="15.43" fill="#f4e593"/>
<rect x="604.97" y="637.33" width="16.46" height="15.43" fill="#ff0000"/>
<rect x="620.84" y="637.33" width="16.46" height="15.43" fill="#ff9b57"/>
<rect x="636.7" y="637.33" width="16.46" height="15.43" fill="#fae98a"/>
<rect x="652.57" y="637.33" width="16.46" height="15.43" fill="#feeb85"/>
<rect x="668.43" y="637.33" width="16.46" height="15.43" fill="#f5e691"/>
<rect x="367" y="652.16" width="16.46" height="15.43" fill="#ffac61"/>
<rect x="382.87" y="652.16" width="16.46" height="15.43" fill="#ff6137"/>
<rect x="398.73" y="652.16" width="16.46" height="15.43" fill="#ff3f23"/>
<rect x="414.6" y="652.16" width="16.46" height="15.43" fill="#ff2817"/>
<rect x="430.46" y="652.16" width="16.46" height="15.43" fill="#fdea87"/>
<rect x="446.32" y="652.16" width="16.46" height="15.43" fill="#ffe581"/>
<rect x="462.19" y="652.16" width="16.46" height="15.43" fill="#ff5630"/>
<rect x="478.06" y="652.16" width="16.46" height="15.43" fill="#ff5630"/>
<rect x="493.92" y="652.16" width="16.46" height="15.43" fill="#ff7e47"/>
<rect x="509.78" y="652.16" width="16.46" height="15.43" fill="#c4ced2"/>
<rect x="525.65" y="652.16" width="16.46" height="15.43" fill="#ffc36d"/>
<rect x="541.51" y="652.16" width="16.46" height="15.43" fill="#fae98a"/>
<rect x="557.38" y="652.16" width="16.46" height="15.43" fill="#ff9b57"/>
<rect x="573.25" y="652.16" width="16.46" height="15.43" fill="#ff9b57"/>
<rect x="589.11" y="652.16" width="16.46" height="15.43" fill="#f0e398"/>
<rect x="604.97" y="652.16" width="16.46" height="15.43" fill="#ff9b57"/>
<rect x="620.84" y="652.16" width="16.46" height="15.43" fill="#ff0000"/>
<rect x="636.7" y="652.16" width="16.46" height="15.43" fill="#ff3920"/>
<rect x="652.57" y="652.16" width="16.46" height="15.43" fill="#ff2e1a"/>
<rect x="668.43" y="652.16" width="16.46" height="15.43" fill="#f1e497"/>
<rect x="367" y="667" width="16.46" height="15.43" fill="#feeb85"/>
<rect x="382.87" y="667" width="16.46" height="15.43" fill="#ff9b57"/>
<rect x="398.73" y="667" width="16.46" height="15.43" fill="#ff2e1a"/>
<rect x="414.6" y="667" width="16.46" height="15.43" fill="#ff5630"/>
<rect x="430.46" y="667" width="16.46" height="15.43" fill="#f6e790"/>
<rect x="446.32" y="667" width="16.46" height="15.43" fill="#ffe07e"/>
<rect x="462.19" y="667" width="16.46" height="15.43" fill="#ff6d3d"/>
<rect x="478.06" y="667" width="16.46" height="15.43" fill="#ff110a"/>
<rect x="493.92" y="667" width="16.46" height="15.43" fill="#ff8a4d"/>
<rect x="509.78" y="667" width="16.46" height="15.43" fill="#b9c8e1"/>
<rect x="525.65" y="667" width="16.46" height="15.43" fill="#fbe989"/>
<rect x="541.51" y="667" width="16.46" height="15.43" fill="#fce988"/>
<rect x="557.38" y="667" width="16.46" height="15.43" fill="#ff3920"/>
<rect x="573.25" y="667" width="16.46" height="15.43" fill="#ff341d"/>
<rect x="589.11" y="667" width="16.46" height="15.43" fill="#e2ddaa"/>
<rect x="604.97" y="667" width="16.46" height="15.43" fill="#fae98a"/>
<rect x="620.84" y="667" width="16.46" height="15.43" fill="#ff3920"/>
<rect x="636.7" y="667" width="16.46" height="15.43" fill="#ff0000"/>
<rect x="652.57" y="667" width="16.46" height="15.43" fill="#ff1d10"/>
<rect x="668.43" y="667" width="16.46" height="15.43" fill="#eae0a0"/>
<rect x="367" y="681.83" width="16.46" height="15.43" fill="#ffb264"/>
<rect x="382.87" y="681.83" width="16.46" height="15.43" fill="#ff7e47"/>
<rect x="398.73" y="681.83" width="16.46" height="15.43" fill="#ff2213"/>
<rect x="414.6" y="681.83" width="16.46" height="15.43" fill="#ff170d"/>
<rect x="430.46" y="681.83" width="16.46" height="15.43" fill="#ffeb84"/>
<rect x="446.32" y="681.83" width="16.46" height="15.43" fill="#ff9554"/>
<rect x="462.19" y="681.83" width="16.46" height="15.43" fill="#ff3920"/>
<rect x="478.06" y="681.83" width="16.46" height="15.43" fill="#ff1d10"/>
<rect x="493.92" y="681.83" width="16.46" height="15.43" fill="#ff2e1a"/>
<rect x="509.78" y="681.83" width="16.46" height="15.43" fill="#cad1ca"/>
<rect x="525.65" y="681.83" width="16.46" height="15.43" fill="#fdea86"/>
<rect x="541.51" y="681.83" width="16.46" height="15.43" fill="#fae98a"/>
<rect x="557.38" y="681.83" width="16.46" height="15.43" fill="#ff673a"/>
<rect x="573.25" y="681.83" width="16.46" height="15.43" fill="#ff3f23"/>
<rect x="589.11" y="681.83" width="16.46" height="15.43" fill="#eee39a"/>
<rect x="604.97" y="681.83" width="16.46" height="15.43" fill="#feeb85"/>
<rect x="620.84" y="681.83" width="16.46" height="15.43" fill="#ff2e1a"/>
<rect x="636.7" y="681.83" width="16.46" height="15.43" fill="#ff1d10"/>
<rect x="652.57" y="681.83" width="16.46" height="15.43" fill="#ff0000"/>
<rect x="668.43" y="681.83" width="16.46" height="15.43" fill="#f6e78f"/>
<rect x="367" y="696.66" width="16.46" height="15.43" fill="#efe39a"/>
<rect x="382.87" y="696.66" width="16.46" height="15.43" fill="#ece19e"/>
<rect x="398.73" y="696.66" width="16.46" height="15.43" fill="#ede29c"/>
<rect x="414.6" y="696.66" width="16.46" height="15.43" fill="#f8e88d"/>
<rect x="430.46" y="696.66" width="16.46" height="15.43" fill="#ff844a"/>
<rect x="446.32" y="696.66" width="16.46" height="15.43" fill="#f2e496"/>
<rect x="462.19" y="696.66" width="16.46" height="15.43" fill="#f4e692"/>
<rect x="478.06" y="696.66" width="16.46" height="15.43" fill="#ebe19f"/>
<rect x="493.92" y="696.66" width="16.46" height="15.43" fill="#fdea87"/>
<rect x="509.78" y="696.66" width="16.46" height="15.43" fill="#fdea87"/>
<rect x="525.65" y="696.66" width="16.46" height="15.43" fill="#f9e88c"/>
<rect x="541.51" y="696.66" width="16.46" height="15.43" fill="#e8e0a2"/>
<rect x="557.38" y="696.66" width="16.46" height="15.43" fill="#e3dda9"/>
<rect x="573.25" y="696.66" width="16.46" height="15.43" fill="#ece19e"/>
<rect x="589.11" y="696.66" width="16.46" height="15.43" fill="#ff6137"/>
<rect x="604.97" y="696.66" width="16.46" height="15.43" fill="#f5e691"/>
<rect x="620.84" y="696.66" width="16.46" height="15.43" fill="#f1e497"/>
<rect x="636.7" y="696.66" width="16.46" height="15.43" fill="#eae0a0"/>
<rect x="652.57" y="696.66" width="16.46" height="15.43" fill="#f6e78f"/>
<rect x="668.43" y="696.66" width="16.46" height="15.43" fill="#ff0000"/>
<text class="n" x="374.63" y="424.32">1.000</text>
<text class="n" x="390.5" y="424.32">0.992</text>
<text class="n" x="406.36" y="424.32">0.982</text>
<text class="n" x="422.23" y="424.32">0.983</text>
<text class="n" x="438.09" y="424.32">0.958</text>
<text class="n" x="453.96" y="424.32">0.960</text>
<text class="n" x="469.82" y="424.32">0.963</text>
<text class="n" x="485.69" y="424.32">0.964</text>
<text class="n" x="501.55" y="424.32">0.974</text>
<text class="n" x="517.42" y="424.32">0.773</text>
<text class="n" x="533.28" y="424.32">0.965</text>
<text class="n" x="549.15" y="424.32">0.933</text>
<text class="n" x="565.01" y="424.32">0.930</text>
<text class="n" x="580.88" y="424.32">0.933</text>
<text class="n" x="596.74" y="424.32">0.877</text>
<text class="n" x="612.61" y="424.32">0.968</text>
<text class="n" x="628.47" y="424.32">0.970</text>
<text class="n" x="644.34" y="424.32">0.957</text>
<text class="n" x="660.2" y="424.32">0.969</text>
<text class="n" x="676.07" y="424.32">0.902</text>
<text class="n" x="374.63" y="439.15">0.992</text>
<text class="n" x="390.5" y="439.15">1.000</text>
<text class="n" x="406.36" y="439.15">0.990</text>
<text class="n" x="422.23" y="439.15">0.986</text>
<text class="n" x="438.09" y="439.15">0.953</text>
<text class="n" x="453.96" y="439.15">0.956</text>
<text class="n" x="469.82" y="439.15">0.973</text>
<text class="n" x="485.69" y="439.15">0.977</text>
<text class="n" x="501.55" y="439.15">0.974</text>
<text class="n" x="517.42" y="439.15">0.746</text>
<text class="n" x="533.28" y="439.15">0.963</text>
<text class="n" x="549.15" y="439.15">0.944</text>
<text class="n" x="565.01" y="439.15">0.953</text>
<text class="n" x="580.88" y="439.15">0.950</text>
<text class="n" x="596.74" y="439.15">0.871</text>
<text class="n" x="612.61" y="439.15">0.961</text>
<text class="n" x="628.47" y="439.15">0.983</text>
<text class="n" x="644.34" y="439.15">0.973</text>
<text class="n" x="660.2" y="439.15">0.978</text>
<text class="n" x="676.07" y="439.15">0.892</text>
<text class="n" x="374.63" y="453.99">0.982</text>
<text class="n" x="390.5" y="453.99">0.990</text>
<text class="n" x="406.36" y="453.99">1.000</text>
<text class="n" x="422.23" y="453.99">0.994</text>
<text class="n" x="438.09" y="453.99">0.948</text>
<text class="n" x="453.96" y="453.99">0.971</text>
<text class="n" x="469.82" y="453.99">0.980</text>
<text class="n" x="485.69" y="453.99">0.991</text>
<text class="n" x="501.55" y="453.99">0.984</text>
<text class="n" x="517.42" y="453.99">0.733</text>
<text class="n" x="533.28" y="453.99">0.956</text>
<text class="n" x="549.15" y="453.99">0.952</text>
<text class="n" x="565.01" y="453.99">0.974</text>
<text class="n" x="580.88" y="453.99">0.975</text>
<text class="n" x="596.74" y="453.99">0.870</text>
<text class="n" x="612.61" y="453.99">0.956</text>
<text class="n" x="628.47" y="453.99">0.989</text>
<text class="n" x="644.34" y="453.99">0.992</text>
<text class="n" x="660.2" y="453.99">0.994</text>
<text class="n" x="676.07" y="453.99">0.896</text>
<text class="n" x="374.63" y="468.82">0.983</text>
<text class="n" x="390.5" y="468.82">0.986</text>
<text class="n" x="406.36" y="468.82">0.994</text>
<text class="n" x="422.23" y="468.82">1.000</text>
<text class="n" x="438.09" y="468.82">0.975</text>
<text class="n" x="453.96" y="468.82">0.974</text>
<text class="n" x="469.82" y="468.82">0.987</text>
<text class="n" x="485.69" y="468.82">0.987</text>
<text class="n" x="501.55" y="468.82">0.994</text>
<text class="n" x="517.42" y="468.82">0.795</text>
<text class="n" x="533.28" y="468.82">0.970</text>
<text class="n" x="549.15" y="468.82">0.953</text>
<text class="n" x="565.01" y="468.82">0.964</text>
<text class="n" x="580.88" y="468.82">0.972</text>
<text class="n" x="596.74" y="468.82">0.935</text>
<text class="n" x="612.61" y="468.82">0.968</text>
<text class="n" x="628.47" y="468.82">0.993</text>
<text class="n" x="644.34" y="468.82">0.985</text>
<text class="n" x="660.2" y="468.82">0.996</text>
<text class="n" x="676.07" y="468.82">0.936</text>
<text class="n" x="374.63" y="483.66">0.958</text>
<text class="n" x="390.5" y="483.66">0.953</text>
<text class="n" x="406.36" y="483.66">0.948</text>
<text class="n" x="422.23" y="483.66">0.975</text>
<text class="n" x="438.09" y="483.66">1.000</text>
<text class="n" x="453.96" y="483.66">0.949</text>
<text class="n" x="469.82" y="483.66">0.951</text>
<text class="n" x="485.69" y="483.66">0.934</text>
<text class="n" x="501.55" y="483.66">0.982</text>
<text class="n" x="517.42" y="483.66">0.899</text>
<text class="n" x="533.28" y="483.66">0.971</text>
<text class="n" x="549.15" y="483.66">0.917</text>
<text class="n" x="565.01" y="483.66">0.901</text>
<text class="n" x="580.88" y="483.66">0.922</text>
<text class="n" x="596.74" y="483.66">0.956</text>
<text class="n" x="612.61" y="483.66">0.956</text>
<text class="n" x="628.47" y="483.66">0.951</text>
<text class="n" x="644.34" y="483.66">0.928</text>
<text class="n" x="660.2" y="483.66">0.958</text>
<text class="n" x="676.07" y="483.66">0.977</text>
<text class="n" x="374.63" y="498.49">0.960</text>
<text class="n" x="390.5" y="498.49">0.956</text>
<text class="n" x="406.36" y="498.49">0.971</text>
<text class="n" x="422.23" y="498.49">0.974</text>
<text class="n" x="438.09" y="498.49">0.949</text>
<text class="n" x="453.96" y="498.49">1.000</text>
<text class="n" x="469.82" y="498.49">0.986</text>
<text class="n" x="485.69" y="498.49">0.975</text>
<text class="n" x="501.55" y="498.49">0.978</text>
<text class="n" x="517.42" y="498.49">0.784</text>
<text class="n" x="533.28" y="498.49">0.950</text>
<text class="n" x="549.15" y="498.49">0.937</text>
<text class="n" x="565.01" y="498.49">0.952</text>
<text class="n" x="580.88" y="498.49">0.963</text>
<text class="n" x="596.74" y="498.49">0.880</text>
<text class="n" x="612.61" y="498.49">0.952</text>
<text class="n" x="628.47" y="498.49">0.960</text>
<text class="n" x="644.34" y="498.49">0.961</text>
<text class="n" x="660.2" y="498.49">0.974</text>
<text class="n" x="676.07" y="498.49">0.913</text>
<text class="n" x="374.63" y="513.33">0.963</text>
<text class="n" x="390.5" y="513.33">0.973</text>
<text class="n" x="406.36" y="513.33">0.980</text>
<text class="n" x="422.23" y="513.33">0.987</text>
<text class="n" x="438.09" y="513.33">0.951</text>
<text class="n" x="453.96" y="513.33">0.986</text>
<text class="n" x="469.82" y="513.33">1.000</text>
<text class="n" x="485.69" y="513.33">0.991</text>
<text class="n" x="501.55" y="513.33">0.987</text>
<text class="n" x="517.42" y="513.33">0.781</text>
<text class="n" x="533.28" y="513.33">0.960</text>
<text class="n" x="549.15" y="513.33">0.957</text>
<text class="n" x="565.01" y="513.33">0.977</text>
<text class="n" x="580.88" y="513.33">0.983</text>
<text class="n" x="596.74" y="513.33">0.899</text>
<text class="n" x="612.61" y="513.33">0.957</text>
<text class="n" x="628.47" y="513.33">0.985</text>
<text class="n" x="644.34" y="513.33">0.981</text>
<text class="n" x="660.2" y="513.33">0.990</text>
<text class="n" x="676.07" y="513.33">0.922</text>
<text class="n" x="374.63" y="528.16">0.964</text>
<text class="n" x="390.5" y="528.16">0.977</text>
<text class="n" x="406.36" y="528.16">0.991</text>
<text class="n" x="422.23" y="528.16">0.987</text>
<text class="n" x="438.09" y="528.16">0.934</text>
<text class="n" x="453.96" y="528.16">0.975</text>
<text class="n" x="469.82" y="528.16">0.991</text>
<text class="n" x="485.69" y="528.16">1.000</text>
<text class="n" x="501.55" y="528.16">0.982</text>
<text class="n" x="517.42" y="528.16">0.724</text>
<text class="n" x="533.28" y="528.16">0.947</text>
<text class="n" x="549.15" y="528.16">0.958</text>
<text class="n" x="565.01" y="528.16">0.989</text>
<text class="n" x="580.88" y="528.16">0.990</text>
<text class="n" x="596.74" y="528.16">0.850</text>
<text class="n" x="612.61" y="528.16">0.940</text>
<text class="n" x="628.47" y="528.16">0.985</text>
<text class="n" x="644.34" y="528.16">0.997</text>
<text class="n" x="660.2" y="528.16">0.995</text>
<text class="n" x="676.07" y="528.16">0.888</text>
<text class="n" x="374.63" y="543">0.974</text>
<text class="n" x="390.5" y="543">0.974</text>
<text class="n" x="406.36" y="543">0.984</text>
<text class="n" x="422.23" y="543">0.994</text>
<text class="n" x="438.09" y="543">0.982</text>
<text class="n" x="453.96" y="543">0.978</text>
<text class="n" x="469.82" y="543">0.987</text>
<text class="n" x="485.69" y="543">0.982</text>
<text class="n" x="501.55" y="543">1.000</text>
<text class="n" x="517.42" y="543">0.838</text>
<text class="n" x="533.28" y="543">0.973</text>
<text class="n" x="549.15" y="543">0.953</text>
<text class="n" x="565.01" y="543">0.962</text>
<text class="n" x="580.88" y="543">0.975</text>
<text class="n" x="596.74" y="543">0.921</text>
<text class="n" x="612.61" y="543">0.955</text>
<text class="n" x="628.47" y="543">0.978</text>
<text class="n" x="644.34" y="543">0.976</text>
<text class="n" x="660.2" y="543">0.992</text>
<text class="n" x="676.07" y="543">0.952</text>
<text class="n" x="374.63" y="557.83">0.773</text>
<text class="n" x="390.5" y="557.83">0.746</text>
<text class="n" x="406.36" y="557.83">0.733</text>
<text class="n" x="422.23" y="557.83">0.795</text>
<text class="n" x="438.09" y="557.83">0.899</text>
<text class="n" x="453.96" y="557.83">0.784</text>
<text class="n" x="469.82" y="557.83">0.781</text>
<text class="n" x="485.69" y="557.83">0.724</text>
<text class="n" x="501.55" y="557.83">0.838</text>
<text class="n" x="517.42" y="557.83">1.000</text>
<text class="n" x="533.28" y="557.83">0.847</text>
<text class="n" x="549.15" y="557.83">0.752</text>
<text class="n" x="565.01" y="557.83">0.699</text>
<text class="n" x="580.88" y="557.83">0.740</text>
<text class="n" x="596.74" y="557.83">0.929</text>
<text class="n" x="612.61" y="557.83">0.798</text>
<text class="n" x="628.47" y="557.83">0.755</text>
<text class="n" x="644.34" y="557.83">0.715</text>
<text class="n" x="660.2" y="557.83">0.775</text>
<text class="n" x="676.07" y="557.83">0.952</text>
<text class="n" x="374.63" y="572.67">0.965</text>
<text class="n" x="390.5" y="572.67">0.963</text>
<text class="n" x="406.36" y="572.67">0.956</text>
<text class="n" x="422.23" y="572.67">0.970</text>
<text class="n" x="438.09" y="572.67">0.971</text>
<text class="n" x="453.96" y="572.67">0.950</text>
<text class="n" x="469.82" y="572.67">0.960</text>
<text class="n" x="485.69" y="572.67">0.947</text>
<text class="n" x="501.55" y="572.67">0.973</text>
<text class="n" x="517.42" y="572.67">0.847</text>
<text class="n" x="533.28" y="572.67">1.000</text>
<text class="n" x="549.15" y="572.67">0.976</text>
<text class="n" x="565.01" y="572.67">0.940</text>
<text class="n" x="580.88" y="572.67">0.944</text>
<text class="n" x="596.74" y="572.67">0.917</text>
<text class="n" x="612.61" y="572.67">0.977</text>
<text class="n" x="628.47" y="572.67">0.966</text>
<text class="n" x="644.34" y="572.67">0.945</text>
<text class="n" x="660.2" y="572.67">0.953</text>
<text class="n" x="676.07" y="572.67">0.938</text>
<text class="n" x="374.63" y="587.5">0.933</text>
<text class="n" x="390.5" y="587.5">0.944</text>
<text class="n" x="406.36" y="587.5">0.952</text>
<text class="n" x="422.23" y="587.5">0.953</text>
<text class="n" x="438.09" y="587.5">0.917</text>
<text class="n" x="453.96" y="587.5">0.937</text>
<text class="n" x="469.82" y="587.5">0.957</text>
<text class="n" x="485.69" y="587.5">0.958</text>
<text class="n" x="501.55" y="587.5">0.953</text>
<text class="n" x="517.42" y="587.5">0.752</text>
<text class="n" x="533.28" y="587.5">0.976</text>
<text class="n" x="549.15" y="587.5">1.000</text>
<text class="n" x="565.01" y="587.5">0.973</text>
<text class="n" x="580.88" y="587.5">0.966</text>
<text class="n" x="596.74" y="587.5">0.852</text>
<text class="n" x="612.61" y="587.5">0.947</text>
<text class="n" x="628.47" y="587.5">0.942</text>
<text class="n" x="644.34" y="587.5">0.948</text>
<text class="n" x="660.2" y="587.5">0.943</text>
<text class="n" x="676.07" y="587.5">0.879</text>
<text class="n" x="374.63" y="602.34">0.930</text>
<text class="n" x="390.5" y="602.34">0.953</text>
<text class="n" x="406.36" y="602.34">0.974</text>
<text class="n" x="422.23" y="602.34">0.964</text>
<text class="n" x="438.09" y="602.34">0.901</text>
<text class="n" x="453.96" y="602.34">0.952</text>
<text class="n" x="469.82" y="602.34">0.977</text>
<text class="n" x="485.69" y="602.34">0.989</text>
<text class="n" x="501.55" y="602.34">0.962</text>
<text class="n" x="517.42" y="602.34">0.699</text>
<text class="n" x="533.28" y="602.34">0.940</text>
<text class="n" x="549.15" y="602.34">0.973</text>
<text class="n" x="565.01" y="602.34">1.000</text>
<text class="n" x="580.88" y="602.34">0.995</text>
<text class="n" x="596.74" y="602.34">0.833</text>
<text class="n" x="612.61" y="602.34">0.938</text>
<text class="n" x="628.47" y="602.34">0.973</text>
<text class="n" x="644.34" y="602.34">0.990</text>
<text class="n" x="660.2" y="602.34">0.982</text>
<text class="n" x="676.07" y="602.34">0.863</text>
<text class="n" x="374.63" y="617.17">0.933</text>
<text class="n" x="390.5" y="617.17">0.950</text>
<text class="n" x="406.36" y="617.17">0.975</text>
<text class="n" x="422.23" y="617.17">0.972</text>
<text class="n" x="438.09" y="617.17">0.922</text>
<text class="n" x="453.96" y="617.17">0.963</text>
<text class="n" x="469.82" y="617.17">0.983</text>
<text class="n" x="485.69" y="617.17">0.990</text>
<text class="n" x="501.55" y="617.17">0.975</text>
<text class="n" x="517.42" y="617.17">0.740</text>
<text class="n" x="533.28" y="617.17">0.944</text>
<text class="n" x="549.15" y="617.17">0.966</text>
<text class="n" x="565.01" y="617.17">0.995</text>
<text class="n" x="580.88" y="617.17">1.000</text>
<text class="n" x="596.74" y="617.17">0.853</text>
<text class="n" x="612.61" y="617.17">0.922</text>
<text class="n" x="628.47" y="617.17">0.973</text>
<text class="n" x="644.34" y="617.17">0.991</text>
<text class="n" x="660.2" y="617.17">0.989</text>
<text class="n" x="676.07" y="617.17">0.892</text>
<text class="n" x="374.63" y="632.01">0.877</text>
<text class="n" x="390.5" y="632.01">0.871</text>
<text class="n" x="406.36" y="632.01">0.870</text>
<text class="n" x="422.23" y="632.01">0.935</text>
<text class="n" x="438.09" y="632.01">0.956</text>
<text class="n" x="453.96" y="632.01">0.880</text>
<text class="n" x="469.82" y="632.01">0.899</text>
<text class="n" x="485.69" y="632.01">0.850</text>
<text class="n" x="501.55" y="632.01">0.921</text>
<text class="n" x="517.42" y="632.01">0.929</text>
<text class="n" x="533.28" y="632.01">0.917</text>
<text class="n" x="549.15" y="632.01">0.852</text>
<text class="n" x="565.01" y="632.01">0.833</text>
<text class="n" x="580.88" y="632.01">0.853</text>
<text class="n" x="596.74" y="632.01">1.000</text>
<text class="n" x="612.61" y="632.01">0.920</text>
<text class="n" x="628.47" y="632.01">0.906</text>
<text class="n" x="644.34" y="632.01">0.858</text>
<text class="n" x="660.2" y="632.01">0.901</text>
<text class="n" x="676.07" y="632.01">0.983</text>
<text class="n" x="374.63" y="646.84">0.968</text>
<text class="n" x="390.5" y="646.84">0.961</text>
<text class="n" x="406.36" y="646.84">0.956</text>
<text class="n" x="422.23" y="646.84">0.968</text>
<text class="n" x="438.09" y="646.84">0.956</text>
<text class="n" x="453.96" y="646.84">0.952</text>
<text class="n" x="469.82" y="646.84">0.957</text>
<text class="n" x="485.69" y="646.84">0.940</text>
<text class="n" x="501.55" y="646.84">0.955</text>
<text class="n" x="517.42" y="646.84">0.798</text>
<text class="n" x="533.28" y="646.84">0.977</text>
<text class="n" x="549.15" y="646.84">0.947</text>
<text class="n" x="565.01" y="646.84">0.938</text>
<text class="n" x="580.88" y="646.84">0.922</text>
<text class="n" x="596.74" y="646.84">0.920</text>
<text class="n" x="612.61" y="646.84">1.000</text>
<text class="n" x="628.47" y="646.84">0.973</text>
<text class="n" x="644.34" y="646.84">0.943</text>
<text class="n" x="660.2" y="646.84">0.956</text>
<text class="n" x="676.07" y="646.84">0.925</text>
<text class="n" x="374.63" y="661.68">0.970</text>
<text class="n" x="390.5" y="661.68">0.983</text>
<text class="n" x="406.36" y="661.68">0.989</text>
<text class="n" x="422.23" y="661.68">0.993</text>
<text class="n" x="438.09" y="661.68">0.951</text>
<text class="n" x="453.96" y="661.68">0.960</text>
<text class="n" x="469.82" y="661.68">0.985</text>
<text class="n" x="485.69" y="661.68">0.985</text>
<text class="n" x="501.55" y="661.68">0.978</text>
<text class="n" x="517.42" y="661.68">0.755</text>
<text class="n" x="533.28" y="661.68">0.966</text>
<text class="n" x="549.15" y="661.68">0.942</text>
<text class="n" x="565.01" y="661.68">0.973</text>
<text class="n" x="580.88" y="661.68">0.973</text>
<text class="n" x="596.74" y="661.68">0.906</text>
<text class="n" x="612.61" y="661.68">0.973</text>
<text class="n" x="628.47" y="661.68">1.000</text>
<text class="n" x="644.34" y="661.68">0.990</text>
<text class="n" x="660.2" y="661.68">0.992</text>
<text class="n" x="676.07" y="661.68">0.910</text>
<text class="n" x="374.63" y="676.51">0.957</text>
<text class="n" x="390.5" y="676.51">0.973</text>
<text class="n" x="406.36" y="676.51">0.992</text>
<text class="n" x="422.23" y="676.51">0.985</text>
<text class="n" x="438.09" y="676.51">0.928</text>
<text class="n" x="453.96" y="676.51">0.961</text>
<text class="n" x="469.82" y="676.51">0.981</text>
<text class="n" x="485.69" y="676.51">0.997</text>
<text class="n" x="501.55" y="676.51">0.976</text>
<text class="n" x="517.42" y="676.51">0.715</text>
<text class="n" x="533.28" y="676.51">0.945</text>
<text class="n" x="549.15" y="676.51">0.948</text>
<text class="n" x="565.01" y="676.51">0.990</text>
<text class="n" x="580.88" y="676.51">0.991</text>
<text class="n" x="596.74" y="676.51">0.858</text>
<text class="n" x="612.61" y="676.51">0.943</text>
<text class="n" x="628.47" y="676.51">0.990</text>
<text class="n" x="644.34" y="676.51">1.000</text>
<text class="n" x="660.2" y="676.51">0.995</text>
<text class="n" x="676.07" y="676.51">0.885</text>
<text class="n" x="374.63" y="691.35">0.969</text>
<text class="n" x="390.5" y="691.35">0.978</text>
<text class="n" x="406.36" y="691.35">0.994</text>
<text class="n" x="422.23" y="691.35">0.996</text>
<text class="n" x="438.09" y="691.35">0.958</text>
<text class="n" x="453.96" y="691.35">0.974</text>
<text class="n" x="469.82" y="691.35">0.990</text>
<text class="n" x="485.69" y="691.35">0.995</text>
<text class="n" x="501.55" y="691.35">0.992</text>
<text class="n" x="517.42" y="691.35">0.775</text>
<text class="n" x="533.28" y="691.35">0.953</text>
<text class="n" x="549.15" y="691.35">0.943</text>
<text class="n" x="565.01" y="691.35">0.982</text>
<text class="n" x="580.88" y="691.35">0.989</text>
<text class="n" x="596.74" y="691.35">0.901</text>
<text class="n" x="612.61" y="691.35">0.956</text>
<text class="n" x="628.47" y="691.35">0.992</text>
<text class="n" x="644.34" y="691.35">0.995</text>
<text class="n" x="660.2" y="691.35">1.000</text>
<text class="n" x="676.07" y="691.35">0.929</text>
<text class="n" x="374.63" y="706.18">0.902</text>
<text class="n" x="390.5" y="706.18">0.892</text>
<text class="n" x="406.36" y="706.18">0.896</text>
<text class="n" x="422.23" y="706.18">0.936</text>
<text class="n" x="438.09" y="706.18">0.977</text>
<text class="n" x="453.96" y="706.18">0.913</text>
<text class="n" x="469.82" y="706.18">0.922</text>
<text class="n" x="485.69" y="706.18">0.888</text>
<text class="n" x="501.55" y="706.18">0.952</text>
<text class="n" x="517.42" y="706.18">0.952</text>
<text class="n" x="533.28" y="706.18">0.938</text>
<text class="n" x="549.15" y="706.18">0.879</text>
<text class="n" x="565.01" y="706.18">0.863</text>
<text class="n" x="580.88" y="706.18">0.892</text>
<text class="n" x="596.74" y="706.18">0.983</text>
<text class="n" x="612.61" y="706.18">0.925</text>
<text class="n" x="628.47" y="706.18">0.910</text>
<text class="n" x="644.34" y="706.18">0.885</text>
<text class="n" x="660.2" y="706.18">0.929</text>
<text class="n" x="676.07" y="706.18">1.000</text>
<line class="l o" x1="367" y1="414.3" x2="367" y2="712"/>
<line class="l o" x1="366.5" y1="414.8" x2="684.8" y2="414.8"/>
<line class="l" x1="446.32" y1="414.3" x2="446.32" y2="712"/>
<line class="l" x1="366.5" y1="488.98" x2="684.8" y2="488.98"/>
<line class="l" x1="525.65" y1="414.3" x2="525.65" y2="712"/>
<line class="l" x1="366.5" y1="563.15" x2="684.8" y2="563.15"/>
<line class="l" x1="604.97" y1="414.3" x2="604.97" y2="712"/>
<line class="l" x1="366.5" y1="637.33" x2="684.8" y2="637.33"/>
<line class="l o" x1="684.3" y1="414.3" x2="684.3" y2="712"/>
<line class="l o" x1="366.5" y1="711.5" x2="684.8" y2="711.5"/>
<text class="t" x="371.1" y="393.6" xml:space="preserve"><tspan>(D)</tspan> Correlation – Anesthetized Normalized</text>
</g>
</svg>
</body></html>
